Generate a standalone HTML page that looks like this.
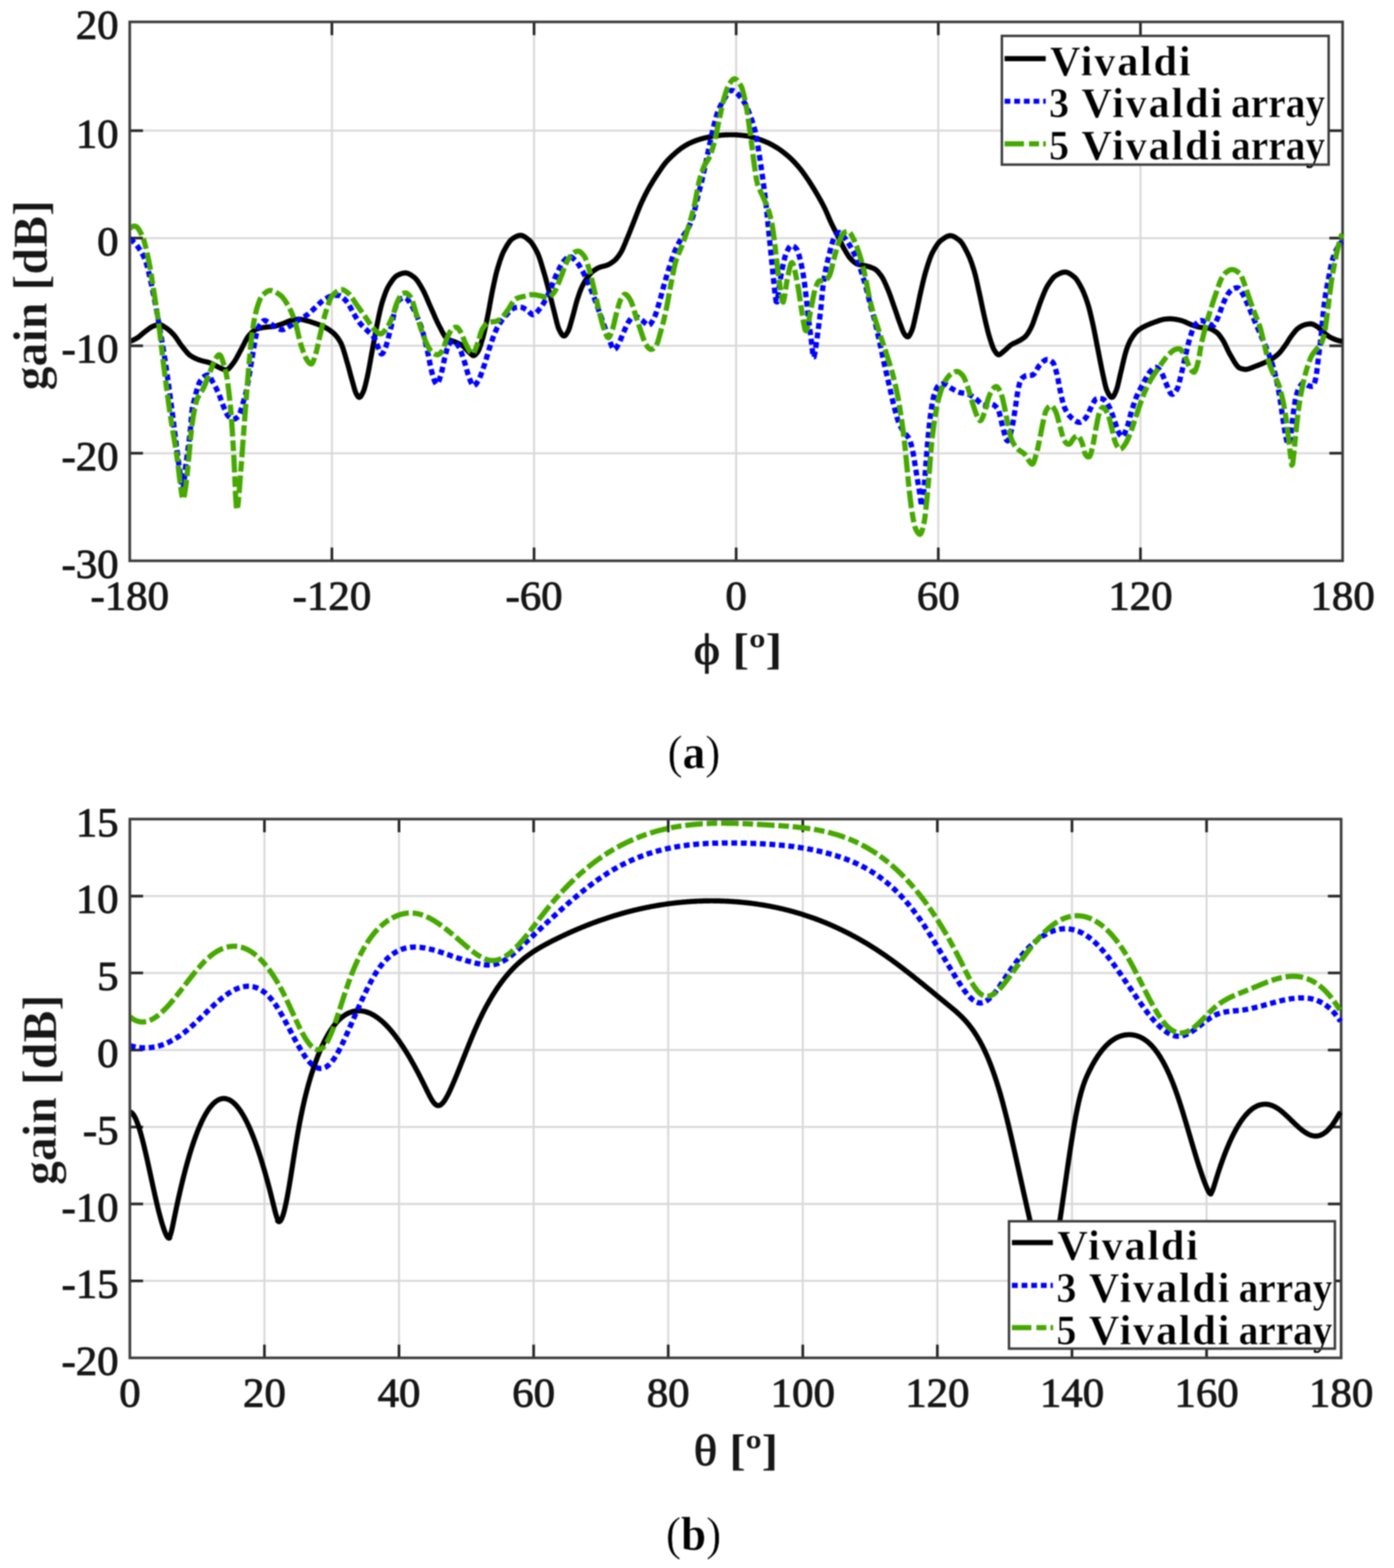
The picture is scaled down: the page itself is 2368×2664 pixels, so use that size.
<!DOCTYPE html>
<html lang="en"><head><meta charset="utf-8"><title>Gain patterns</title>
<style>html,body{margin:0;padding:0;background:#fff}body{width:2368px;height:2664px;overflow:hidden}svg{display:block;font-family:"Liberation Serif", "DejaVu Serif", serif}</style></head><body>
<svg width="2368" height="2664" viewBox="0 0 2368 2664">
<defs><filter id="soft" x="0" y="0" width="2368" height="2664" filterUnits="userSpaceOnUse" color-interpolation-filters="sRGB"><feGaussianBlur stdDeviation="1.00"/></filter></defs>
<rect width="2368" height="2664" fill="#fff"/>
<g filter="url(#soft)">
<rect width="2368" height="2664" fill="#fff"/>
<g id="plot-a">
<path d="M563.8 37.2V952.8M907.2 37.2V952.8M1250.5 37.2V952.8M1593.9 37.2V952.8M1937.3 37.2V952.8M220.4 770.1H2280.7M220.4 587.4H2280.7M220.4 404.6H2280.7M220.4 221.9H2280.7" stroke="#d8d8d8" stroke-width="3.3" fill="none"/>
<path d="M563.8 952.8v-22.5M563.8 37.2v22.5M907.2 952.8v-22.5M907.2 37.2v22.5M1250.5 952.8v-22.5M1250.5 37.2v22.5M1593.9 952.8v-22.5M1593.9 37.2v22.5M1937.3 952.8v-22.5M1937.3 37.2v22.5M220.4 770.1h22.5M2280.7 770.1h-22.5M220.4 587.4h22.5M2280.7 587.4h-22.5M220.4 404.6h22.5M2280.7 404.6h-22.5M220.4 221.9h22.5M2280.7 221.9h-22.5" stroke="#242424" stroke-width="4.5" fill="none"/>
<rect x="220.4" y="37.2" width="2060.3" height="915.6" fill="none" stroke="#3c3c3c" stroke-width="4.5"/>
<clipPath id="clip1"><rect x="222.8" y="37.2" width="2061.1" height="915.6"/></clipPath>
<g clip-path="url(#clip1)" fill="none" stroke-linejoin="round" stroke-width="8.7">
<path d="M220.4 579.9L221.9 579.5L223.4 579.0L224.9 578.4L226.4 577.7L227.9 577.0L229.4 576.2L230.9 575.4L232.4 574.5L233.9 573.6L235.4 572.6L236.9 571.4L238.4 570.1L239.9 568.9L241.4 567.5L242.9 566.2L244.4 565.0L245.9 563.8L247.4 562.6L248.9 561.5L250.4 560.4L251.9 559.3L253.4 558.2L254.9 557.1L256.4 556.2L257.9 555.3L259.4 554.6L260.9 554.0L262.4 553.4L263.9 552.9L265.4 552.4L266.9 552.0L268.4 551.8L269.9 551.7L271.4 551.7L272.9 552.0L274.4 552.5L275.9 553.2L277.4 554.1L278.9 555.1L280.4 556.1L281.9 557.0L283.4 558.0L284.9 559.1L286.4 560.3L287.9 561.5L289.4 562.9L290.9 564.3L292.4 565.8L293.9 567.4L295.4 569.0L296.9 570.8L298.4 572.8L299.9 574.9L301.4 577.1L302.9 579.4L304.4 581.7L305.9 583.9L307.4 586.0L308.9 588.0L310.4 589.9L311.9 591.8L313.4 593.7L314.9 595.5L316.4 597.3L317.9 599.1L319.4 600.6L320.9 602.1L322.4 603.4L323.9 604.4L325.4 605.4L326.9 606.3L328.4 607.1L329.9 607.9L331.4 608.7L332.9 609.3L334.4 610.0L335.9 610.6L337.4 611.1L338.9 611.7L340.4 612.1L341.9 612.6L343.4 613.0L344.9 613.4L346.4 613.7L347.9 614.1L349.4 614.5L350.9 614.8L352.4 615.2L353.9 615.7L355.4 616.2L356.9 616.7L358.4 617.3L359.9 617.9L361.4 618.6L362.9 619.4L364.4 620.2L365.9 621.0L367.4 621.8L368.9 622.6L370.4 623.4L371.9 624.2L373.4 624.9L374.9 625.6L376.4 626.3L377.9 626.9L379.4 627.6L380.9 628.1L382.4 628.4L383.9 628.6L385.4 628.3L386.9 627.5L388.4 626.4L389.9 624.9L391.4 623.2L392.9 621.3L394.4 619.3L395.9 617.3L397.4 615.3L398.9 613.2L400.4 610.8L401.9 608.2L403.4 605.4L404.9 602.6L406.4 599.7L407.9 596.9L409.4 594.2L410.9 591.4L412.4 588.4L413.9 585.4L415.4 582.4L416.9 579.5L418.4 576.7L419.9 574.2L421.4 571.9L422.9 570.0L424.4 568.3L425.9 566.7L427.4 565.2L428.9 563.8L430.4 562.5L431.9 561.3L433.4 560.4L434.9 559.6L436.4 558.9L437.9 558.5L439.4 558.1L440.9 557.8L442.4 557.4L443.9 557.1L445.4 556.8L446.9 556.6L448.4 556.3L449.9 556.1L451.4 555.9L452.9 555.7L454.4 555.6L455.9 555.5L457.4 555.3L458.9 555.2L460.4 555.1L461.9 555.0L463.4 554.8L464.9 554.6L466.4 554.3L467.9 554.0L469.4 553.6L470.9 553.2L472.4 552.7L473.9 552.2L475.4 551.7L476.9 551.2L478.4 550.6L479.9 550.1L481.4 549.6L482.9 548.9L484.4 548.3L485.9 547.6L487.4 546.9L488.9 546.3L490.4 545.7L491.9 545.1L493.4 544.7L494.9 544.3L496.4 543.9L497.9 543.5L499.4 543.2L500.9 542.9L502.4 542.7L503.9 542.5L505.4 542.3L506.9 542.3L508.4 542.3L509.9 542.4L511.4 542.6L512.9 542.9L514.4 543.2L515.9 543.5L517.4 543.9L518.9 544.3L520.4 544.7L521.9 545.1L523.4 545.5L524.9 545.9L526.4 546.3L527.9 546.8L529.4 547.3L530.9 547.8L532.4 548.3L533.9 548.8L535.4 549.4L536.9 549.9L538.4 550.4L539.9 551.0L541.4 551.5L542.9 552.1L544.4 552.7L545.9 553.3L547.4 554.0L548.9 554.6L550.4 555.3L551.9 556.0L553.4 556.8L554.9 557.7L556.4 558.6L557.9 559.5L559.4 560.5L560.9 561.6L562.4 562.7L563.9 563.8L565.4 565.0L566.9 566.3L568.4 567.8L569.9 569.4L571.4 571.1L572.9 573.0L574.4 575.1L575.9 577.4L577.4 579.8L578.9 582.4L580.4 585.7L581.9 589.7L583.4 594.2L584.9 599.0L586.4 604.1L587.9 609.3L589.4 614.4L590.9 619.6L592.4 625.0L593.9 630.7L595.4 636.4L596.9 642.0L598.4 647.3L599.9 652.7L601.4 658.1L602.9 663.2L604.4 667.4L605.9 670.4L607.4 672.8L608.9 674.5L610.4 675.1L611.9 674.4L613.4 672.6L614.9 670.1L616.4 667.1L617.9 663.7L619.4 658.9L620.9 653.3L622.4 647.0L623.9 640.5L625.4 633.4L626.9 625.6L628.4 617.3L629.9 608.8L631.4 600.4L632.9 592.3L634.4 584.2L635.9 575.9L637.4 567.7L638.9 559.8L640.4 552.2L641.9 544.9L643.4 537.7L644.9 530.8L646.4 524.2L647.9 518.2L649.4 513.1L650.9 508.4L652.4 504.0L653.9 499.8L655.4 495.8L656.9 492.3L658.4 489.0L659.9 486.2L661.4 483.8L662.9 481.5L664.4 479.2L665.9 477.1L667.4 475.0L668.9 473.1L670.4 471.5L671.9 470.0L673.4 468.8L674.9 467.9L676.4 467.2L677.9 466.5L679.4 465.8L680.9 465.2L682.4 464.7L683.9 464.3L685.4 464.0L686.9 463.8L688.4 463.7L689.9 463.8L691.4 464.1L692.9 464.5L694.4 465.2L695.9 465.9L697.4 466.8L698.9 467.7L700.4 468.8L701.9 469.8L703.4 470.9L704.9 472.2L706.4 473.8L707.9 475.6L709.4 477.6L710.9 479.8L712.4 482.2L713.9 484.6L715.4 487.2L716.9 489.8L718.4 492.5L719.9 495.4L721.4 498.5L722.9 501.8L724.4 505.2L725.9 508.7L727.4 512.2L728.9 515.8L730.4 519.2L731.9 522.5L733.4 525.9L734.9 529.3L736.4 532.8L737.9 536.2L739.4 539.7L740.9 543.0L742.4 546.3L743.9 549.4L745.4 552.4L746.9 555.2L748.4 558.1L749.9 561.1L751.4 564.0L752.9 566.7L754.4 569.2L755.9 571.5L757.4 573.5L758.9 575.0L760.4 576.0L761.9 576.9L763.4 577.6L764.9 578.2L766.4 578.7L767.9 579.2L769.4 579.7L770.9 580.2L772.4 580.7L773.9 581.3L775.4 582.0L776.9 582.7L778.4 583.3L779.9 584.0L781.4 584.8L782.9 585.6L784.4 586.4L785.9 587.4L787.4 588.6L788.9 590.0L790.4 591.6L791.9 593.3L793.4 594.9L794.9 596.6L796.4 598.1L797.9 599.5L799.4 600.9L800.9 602.3L802.4 603.5L803.9 604.1L805.4 604.1L806.9 603.2L808.4 601.7L809.9 599.9L811.4 598.0L812.9 595.4L814.4 591.8L815.9 587.6L817.4 582.9L818.9 578.0L820.4 572.9L821.9 567.1L823.4 560.8L824.9 554.0L826.4 546.9L827.9 539.7L829.4 532.2L830.9 524.1L832.4 515.8L833.9 507.4L835.4 499.4L836.9 492.0L838.4 484.8L839.9 477.8L841.4 471.0L842.9 464.7L844.4 459.0L845.9 453.9L847.4 449.0L848.9 444.3L850.4 439.9L851.9 435.7L853.4 431.9L854.9 428.4L856.4 425.5L857.9 422.8L859.4 420.1L860.9 417.6L862.4 415.1L863.9 412.8L865.4 410.8L866.9 408.9L868.4 407.3L869.9 406.0L871.4 405.0L872.9 404.1L874.4 403.2L875.9 402.4L877.4 401.6L878.9 401.0L880.4 400.5L881.9 400.1L883.4 399.9L884.9 399.9L886.4 400.1L887.9 400.6L889.4 401.2L890.9 402.1L892.4 403.1L893.9 404.2L895.4 405.4L896.9 406.6L898.4 407.9L899.9 409.2L901.4 410.7L902.9 412.5L904.4 414.5L905.9 416.7L907.4 419.2L908.9 421.8L910.4 424.5L911.9 427.4L913.4 430.5L914.9 434.1L916.4 438.2L917.9 442.7L919.4 447.5L920.9 452.5L922.4 457.5L923.9 462.6L925.4 467.6L926.9 473.0L928.4 478.5L929.9 484.1L931.4 489.8L932.9 495.6L934.4 501.5L935.9 507.5L937.4 513.7L938.9 519.7L940.4 525.7L941.9 531.6L943.4 537.8L944.9 544.0L946.4 549.9L947.9 555.1L949.4 559.1L950.9 562.2L952.4 565.1L953.9 567.6L955.4 569.4L956.9 570.6L958.4 570.8L959.9 570.1L961.4 568.6L962.9 566.4L964.4 563.8L965.9 560.9L967.4 556.8L968.9 551.8L970.4 546.4L971.9 541.0L973.4 535.7L974.9 530.1L976.4 524.3L977.9 518.5L979.4 513.1L980.9 508.1L982.4 503.6L983.9 499.2L985.4 495.0L986.9 491.1L988.4 487.7L989.9 484.6L991.4 481.7L992.9 479.1L994.4 476.6L995.9 474.3L997.4 472.1L998.9 470.1L1000.4 468.1L1001.9 466.2L1003.4 464.5L1004.9 462.9L1006.4 461.6L1007.9 460.4L1009.4 459.3L1010.9 458.3L1012.4 457.3L1013.9 456.4L1015.4 455.6L1016.9 454.9L1018.4 454.3L1019.9 453.7L1021.4 453.3L1022.9 452.9L1024.4 452.5L1025.9 452.1L1027.4 451.7L1028.9 451.3L1030.4 450.8L1031.9 450.3L1033.4 449.6L1034.9 448.8L1036.4 448.0L1037.9 447.1L1039.4 446.0L1040.9 445.0L1042.4 443.8L1043.9 442.6L1045.4 441.2L1046.9 439.7L1048.4 437.9L1049.9 436.0L1051.4 433.9L1052.9 431.6L1054.4 429.3L1055.9 426.7L1057.4 423.7L1058.9 420.4L1060.4 416.9L1061.9 413.3L1063.4 409.6L1064.9 405.9L1066.4 402.3L1067.9 398.7L1069.4 395.0L1070.9 391.2L1072.4 387.4L1073.9 383.6L1075.4 379.8L1076.9 376.0L1078.4 372.2L1079.9 368.4L1081.4 364.5L1082.9 360.6L1084.4 356.8L1085.9 353.1L1087.4 349.5L1088.9 346.1L1090.4 342.8L1091.9 339.6L1093.4 336.4L1094.9 333.3L1096.4 330.3L1097.9 327.4L1099.4 324.5L1100.9 321.8L1102.4 319.1L1103.9 316.4L1105.4 313.9L1106.9 311.4L1108.4 308.9L1109.9 306.5L1111.4 304.1L1112.9 301.8L1114.4 299.5L1115.9 297.3L1117.4 295.0L1118.9 292.8L1120.4 290.6L1121.9 288.3L1123.4 286.1L1124.9 284.0L1126.4 281.9L1127.9 279.9L1129.4 277.9L1130.9 276.1L1132.4 274.4L1133.9 272.7L1135.4 271.1L1136.9 269.6L1138.4 268.1L1139.9 266.6L1141.4 265.2L1142.9 263.8L1144.4 262.5L1145.9 261.1L1147.4 259.8L1148.9 258.5L1150.4 257.2L1151.9 256.0L1153.4 254.8L1154.9 253.6L1156.4 252.4L1157.9 251.4L1159.4 250.3L1160.9 249.4L1162.4 248.4L1163.9 247.5L1165.4 246.6L1166.9 245.8L1168.4 244.9L1169.9 244.1L1171.4 243.4L1172.9 242.7L1174.4 242.0L1175.9 241.4L1177.4 240.7L1178.9 240.1L1180.4 239.5L1181.9 239.0L1183.4 238.4L1184.9 237.9L1186.4 237.4L1187.9 236.9L1189.4 236.5L1190.9 236.0L1192.4 235.6L1193.9 235.2L1195.4 234.8L1196.9 234.4L1198.4 234.1L1199.9 233.7L1201.4 233.4L1202.9 233.1L1204.4 232.7L1205.9 232.4L1207.4 232.1L1208.9 231.9L1210.4 231.6L1211.9 231.3L1213.4 231.1L1214.9 230.9L1216.4 230.7L1217.9 230.5L1219.4 230.3L1220.9 230.1L1222.4 229.9L1223.9 229.8L1225.4 229.6L1226.9 229.5L1228.4 229.4L1229.9 229.3L1231.4 229.2L1232.9 229.2L1234.4 229.1L1235.9 229.1L1237.4 229.0L1238.9 229.0L1240.4 229.0L1241.9 229.0L1243.4 229.0L1244.9 229.0L1246.4 229.0L1247.9 229.0L1249.4 229.1L1250.9 229.2L1252.4 229.2L1253.9 229.4L1255.4 229.5L1256.9 229.6L1258.4 229.7L1259.9 229.9L1261.4 230.0L1262.9 230.2L1264.4 230.4L1265.9 230.6L1267.4 230.7L1268.9 230.9L1270.4 231.2L1271.9 231.5L1273.4 231.9L1274.9 232.2L1276.4 232.6L1277.9 233.1L1279.4 233.5L1280.9 234.0L1282.4 234.4L1283.9 234.9L1285.4 235.4L1286.9 235.8L1288.4 236.3L1289.9 236.8L1291.4 237.3L1292.9 237.8L1294.4 238.4L1295.9 239.0L1297.4 239.6L1298.9 240.2L1300.4 240.8L1301.9 241.5L1303.4 242.1L1304.9 242.8L1306.4 243.5L1307.9 244.3L1309.4 245.0L1310.9 245.8L1312.4 246.7L1313.9 247.5L1315.4 248.4L1316.9 249.3L1318.4 250.2L1319.9 251.1L1321.4 252.0L1322.9 253.0L1324.4 254.0L1325.9 255.1L1327.4 256.2L1328.9 257.3L1330.4 258.4L1331.9 259.6L1333.4 260.8L1334.9 262.0L1336.4 263.2L1337.9 264.5L1339.4 265.8L1340.9 267.1L1342.4 268.5L1343.9 269.9L1345.4 271.4L1346.9 272.9L1348.4 274.4L1349.9 276.0L1351.4 277.6L1352.9 279.3L1354.4 281.0L1355.9 282.7L1357.4 284.5L1358.9 286.3L1360.4 288.2L1361.9 290.2L1363.4 292.2L1364.9 294.2L1366.4 296.3L1367.9 298.4L1369.4 300.6L1370.9 302.7L1372.4 304.9L1373.9 307.2L1375.4 309.5L1376.9 311.8L1378.4 314.2L1379.9 316.6L1381.4 319.1L1382.9 321.6L1384.4 324.1L1385.9 326.6L1387.4 329.1L1388.9 331.7L1390.4 334.2L1391.9 336.9L1393.4 339.5L1394.9 342.2L1396.4 345.0L1397.9 347.8L1399.4 350.7L1400.9 353.7L1402.4 356.9L1403.9 360.3L1405.4 363.8L1406.9 367.3L1408.4 370.8L1409.9 374.2L1411.4 377.5L1412.9 380.7L1414.4 383.7L1415.9 386.7L1417.4 389.7L1418.9 392.6L1420.4 395.6L1421.9 398.5L1423.4 401.5L1424.9 404.6L1426.4 407.7L1427.9 410.9L1429.4 414.0L1430.9 417.0L1432.4 419.9L1433.9 422.6L1435.4 425.2L1436.9 427.8L1438.4 430.4L1439.9 432.8L1441.4 435.1L1442.9 437.2L1444.4 439.0L1445.9 440.6L1447.4 442.1L1448.9 443.5L1450.4 444.8L1451.9 446.0L1453.4 447.1L1454.9 448.0L1456.4 448.7L1457.9 449.1L1459.4 449.5L1460.9 449.8L1462.4 450.1L1463.9 450.3L1465.4 450.6L1466.9 450.8L1468.4 451.1L1469.9 451.4L1471.4 451.8L1472.9 452.2L1474.4 452.6L1475.9 453.0L1477.4 453.5L1478.9 454.0L1480.4 454.6L1481.9 455.2L1483.4 455.8L1484.9 456.5L1486.4 457.3L1487.9 458.4L1489.4 459.7L1490.9 461.2L1492.4 462.9L1493.9 464.7L1495.4 466.6L1496.9 468.5L1498.4 470.8L1499.9 473.4L1501.4 476.3L1502.9 479.5L1504.4 482.8L1505.9 486.2L1507.4 489.7L1508.9 493.3L1510.4 497.1L1511.9 501.1L1513.4 505.3L1514.9 509.6L1516.4 514.0L1517.9 518.3L1519.4 522.5L1520.9 526.8L1522.4 531.2L1523.9 535.6L1525.4 540.0L1526.9 544.2L1528.4 548.4L1529.9 552.4L1531.4 556.5L1532.9 560.4L1534.4 564.0L1535.9 566.8L1537.4 569.0L1538.9 570.7L1540.4 571.9L1541.9 572.4L1543.4 571.7L1544.9 569.9L1546.4 567.2L1547.9 564.0L1549.4 560.5L1550.9 555.7L1552.4 549.7L1553.9 543.0L1555.4 536.1L1556.9 529.5L1558.4 522.6L1559.9 515.4L1561.4 508.1L1562.9 501.0L1564.4 494.2L1565.9 487.8L1567.4 481.3L1568.9 475.1L1570.4 469.1L1571.9 463.5L1573.4 458.4L1574.9 453.6L1576.4 448.8L1577.9 444.3L1579.4 440.0L1580.9 436.0L1582.4 432.4L1583.9 429.2L1585.4 426.5L1586.9 423.8L1588.4 421.3L1589.9 418.8L1591.4 416.6L1592.9 414.4L1594.4 412.5L1595.9 410.8L1597.4 409.4L1598.9 408.2L1600.4 407.1L1601.9 406.0L1603.4 404.9L1604.9 403.9L1606.4 403.0L1607.9 402.2L1609.4 401.5L1610.9 401.0L1612.4 400.6L1613.9 400.4L1615.4 400.5L1616.9 400.7L1618.4 401.1L1619.9 401.8L1621.4 402.5L1622.9 403.4L1624.4 404.4L1625.9 405.4L1627.4 406.5L1628.9 407.7L1630.4 408.8L1631.9 410.3L1633.4 412.2L1634.9 414.3L1636.4 416.7L1637.9 419.3L1639.4 422.0L1640.9 424.9L1642.4 427.9L1643.9 430.8L1645.4 434.0L1646.9 437.4L1648.4 441.2L1649.9 445.2L1651.4 449.6L1652.9 454.2L1654.4 459.0L1655.9 464.1L1657.4 469.9L1658.9 476.3L1660.4 483.1L1661.9 490.1L1663.4 497.0L1664.9 503.8L1666.4 510.9L1667.9 518.1L1669.4 525.3L1670.9 532.2L1672.4 538.9L1673.9 545.4L1675.4 551.9L1676.9 558.1L1678.4 564.1L1679.9 569.6L1681.4 574.5L1682.9 579.3L1684.4 583.9L1685.9 588.2L1687.4 591.9L1688.9 594.8L1690.4 597.1L1691.9 599.3L1693.4 601.2L1694.9 602.4L1696.4 602.8L1697.9 602.3L1699.4 601.5L1700.9 600.4L1702.4 599.2L1703.9 597.8L1705.4 596.5L1706.9 595.3L1708.4 594.0L1709.9 592.6L1711.4 591.1L1712.9 589.7L1714.4 588.4L1715.9 587.1L1717.4 586.0L1718.9 585.0L1720.4 584.2L1721.9 583.5L1723.4 582.8L1724.9 582.1L1726.4 581.4L1727.9 580.7L1729.4 579.9L1730.9 579.1L1732.4 578.3L1733.9 577.4L1735.4 576.5L1736.9 575.6L1738.4 574.5L1739.9 573.4L1741.4 572.1L1742.9 570.5L1744.4 568.6L1745.9 566.5L1747.4 564.1L1748.9 561.5L1750.4 558.7L1751.9 555.8L1753.4 552.5L1754.9 548.7L1756.4 544.6L1757.9 540.2L1759.4 535.9L1760.9 531.7L1762.4 527.4L1763.9 523.0L1765.4 518.6L1766.9 514.4L1768.4 510.5L1769.9 506.6L1771.4 502.9L1772.9 499.1L1774.4 495.6L1775.9 492.2L1777.4 489.1L1778.9 486.3L1780.4 483.9L1781.9 481.6L1783.4 479.4L1784.9 477.3L1786.4 475.2L1787.9 473.4L1789.4 471.7L1790.9 470.2L1792.4 469.0L1793.9 468.0L1795.4 467.1L1796.9 466.3L1798.4 465.5L1799.9 464.7L1801.4 464.1L1802.9 463.5L1804.4 463.0L1805.9 462.6L1807.4 462.4L1808.9 462.3L1810.4 462.3L1811.9 462.6L1813.4 463.1L1814.9 463.7L1816.4 464.5L1817.9 465.4L1819.4 466.4L1820.9 467.5L1822.4 468.6L1823.9 469.8L1825.4 471.0L1826.9 472.5L1828.4 474.3L1829.9 476.5L1831.4 478.8L1832.9 481.4L1834.4 484.0L1835.9 486.8L1837.4 489.6L1838.9 492.7L1840.4 496.0L1841.9 499.6L1843.4 503.5L1844.9 507.6L1846.4 511.9L1847.9 516.4L1849.4 521.4L1850.9 527.0L1852.4 533.1L1853.9 539.5L1855.4 546.1L1856.9 552.8L1858.4 559.9L1859.9 567.4L1861.4 575.1L1862.9 582.9L1864.4 590.6L1865.9 598.1L1867.4 605.9L1868.9 613.6L1870.4 621.2L1871.9 628.6L1873.4 635.6L1874.9 642.5L1876.4 649.4L1877.9 655.7L1879.4 661.0L1880.9 664.7L1882.4 667.8L1883.9 670.6L1885.4 672.8L1886.9 674.3L1888.4 675.1L1889.9 674.8L1891.4 673.3L1892.9 670.8L1894.4 667.7L1895.9 664.1L1897.4 659.8L1898.9 654.3L1900.4 648.0L1901.9 641.2L1903.4 634.6L1904.9 628.4L1906.4 622.1L1907.9 615.6L1909.4 609.2L1910.9 603.2L1912.4 597.8L1913.9 593.2L1915.4 589.1L1916.9 585.2L1918.4 581.8L1919.9 578.7L1921.4 576.1L1922.9 573.8L1924.4 571.5L1925.9 569.4L1927.4 567.4L1928.9 565.6L1930.4 563.9L1931.9 562.5L1933.4 561.2L1934.9 560.1L1936.4 559.1L1937.9 558.1L1939.4 557.1L1940.9 556.3L1942.4 555.5L1943.9 554.7L1945.4 554.0L1946.9 553.3L1948.4 552.6L1949.9 551.9L1951.4 551.3L1952.9 550.6L1954.4 550.0L1955.9 549.4L1957.4 548.8L1958.9 548.3L1960.4 547.7L1961.9 547.2L1963.4 546.7L1964.9 546.1L1966.4 545.6L1967.9 545.0L1969.4 544.5L1970.9 544.0L1972.4 543.6L1973.9 543.2L1975.4 542.8L1976.9 542.5L1978.4 542.3L1979.9 542.1L1981.4 542.0L1982.9 541.9L1984.4 541.8L1985.9 541.7L1987.4 541.7L1988.9 541.7L1990.4 541.8L1991.9 541.8L1993.4 542.0L1994.9 542.2L1996.4 542.4L1997.9 542.6L1999.4 542.9L2000.9 543.2L2002.4 543.5L2003.9 543.9L2005.4 544.2L2006.9 544.6L2008.4 545.1L2009.9 545.6L2011.4 546.2L2012.9 546.8L2014.4 547.5L2015.9 548.2L2017.4 548.9L2018.9 549.7L2020.4 550.3L2021.9 551.0L2023.4 551.5L2024.9 552.1L2026.4 552.6L2027.9 553.1L2029.4 553.6L2030.9 554.1L2032.4 554.5L2033.9 555.0L2035.4 555.4L2036.9 555.7L2038.4 556.0L2039.9 556.2L2041.4 556.4L2042.9 556.5L2044.4 556.6L2045.9 556.7L2047.4 556.8L2048.9 556.9L2050.4 557.1L2051.9 557.3L2053.4 557.6L2054.9 558.1L2056.4 558.6L2057.9 559.3L2059.4 560.1L2060.9 560.9L2062.4 561.8L2063.9 562.8L2065.4 563.8L2066.9 564.9L2068.4 566.2L2069.9 567.8L2071.4 569.6L2072.9 571.5L2074.4 573.7L2075.9 575.9L2077.4 578.2L2078.9 580.7L2080.4 583.6L2081.9 586.7L2083.4 590.0L2084.9 593.2L2086.4 596.4L2087.9 599.4L2089.4 602.0L2090.9 604.6L2092.4 607.2L2093.9 609.8L2095.4 612.4L2096.9 614.9L2098.4 617.3L2099.9 619.5L2101.4 621.4L2102.9 623.1L2104.4 624.4L2105.9 625.3L2107.4 625.8L2108.9 626.3L2110.4 626.8L2111.9 627.1L2113.4 627.4L2114.9 627.6L2116.4 627.6L2117.9 627.4L2119.4 627.1L2120.9 626.7L2122.4 626.3L2123.9 625.7L2125.4 625.2L2126.9 624.6L2128.4 624.0L2129.9 623.4L2131.4 622.8L2132.9 622.2L2134.4 621.7L2135.9 621.1L2137.4 620.5L2138.9 619.9L2140.4 619.3L2141.9 618.7L2143.4 618.1L2144.9 617.4L2146.4 616.8L2147.9 616.1L2149.4 615.4L2150.9 614.7L2152.4 614.0L2153.9 613.3L2155.4 612.5L2156.9 611.7L2158.4 610.9L2159.9 610.0L2161.4 609.1L2162.9 608.2L2164.4 607.2L2165.9 606.1L2167.4 604.9L2168.9 603.7L2170.4 602.4L2171.9 601.0L2173.4 599.5L2174.9 597.8L2176.4 596.0L2177.9 594.0L2179.4 592.0L2180.9 589.9L2182.4 587.9L2183.9 585.8L2185.4 583.6L2186.9 581.2L2188.4 578.9L2189.9 576.5L2191.4 574.2L2192.9 572.0L2194.4 570.0L2195.9 568.0L2197.4 566.1L2198.9 564.2L2200.4 562.3L2201.9 560.7L2203.4 559.2L2204.9 557.9L2206.4 556.8L2207.9 555.9L2209.4 554.9L2210.9 554.1L2212.4 553.3L2213.9 552.7L2215.4 552.1L2216.9 551.7L2218.4 551.3L2219.9 551.0L2221.4 550.7L2222.9 550.5L2224.4 550.3L2225.9 550.2L2227.4 550.3L2228.9 550.6L2230.4 551.0L2231.9 551.7L2233.4 552.5L2234.9 553.3L2236.4 554.2L2237.9 555.2L2239.4 556.3L2240.9 557.6L2242.4 559.0L2243.9 560.5L2245.4 561.9L2246.9 563.3L2248.4 564.6L2249.9 565.8L2251.4 567.1L2252.9 568.3L2254.4 569.5L2255.9 570.6L2257.4 571.7L2258.9 572.6L2260.4 573.4L2261.9 574.1L2263.4 574.8L2264.9 575.5L2266.4 576.1L2267.9 576.7L2269.4 577.3L2270.9 577.8L2272.4 578.2L2273.9 578.7L2275.4 579.1L2276.9 579.4L2278.4 579.8L2279.9 580.0" stroke="#000"/>
<path d="M220.4 406.2L221.9 407.1L223.4 408.1L224.9 409.3L226.4 410.7L227.9 412.1L229.4 413.6L230.9 415.1L232.4 416.9L233.9 418.9L235.4 421.0L236.9 423.2L238.4 425.4L239.9 427.8L241.4 430.4L242.9 433.3L244.4 436.4L245.9 439.9L247.4 443.8L248.9 448.4L250.4 453.7L251.9 459.5L253.4 465.9L254.9 472.6L256.4 479.6L257.9 486.7L259.4 494.0L260.9 501.2L262.4 508.5L263.9 516.2L265.4 524.3L266.9 532.6L268.4 541.1L269.9 549.6L271.4 558.2L272.9 566.7L274.4 575.4L275.9 584.2L277.4 593.2L278.9 602.5L280.4 612.0L281.9 621.9L283.4 632.2L284.9 642.7L286.4 653.6L287.9 664.7L289.4 675.9L290.9 687.3L292.4 698.7L293.9 710.4L295.4 722.5L296.9 734.8L298.4 747.0L299.9 759.0L301.4 770.5L302.9 782.1L304.4 793.6L305.9 804.4L307.4 814.1L308.9 823.0L310.4 829.5L311.9 826.0L313.4 811.8L314.9 796.4L316.4 784.6L317.9 773.5L319.4 762.6L320.9 751.3L322.4 739.0L323.9 724.6L325.4 704.1L326.9 691.9L328.4 685.6L329.9 680.5L331.4 674.6L332.9 668.2L334.4 662.4L335.9 657.6L337.4 653.3L338.9 649.6L340.4 646.9L341.9 644.9L343.4 643.0L344.9 641.4L346.4 640.0L347.9 638.9L349.4 638.0L350.9 637.3L352.4 637.0L353.9 637.3L355.4 638.6L356.9 640.7L358.4 643.3L359.9 646.1L361.4 648.9L362.9 651.5L364.4 654.2L365.9 657.0L367.4 660.0L368.9 663.2L370.4 666.4L371.9 669.8L373.4 673.6L374.9 677.7L376.4 681.9L377.9 686.1L379.4 690.1L380.9 693.6L382.4 697.2L383.9 700.6L385.4 703.5L386.9 705.8L388.4 707.4L389.9 708.8L391.4 710.0L392.9 711.0L394.4 711.6L395.9 712.0L397.4 712.0L398.9 711.6L400.4 710.9L401.9 709.9L403.4 708.7L404.9 707.3L406.4 705.4L407.9 701.6L409.4 696.6L410.9 691.2L412.4 686.2L413.9 681.3L415.4 676.1L416.9 670.5L418.4 664.4L419.9 657.3L421.4 649.2L422.9 640.4L424.4 631.4L425.9 622.5L427.4 613.5L428.9 604.5L430.4 595.3L431.9 586.6L433.4 577.7L434.9 569.9L436.4 564.5L437.9 560.0L439.4 556.1L440.9 552.9L442.4 550.6L443.9 548.8L445.4 547.1L446.9 545.6L448.4 544.7L449.9 544.6L451.4 545.1L452.9 545.8L454.4 546.7L455.9 547.7L457.4 548.7L458.9 549.7L460.4 550.7L461.9 551.6L463.4 552.6L464.9 553.7L466.4 554.7L467.9 555.6L469.4 556.5L470.9 557.3L472.4 558.0L473.9 558.7L475.4 559.3L476.9 559.8L478.4 560.1L479.9 560.2L481.4 559.9L482.9 559.5L484.4 558.8L485.9 558.0L487.4 557.2L488.9 556.2L490.4 555.2L491.9 554.2L493.4 553.3L494.9 552.4L496.4 551.4L497.9 550.3L499.4 549.3L500.9 548.2L502.4 547.1L503.9 546.0L505.4 544.9L506.9 543.8L508.4 542.8L509.9 541.9L511.4 541.0L512.9 540.2L514.4 539.4L515.9 538.5L517.4 537.7L518.9 536.8L520.4 535.8L521.9 534.8L523.4 533.7L524.9 532.4L526.4 531.1L527.9 529.8L529.4 528.4L530.9 527.0L532.4 525.5L533.9 524.1L535.4 522.7L536.9 521.3L538.4 519.9L539.9 518.5L541.4 517.0L542.9 515.5L544.4 514.1L545.9 512.7L547.4 511.4L548.9 510.2L550.4 509.2L551.9 508.2L553.4 507.3L554.9 506.5L556.4 505.7L557.9 504.9L559.4 504.2L560.9 503.6L562.4 503.1L563.9 502.7L565.4 502.4L566.9 502.2L568.4 502.0L569.9 501.9L571.4 501.9L572.9 501.9L574.4 501.9L575.9 502.1L577.4 502.4L578.9 503.1L580.4 504.0L581.9 505.2L583.4 506.5L584.9 508.0L586.4 509.6L587.9 511.3L589.4 513.0L590.9 514.9L592.4 517.2L593.9 519.8L595.4 522.6L596.9 525.6L598.4 528.5L599.9 531.2L601.4 533.7L602.9 536.2L604.4 538.6L605.9 541.0L607.4 543.3L608.9 545.6L610.4 547.7L611.9 549.6L613.4 551.4L614.9 553.0L616.4 554.5L617.9 556.0L619.4 557.4L620.9 558.8L622.4 560.2L623.9 561.7L625.4 563.1L626.9 564.5L628.4 565.8L629.9 567.1L631.4 568.5L632.9 570.1L634.4 572.0L635.9 574.2L637.4 577.5L638.9 581.4L640.4 585.5L641.9 589.3L643.4 592.8L644.9 596.5L646.4 599.7L647.9 601.3L649.4 601.0L650.9 599.1L652.4 596.2L653.9 592.6L655.4 588.9L656.9 584.4L658.4 578.9L659.9 573.0L661.4 567.1L662.9 561.3L664.4 555.4L665.9 549.2L667.4 542.5L668.9 534.9L670.4 527.6L671.9 522.2L673.4 518.4L674.9 515.1L676.4 512.3L677.9 510.0L679.4 508.4L680.9 507.5L682.4 506.9L683.9 506.4L685.4 506.1L686.9 506.0L688.4 506.1L689.9 506.6L691.4 507.8L692.9 509.5L694.4 511.5L695.9 513.7L697.4 516.0L698.9 518.3L700.4 520.9L701.9 523.8L703.4 526.8L704.9 530.0L706.4 533.3L707.9 536.6L709.4 540.0L710.9 543.6L712.4 547.3L713.9 551.3L715.4 555.5L716.9 560.0L718.4 564.9L719.9 570.4L721.4 576.3L722.9 582.6L724.4 589.1L725.9 595.6L727.4 602.5L728.9 610.0L730.4 617.7L731.9 625.0L733.4 631.6L734.9 636.9L736.4 642.0L737.9 646.5L739.4 650.1L740.9 652.1L742.4 652.1L743.9 650.4L745.4 647.3L746.9 643.3L748.4 638.9L749.9 633.7L751.4 627.0L752.9 619.6L754.4 612.5L755.9 606.3L757.4 600.4L758.9 594.6L760.4 589.5L761.9 585.7L763.4 583.7L764.9 582.2L766.4 581.1L767.9 580.3L769.4 579.9L770.9 579.9L772.4 580.5L773.9 581.7L775.4 583.3L776.9 585.3L778.4 587.6L779.9 590.1L781.4 593.0L782.9 596.7L784.4 600.8L785.9 605.3L787.4 609.8L788.9 614.4L790.4 619.4L791.9 624.7L793.4 630.1L794.9 635.3L796.4 639.8L797.9 643.8L799.4 647.8L800.9 651.3L802.4 654.0L803.9 655.2L805.4 655.1L806.9 654.2L808.4 652.7L809.9 650.7L811.4 648.4L812.9 646.0L814.4 643.0L815.9 639.5L817.4 635.6L818.9 631.4L820.4 627.0L821.9 622.6L823.4 618.2L824.9 613.4L826.4 608.4L827.9 603.2L829.4 598.1L830.9 593.1L832.4 588.3L833.9 583.8L835.4 579.6L836.9 575.4L838.4 571.3L839.9 567.4L841.4 563.7L842.9 560.2L844.4 557.2L845.9 554.5L847.4 552.0L848.9 549.6L850.4 547.3L851.9 545.1L853.4 543.1L854.9 541.1L856.4 539.3L857.9 537.6L859.4 535.9L860.9 534.3L862.4 532.6L863.9 531.0L865.4 529.3L866.9 527.8L868.4 526.4L869.9 525.2L871.4 524.2L872.9 523.5L874.4 523.0L875.9 522.6L877.4 522.2L878.9 522.0L880.4 521.8L881.9 521.7L883.4 521.7L884.9 521.9L886.4 522.2L887.9 522.7L889.4 523.4L890.9 524.3L892.4 525.2L893.9 526.1L895.4 527.1L896.9 528.1L898.4 529.4L899.9 531.0L901.4 532.5L902.9 533.8L904.4 534.6L905.9 534.7L907.4 534.3L908.9 533.4L910.4 532.2L911.9 530.6L913.4 528.9L914.9 527.0L916.4 525.1L917.9 523.2L919.4 521.3L920.9 519.2L922.4 516.8L923.9 514.3L925.4 511.5L926.9 508.6L928.4 505.7L929.9 502.6L931.4 499.5L932.9 496.4L934.4 493.1L935.9 489.5L937.4 485.8L938.9 482.0L940.4 478.1L941.9 474.3L943.4 470.6L944.9 467.0L946.4 463.8L947.9 460.7L949.4 457.6L950.9 454.6L952.4 451.8L953.9 449.1L955.4 446.7L956.9 444.6L958.4 442.9L959.9 441.3L961.4 439.8L962.9 438.4L964.4 437.3L965.9 436.5L967.4 436.1L968.9 436.2L970.4 436.7L971.9 437.6L973.4 438.8L974.9 440.2L976.4 441.6L977.9 443.1L979.4 444.8L980.9 446.7L982.4 448.8L983.9 451.1L985.4 453.5L986.9 456.1L988.4 458.7L989.9 461.2L991.4 464.0L992.9 466.9L994.4 469.9L995.9 473.0L997.4 476.3L998.9 479.7L1000.4 483.2L1001.9 486.8L1003.4 490.6L1004.9 494.4L1006.4 498.3L1007.9 502.3L1009.4 506.2L1010.9 510.2L1012.4 514.3L1013.9 518.4L1015.4 522.6L1016.9 526.8L1018.4 531.0L1019.9 535.1L1021.4 539.3L1022.9 543.5L1024.4 547.7L1025.9 551.9L1027.4 556.1L1028.9 560.2L1030.4 564.2L1031.9 568.1L1033.4 572.1L1034.9 576.5L1036.4 580.8L1037.9 585.0L1039.4 588.6L1040.9 591.4L1042.4 593.2L1043.9 593.6L1045.4 592.8L1046.9 591.0L1048.4 588.6L1049.9 585.7L1051.4 582.8L1052.9 579.9L1054.4 576.5L1055.9 572.8L1057.4 569.1L1058.9 565.4L1060.4 562.0L1061.9 558.7L1063.4 555.4L1064.9 552.2L1066.4 549.2L1067.9 546.6L1069.4 544.4L1070.9 542.3L1072.4 540.3L1073.9 538.6L1075.4 537.4L1076.9 536.8L1078.4 537.0L1079.9 537.4L1081.4 538.0L1082.9 538.8L1084.4 539.8L1085.9 540.7L1087.4 541.7L1088.9 542.7L1090.4 543.8L1091.9 545.1L1093.4 546.5L1094.9 548.0L1096.4 549.4L1097.9 550.6L1099.4 551.6L1100.9 552.3L1102.4 552.4L1103.9 551.6L1105.4 550.0L1106.9 547.8L1108.4 545.2L1109.9 542.4L1111.4 539.5L1112.9 536.2L1114.4 532.1L1115.9 527.4L1117.4 522.4L1118.9 517.3L1120.4 512.2L1121.9 506.9L1123.4 501.3L1124.9 495.6L1126.4 490.0L1127.9 484.5L1129.4 479.2L1130.9 474.1L1132.4 469.0L1133.9 464.1L1135.4 459.2L1136.9 454.4L1138.4 449.6L1139.9 444.8L1141.4 440.1L1142.9 435.6L1144.4 431.4L1145.9 427.7L1147.4 424.3L1148.9 421.0L1150.4 418.0L1151.9 415.0L1153.4 412.2L1154.9 409.5L1156.4 406.9L1157.9 404.4L1159.4 402.1L1160.9 400.0L1162.4 397.9L1163.9 395.8L1165.4 393.6L1166.9 391.3L1168.4 388.7L1169.9 385.8L1171.4 382.7L1172.9 379.3L1174.4 375.5L1175.9 371.4L1177.4 366.8L1178.9 361.4L1180.4 355.3L1181.9 348.9L1183.4 342.4L1184.9 336.1L1186.4 330.2L1187.9 324.3L1189.4 318.5L1190.9 312.5L1192.4 306.4L1193.9 300.0L1195.4 293.3L1196.9 286.4L1198.4 279.3L1199.9 272.1L1201.4 265.0L1202.9 257.9L1204.4 250.7L1205.9 243.4L1207.4 236.3L1208.9 229.4L1210.4 222.8L1211.9 216.6L1213.4 210.4L1214.9 204.5L1216.4 199.0L1217.9 194.1L1219.4 190.0L1220.9 186.3L1222.4 182.9L1223.9 179.7L1225.4 176.7L1226.9 173.9L1228.4 171.3L1229.9 168.9L1231.4 166.5L1232.9 164.1L1234.4 161.7L1235.9 159.3L1237.4 157.3L1238.9 155.6L1240.4 154.3L1241.9 153.8L1243.4 153.7L1244.9 153.9L1246.4 154.4L1247.9 155.2L1249.4 156.2L1250.9 157.4L1252.4 158.8L1253.9 160.4L1255.4 162.1L1256.9 164.0L1258.4 165.9L1259.9 167.9L1261.4 170.0L1262.9 172.0L1264.4 174.1L1265.9 176.6L1267.4 179.5L1268.9 182.7L1270.4 186.3L1271.9 190.0L1273.4 193.9L1274.9 197.9L1276.4 201.9L1277.9 206.1L1279.4 210.7L1280.9 215.8L1282.4 221.3L1283.9 227.5L1285.4 235.0L1286.9 244.1L1288.4 253.9L1289.9 263.6L1291.4 273.4L1292.9 283.5L1294.4 293.9L1295.9 304.6L1297.4 315.8L1298.9 327.5L1300.4 339.8L1301.9 353.3L1303.4 368.3L1304.9 383.5L1306.4 398.5L1307.9 413.5L1309.4 428.5L1310.9 443.5L1312.4 458.5L1313.9 474.0L1315.4 489.0L1316.9 501.8L1318.4 512.3L1319.9 513.0L1321.4 505.2L1322.9 493.4L1324.4 481.5L1325.9 472.4L1327.4 464.1L1328.9 456.5L1330.4 449.5L1331.9 442.7L1333.4 436.7L1334.9 432.0L1336.4 428.5L1337.9 425.1L1339.4 422.2L1340.9 419.8L1342.4 418.2L1343.9 417.6L1345.4 417.5L1346.9 417.9L1348.4 418.6L1349.9 419.7L1351.4 421.0L1352.9 422.7L1354.4 425.0L1355.9 429.0L1357.4 434.1L1358.9 439.6L1360.4 445.6L1361.9 452.6L1363.4 460.4L1364.9 469.3L1366.4 479.5L1367.9 490.9L1369.4 504.3L1370.9 518.2L1372.4 531.9L1373.9 544.7L1375.4 556.6L1376.9 568.5L1378.4 580.5L1379.9 594.0L1381.4 606.6L1382.9 606.5L1384.4 598.8L1385.9 588.9L1387.4 578.9L1388.9 567.6L1390.4 556.0L1391.9 544.7L1393.4 532.9L1394.9 519.4L1396.4 501.9L1397.9 487.4L1399.4 476.8L1400.9 467.7L1402.4 459.3L1403.9 451.7L1405.4 445.0L1406.9 439.0L1408.4 433.3L1409.9 427.1L1411.4 420.7L1412.9 415.2L1414.4 410.5L1415.9 406.3L1417.4 402.8L1418.9 400.4L1420.4 398.5L1421.9 396.8L1423.4 395.5L1424.9 394.9L1426.4 395.2L1427.9 396.1L1429.4 397.5L1430.9 399.2L1432.4 401.1L1433.9 403.0L1435.4 404.8L1436.9 406.8L1438.4 409.0L1439.9 411.2L1441.4 413.5L1442.9 415.9L1444.4 418.4L1445.9 420.9L1447.4 423.6L1448.9 426.4L1450.4 429.4L1451.9 432.5L1453.4 435.8L1454.9 439.2L1456.4 442.9L1457.9 446.8L1459.4 450.8L1460.9 455.1L1462.4 459.4L1463.9 463.9L1465.4 468.7L1466.9 473.6L1468.4 478.7L1469.9 484.0L1471.4 489.4L1472.9 495.1L1474.4 501.2L1475.9 507.4L1477.4 513.6L1478.9 519.6L1480.4 525.2L1481.9 530.4L1483.4 535.5L1484.9 540.9L1486.4 546.8L1487.9 553.1L1489.4 559.6L1490.9 566.3L1492.4 573.1L1493.9 579.8L1495.4 586.7L1496.9 593.8L1498.4 600.9L1499.9 608.0L1501.4 615.0L1502.9 621.7L1504.4 628.3L1505.9 634.8L1507.4 641.2L1508.9 647.7L1510.4 654.1L1511.9 660.7L1513.4 667.4L1514.9 674.2L1516.4 680.8L1517.9 687.1L1519.4 693.0L1520.9 698.7L1522.4 704.3L1523.9 709.7L1525.4 714.5L1526.9 718.7L1528.4 722.0L1529.9 724.9L1531.4 727.4L1532.9 729.8L1534.4 732.0L1535.9 734.2L1537.4 736.4L1538.9 738.2L1540.4 739.9L1541.9 741.7L1543.4 743.8L1544.9 746.4L1546.4 750.2L1547.9 755.4L1549.4 761.5L1550.9 768.4L1552.4 776.7L1553.9 786.2L1555.4 795.9L1556.9 805.0L1558.4 814.0L1559.9 823.0L1561.4 832.0L1562.9 842.1L1564.4 853.0L1565.9 859.4L1567.4 854.2L1568.9 838.6L1570.4 820.9L1571.9 801.2L1573.4 780.4L1574.9 761.9L1576.4 744.5L1577.9 729.1L1579.4 714.9L1580.9 702.5L1582.4 692.8L1583.9 684.0L1585.4 676.3L1586.9 670.5L1588.4 666.3L1589.9 662.5L1591.4 659.1L1592.9 656.6L1594.4 655.2L1595.9 654.4L1597.4 653.7L1598.9 653.0L1600.4 652.5L1601.9 652.2L1603.4 652.2L1604.9 652.6L1606.4 653.2L1607.9 654.1L1609.4 655.1L1610.9 656.2L1612.4 657.3L1613.9 658.4L1615.4 659.3L1616.9 660.2L1618.4 661.0L1619.9 661.9L1621.4 662.7L1622.9 663.5L1624.4 664.3L1625.9 665.0L1627.4 665.7L1628.9 666.3L1630.4 666.8L1631.9 667.2L1633.4 667.5L1634.9 667.7L1636.4 667.9L1637.9 668.1L1639.4 668.3L1640.9 668.6L1642.4 668.9L1643.9 669.4L1645.4 669.9L1646.9 670.6L1648.4 671.4L1649.9 672.3L1651.4 673.2L1652.9 674.2L1654.4 675.2L1655.9 676.3L1657.4 677.4L1658.9 678.5L1660.4 679.8L1661.9 681.4L1663.4 683.0L1664.9 684.6L1666.4 686.0L1667.9 687.1L1669.4 687.8L1670.9 688.1L1672.4 688.2L1673.9 688.0L1675.4 687.8L1676.9 687.5L1678.4 687.1L1679.9 686.8L1681.4 686.6L1682.9 686.4L1684.4 686.5L1685.9 686.9L1687.4 687.5L1688.9 688.4L1690.4 689.6L1691.9 691.1L1693.4 692.8L1694.9 694.7L1696.4 697.6L1697.9 702.5L1699.4 708.6L1700.9 715.2L1702.4 721.6L1703.9 727.2L1705.4 733.0L1706.9 739.0L1708.4 744.2L1709.9 747.9L1711.4 749.1L1712.9 747.7L1714.4 744.3L1715.9 739.4L1717.4 733.6L1718.9 727.4L1720.4 720.5L1721.9 711.7L1723.4 701.8L1724.9 692.0L1726.4 681.6L1727.9 670.9L1729.4 662.5L1730.9 655.6L1732.4 649.6L1733.9 645.3L1735.4 643.3L1736.9 641.9L1738.4 640.7L1739.9 639.7L1741.4 638.9L1742.9 638.3L1744.4 638.0L1745.9 637.8L1747.4 637.8L1748.9 637.8L1750.4 637.7L1751.9 637.6L1753.4 637.3L1754.9 636.7L1756.4 635.4L1757.9 633.5L1759.4 631.1L1760.9 628.5L1762.4 625.8L1763.9 623.3L1765.4 621.3L1766.9 619.7L1768.4 618.0L1769.9 616.4L1771.4 614.9L1772.9 613.6L1774.4 612.5L1775.9 611.6L1777.4 611.1L1778.9 611.0L1780.4 611.1L1781.9 611.6L1783.4 612.2L1784.9 613.1L1786.4 614.1L1787.9 615.2L1789.4 617.0L1790.9 620.3L1792.4 624.8L1793.9 630.1L1795.4 635.6L1796.9 642.3L1798.4 650.3L1799.9 658.4L1801.4 665.5L1802.9 672.5L1804.4 679.3L1805.9 685.4L1807.4 690.4L1808.9 693.8L1810.4 696.8L1811.9 699.6L1813.4 702.0L1814.9 704.2L1816.4 706.1L1817.9 707.7L1819.4 709.1L1820.9 710.4L1822.4 711.6L1823.9 712.8L1825.4 714.0L1826.9 715.1L1828.4 716.0L1829.9 716.8L1831.4 717.3L1832.9 717.6L1834.4 717.6L1835.9 717.2L1837.4 716.5L1838.9 715.4L1840.4 714.1L1841.9 712.6L1843.4 711.0L1844.9 709.2L1846.4 707.1L1847.9 704.2L1849.4 700.9L1850.9 697.5L1852.4 694.3L1853.9 691.4L1855.4 688.4L1856.9 685.3L1858.4 682.4L1859.9 679.9L1861.4 678.3L1862.9 677.6L1864.4 677.1L1865.9 676.9L1867.4 676.8L1868.9 676.9L1870.4 677.1L1871.9 677.5L1873.4 677.9L1874.9 678.7L1876.4 679.9L1877.9 681.5L1879.4 683.5L1880.9 685.7L1882.4 688.1L1883.9 690.7L1885.4 693.4L1886.9 696.9L1888.4 700.8L1889.9 705.2L1891.4 709.6L1892.9 713.9L1894.4 718.2L1895.9 722.8L1897.4 727.3L1898.9 731.5L1900.4 734.8L1901.9 737.6L1903.4 740.0L1904.9 741.5L1906.4 741.7L1907.9 740.5L1909.4 738.3L1910.9 735.2L1912.4 731.6L1913.9 727.7L1915.4 723.6L1916.9 718.4L1918.4 712.6L1919.9 706.7L1921.4 701.3L1922.9 696.4L1924.4 691.5L1925.9 686.8L1927.4 682.3L1928.9 678.1L1930.4 674.4L1931.9 671.0L1933.4 667.8L1934.9 664.7L1936.4 661.8L1937.9 659.0L1939.4 656.2L1940.9 653.4L1942.4 650.6L1943.9 647.7L1945.4 644.8L1946.9 642.0L1948.4 639.2L1949.9 636.7L1951.4 634.4L1952.9 632.4L1954.4 630.6L1955.9 628.8L1957.4 627.2L1958.9 625.9L1960.4 624.8L1961.9 624.2L1963.4 624.0L1964.9 624.4L1966.4 625.3L1967.9 626.6L1969.4 628.3L1970.9 630.1L1972.4 632.2L1973.9 634.6L1975.4 637.8L1976.9 641.6L1978.4 645.5L1979.9 649.4L1981.4 652.9L1982.9 656.4L1984.4 660.1L1985.9 663.6L1987.4 666.6L1988.9 668.7L1990.4 669.8L1991.9 669.9L1993.4 669.2L1994.9 667.9L1996.4 666.1L1997.9 663.8L1999.4 661.3L2000.9 658.0L2002.4 653.1L2003.9 647.1L2005.4 640.8L2006.9 634.6L2008.4 628.3L2009.9 621.6L2011.4 614.8L2012.9 608.1L2014.4 601.7L2015.9 595.3L2017.4 589.0L2018.9 582.9L2020.4 577.5L2021.9 572.5L2023.4 567.6L2024.9 563.0L2026.4 558.9L2027.9 555.5L2029.4 553.1L2030.9 551.3L2032.4 549.6L2033.9 548.1L2035.4 546.7L2036.9 545.6L2038.4 544.9L2039.9 544.5L2041.4 544.7L2042.9 545.0L2044.4 545.5L2045.9 546.1L2047.4 546.7L2048.9 547.4L2050.4 548.1L2051.9 548.7L2053.4 549.5L2054.9 550.4L2056.4 551.3L2057.9 552.2L2059.4 552.8L2060.9 553.1L2062.4 552.2L2063.9 550.2L2065.4 547.3L2066.9 543.9L2068.4 540.5L2069.9 537.2L2071.4 533.4L2072.9 529.2L2074.4 524.8L2075.9 520.6L2077.4 516.8L2078.9 513.3L2080.4 509.9L2081.9 506.7L2083.4 503.7L2084.9 501.0L2086.4 498.9L2087.9 496.9L2089.4 495.1L2090.9 493.5L2092.4 492.1L2093.9 491.0L2095.4 490.4L2096.9 489.8L2098.4 489.4L2099.9 489.1L2101.4 489.0L2102.9 489.1L2104.4 489.7L2105.9 491.2L2107.4 493.5L2108.9 495.9L2110.4 498.4L2111.9 501.1L2113.4 504.1L2114.9 507.3L2116.4 510.6L2117.9 513.8L2119.4 517.2L2120.9 520.6L2122.4 524.2L2123.9 527.8L2125.4 531.4L2126.9 534.9L2128.4 538.4L2129.9 541.9L2131.4 545.4L2132.9 548.9L2134.4 552.4L2135.9 555.9L2137.4 559.4L2138.9 562.9L2140.4 566.4L2141.9 569.9L2143.4 573.4L2144.9 576.8L2146.4 580.3L2147.9 583.7L2149.4 587.2L2150.9 590.8L2152.4 594.5L2153.9 598.2L2155.4 602.0L2156.9 606.0L2158.4 610.1L2159.9 614.5L2161.4 619.1L2162.9 624.1L2164.4 629.5L2165.9 635.2L2167.4 641.3L2168.9 647.9L2170.4 655.2L2171.9 663.1L2173.4 671.7L2174.9 681.5L2176.4 691.9L2177.9 702.0L2179.4 712.4L2180.9 722.3L2182.4 731.5L2183.9 740.3L2185.4 747.5L2186.9 752.2L2188.4 754.5L2189.9 752.3L2191.4 745.8L2192.9 737.4L2194.4 725.6L2195.9 711.1L2197.4 698.7L2198.9 688.5L2200.4 679.6L2201.9 673.1L2203.4 667.5L2204.9 662.8L2206.4 659.2L2207.9 656.8L2209.4 654.7L2210.9 652.8L2212.4 651.4L2213.9 650.9L2215.4 651.3L2216.9 652.0L2218.4 652.9L2219.9 653.8L2221.4 654.7L2222.9 655.3L2224.4 655.8L2225.9 656.2L2227.4 656.5L2228.9 656.6L2230.4 656.4L2231.9 653.9L2233.4 649.3L2234.9 643.4L2236.4 635.4L2237.9 622.9L2239.4 609.4L2240.9 597.6L2242.4 586.1L2243.9 573.4L2245.4 557.1L2246.9 540.6L2248.4 526.3L2249.9 513.3L2251.4 502.5L2252.9 493.6L2254.4 485.5L2255.9 477.8L2257.4 470.0L2258.9 461.8L2260.4 454.0L2261.9 447.1L2263.4 441.7L2264.9 436.9L2266.4 432.6L2267.9 428.8L2269.4 425.6L2270.9 422.8L2272.4 420.2L2273.9 417.9L2275.4 415.7L2276.9 413.6L2278.4 411.6L2279.9 409.9" stroke="#0000ff" stroke-dasharray="10 6.2" stroke-width="9"/>
<path d="M220.4 388.3L221.9 386.8L223.4 385.7L224.9 384.9L226.4 384.4L227.9 384.2L229.4 384.2L230.9 384.6L232.4 385.6L233.9 387.2L235.4 389.3L236.9 391.7L238.4 394.4L239.9 397.3L241.4 400.2L242.9 403.8L244.4 408.3L245.9 413.5L247.4 419.4L248.9 425.7L250.4 432.4L251.9 439.3L253.4 446.5L254.9 454.7L256.4 463.6L257.9 473.1L259.4 482.8L260.9 492.4L262.4 501.9L263.9 511.4L265.4 521.2L266.9 531.2L268.4 541.6L269.9 552.6L271.4 564.5L272.9 577.1L274.4 590.0L275.9 603.0L277.4 615.6L278.9 627.5L280.4 639.3L281.9 650.9L283.4 662.4L284.9 673.7L286.4 684.7L287.9 695.5L289.4 706.0L290.9 715.9L292.4 725.3L293.9 734.3L295.4 743.1L296.9 752.0L298.4 761.3L299.9 771.0L301.4 781.7L302.9 793.8L304.4 806.7L305.9 819.4L307.4 830.7L308.9 840.7L310.4 847.8L311.9 846.7L313.4 840.3L314.9 830.7L316.4 819.8L317.9 806.6L319.4 790.6L320.9 774.8L322.4 758.7L323.9 742.4L325.4 727.8L326.9 716.6L328.4 706.9L329.9 698.2L331.4 690.5L332.9 684.1L334.4 679.1L335.9 675.5L337.4 672.5L338.9 670.0L340.4 667.8L341.9 665.6L343.4 663.3L344.9 660.7L346.4 657.6L347.9 654.2L349.4 650.5L350.9 646.7L352.4 642.8L353.9 638.9L355.4 635.0L356.9 631.3L358.4 627.6L359.9 623.8L361.4 620.0L362.9 616.4L364.4 613.0L365.9 610.1L367.4 607.6L368.9 605.4L370.4 603.8L371.9 602.8L373.4 603.0L374.9 604.7L376.4 607.7L377.9 611.8L379.4 616.6L380.9 621.8L382.4 627.2L383.9 633.0L385.4 640.9L386.9 651.0L388.4 662.8L389.9 676.0L391.4 690.2L392.9 707.2L394.4 729.0L395.9 753.7L397.4 779.5L398.9 811.9L400.4 845.4L401.9 865.7L403.4 864.6L404.9 851.9L406.4 834.1L407.9 814.6L409.4 795.9L410.9 775.9L412.4 755.3L413.9 735.1L415.4 715.0L416.9 695.1L418.4 675.6L419.9 656.3L421.4 637.6L422.9 620.1L424.4 603.2L425.9 587.0L427.4 572.7L428.9 561.7L430.4 552.2L431.9 543.6L433.4 536.0L434.9 529.3L436.4 523.7L437.9 519.2L439.4 514.7L440.9 510.6L442.4 507.0L443.9 504.1L445.4 502.1L446.9 500.7L448.4 499.4L449.9 498.1L451.4 496.9L452.9 495.8L454.4 494.9L455.9 494.2L457.4 493.7L458.9 493.5L460.4 493.6L461.9 493.8L463.4 494.2L464.9 494.7L466.4 495.4L467.9 496.1L469.4 497.0L470.9 497.9L472.4 498.9L473.9 499.9L475.4 501.0L476.9 502.1L478.4 503.4L479.9 505.0L481.4 506.8L482.9 508.8L484.4 511.0L485.9 513.4L487.4 515.8L488.9 518.4L490.4 521.0L491.9 523.7L493.4 526.7L494.9 530.1L496.4 533.7L497.9 537.6L499.4 541.8L500.9 546.1L502.4 550.7L503.9 556.1L505.4 562.3L506.9 569.0L508.4 575.5L509.9 581.4L511.4 586.3L512.9 590.8L514.4 595.3L515.9 599.5L517.4 603.3L518.9 606.8L520.4 609.9L521.9 612.4L523.4 614.4L524.9 616.2L526.4 617.6L527.9 618.3L529.4 618.3L530.9 616.6L532.4 613.4L533.9 609.1L535.4 604.3L536.9 599.3L538.4 593.5L539.9 586.9L541.4 579.9L542.9 572.9L544.4 566.2L545.9 559.9L547.4 553.4L548.9 547.0L550.4 540.9L551.9 535.2L553.4 530.2L554.9 525.4L556.4 520.8L557.9 516.3L559.4 512.1L560.9 508.4L562.4 505.3L563.9 502.9L565.4 501.3L566.9 499.8L568.4 498.4L569.9 497.1L571.4 495.9L572.9 494.8L574.4 493.8L575.9 493.0L577.4 492.5L578.9 492.1L580.4 492.0L581.9 492.2L583.4 492.6L584.9 493.3L586.4 494.2L587.9 495.2L589.4 496.4L590.9 497.7L592.4 499.0L593.9 500.5L595.4 502.3L596.9 504.3L598.4 506.4L599.9 508.6L601.4 511.0L602.9 513.3L604.4 515.6L605.9 517.8L607.4 519.9L608.9 522.0L610.4 524.1L611.9 526.2L613.4 528.3L614.9 530.4L616.4 532.5L617.9 534.6L619.4 536.7L620.9 538.8L622.4 541.0L623.9 543.2L625.4 545.5L626.9 547.7L628.4 550.0L629.9 552.2L631.4 554.2L632.9 556.2L634.4 558.0L635.9 559.6L637.4 561.2L638.9 562.7L640.4 564.1L641.9 565.4L643.4 566.3L644.9 567.0L646.4 567.3L647.9 567.0L649.4 566.2L650.9 564.9L652.4 563.2L653.9 561.3L655.4 559.3L656.9 557.2L658.4 555.1L659.9 552.7L661.4 549.9L662.9 546.8L664.4 543.5L665.9 539.9L667.4 536.1L668.9 531.5L670.4 526.5L671.9 521.6L673.4 517.0L674.9 513.2L676.4 510.0L677.9 506.8L679.4 504.0L680.9 501.6L682.4 499.9L683.9 498.9L685.4 498.3L686.9 497.9L688.4 497.7L689.9 497.9L691.4 498.5L692.9 499.6L694.4 501.0L695.9 502.7L697.4 504.6L698.9 507.2L700.4 510.9L701.9 515.3L703.4 520.2L704.9 525.5L706.4 530.7L707.9 535.8L709.4 540.4L710.9 545.1L712.4 549.8L713.9 554.6L715.4 559.3L716.9 563.8L718.4 568.1L719.9 572.1L721.4 575.8L722.9 579.4L724.4 582.9L725.9 586.3L727.4 589.3L728.9 592.0L730.4 594.3L731.9 596.0L733.4 597.4L734.9 598.8L736.4 600.0L737.9 601.0L739.4 601.9L740.9 602.4L742.4 602.7L743.9 602.6L745.4 602.0L746.9 600.9L748.4 599.5L749.9 597.7L751.4 595.7L752.9 593.0L754.4 589.0L755.9 584.4L757.4 579.7L758.9 575.4L760.4 572.1L761.9 569.0L763.4 566.0L764.9 563.3L766.4 561.0L767.9 559.3L769.4 558.1L770.9 557.1L772.4 556.3L773.9 555.9L775.4 555.9L776.9 556.5L778.4 558.0L779.9 560.0L781.4 562.3L782.9 564.8L784.4 567.8L785.9 571.4L787.4 575.3L788.9 579.1L790.4 582.7L791.9 585.7L793.4 588.7L794.9 591.6L796.4 594.2L797.9 596.5L799.4 598.2L800.9 599.4L802.4 600.0L803.9 599.9L805.4 598.4L806.9 595.5L808.4 591.6L809.9 587.4L811.4 583.3L812.9 578.8L814.4 573.6L815.9 568.4L817.4 563.7L818.9 559.9L820.4 557.5L821.9 555.3L823.4 553.3L824.9 551.5L826.4 550.1L827.9 548.8L829.4 548.0L830.9 547.4L832.4 547.1L833.9 546.9L835.4 546.8L836.9 546.7L838.4 546.6L839.9 546.4L841.4 546.2L842.9 545.8L844.4 545.3L845.9 544.6L847.4 543.9L848.9 543.0L850.4 542.0L851.9 540.8L853.4 539.3L854.9 537.5L856.4 535.5L857.9 533.4L859.4 531.3L860.9 529.2L862.4 527.2L863.9 525.0L865.4 522.6L866.9 520.1L868.4 517.5L869.9 515.1L871.4 512.8L872.9 510.7L874.4 509.1L875.9 507.9L877.4 507.2L878.9 506.5L880.4 506.0L881.9 505.5L883.4 505.1L884.9 504.7L886.4 504.3L887.9 504.0L889.4 503.7L890.9 503.3L892.4 503.0L893.9 502.6L895.4 502.2L896.9 501.8L898.4 501.4L899.9 501.1L901.4 500.8L902.9 500.7L904.4 500.6L905.9 500.6L907.4 500.7L908.9 500.9L910.4 501.2L911.9 501.4L913.4 501.7L914.9 502.1L916.4 502.4L917.9 502.7L919.4 503.0L920.9 503.4L922.4 503.8L923.9 504.3L925.4 504.7L926.9 505.1L928.4 505.4L929.9 505.6L931.4 505.5L932.9 504.9L934.4 504.0L935.9 502.7L937.4 501.3L938.9 499.6L940.4 497.9L941.9 496.0L943.4 493.5L944.9 490.4L946.4 486.9L947.9 483.1L949.4 479.2L950.9 475.3L952.4 471.6L953.9 467.9L955.4 463.9L956.9 459.7L958.4 455.6L959.9 451.7L961.4 448.0L962.9 444.8L964.4 442.1L965.9 439.7L967.4 437.3L968.9 435.2L970.4 433.3L971.9 431.6L973.4 430.2L974.9 429.1L976.4 428.3L977.9 427.6L979.4 427.1L980.9 426.8L982.4 426.7L983.9 427.1L985.4 427.8L986.9 429.0L988.4 430.4L989.9 432.0L991.4 433.8L992.9 435.8L994.4 438.7L995.9 442.5L997.4 446.9L998.9 451.6L1000.4 456.5L1001.9 461.6L1003.4 467.3L1004.9 473.3L1006.4 479.7L1007.9 486.1L1009.4 492.4L1010.9 498.8L1012.4 505.5L1013.9 512.2L1015.4 518.8L1016.9 525.1L1018.4 531.2L1019.9 537.2L1021.4 543.2L1022.9 548.9L1024.4 554.1L1025.9 558.7L1027.4 562.8L1028.9 566.9L1030.4 570.4L1031.9 572.8L1033.4 573.7L1034.9 572.7L1036.4 570.2L1037.9 566.5L1039.4 562.3L1040.9 558.0L1042.4 552.5L1043.9 546.1L1045.4 539.5L1046.9 533.3L1048.4 527.8L1049.9 522.3L1051.4 517.0L1052.9 512.4L1054.4 508.8L1055.9 506.1L1057.4 503.6L1058.9 501.6L1060.4 500.3L1061.9 499.9L1063.4 500.4L1064.9 501.5L1066.4 503.0L1067.9 505.1L1069.4 507.4L1070.9 510.0L1072.4 512.9L1073.9 516.8L1075.4 521.4L1076.9 526.3L1078.4 531.4L1079.9 536.2L1081.4 540.7L1082.9 545.3L1084.4 549.9L1085.9 554.4L1087.4 558.8L1088.9 563.2L1090.4 567.6L1091.9 572.2L1093.4 576.6L1094.9 580.5L1096.4 583.8L1097.9 586.2L1099.4 588.4L1100.9 590.3L1102.4 591.8L1103.9 592.9L1105.4 593.5L1106.9 593.6L1108.4 593.1L1109.9 592.2L1111.4 590.9L1112.9 589.4L1114.4 587.6L1115.9 584.7L1117.4 580.7L1118.9 575.8L1120.4 570.5L1121.9 565.0L1123.4 559.8L1124.9 554.4L1126.4 548.7L1127.9 542.6L1129.4 536.3L1130.9 529.6L1132.4 522.4L1133.9 514.6L1135.4 506.3L1136.9 497.8L1138.4 489.6L1139.9 481.9L1141.4 474.2L1142.9 466.5L1144.4 459.1L1145.9 452.1L1147.4 446.0L1148.9 441.0L1150.4 436.7L1151.9 432.8L1153.4 429.3L1154.9 426.0L1156.4 422.6L1157.9 419.1L1159.4 415.2L1160.9 411.1L1162.4 406.8L1163.9 402.4L1165.4 398.0L1166.9 393.5L1168.4 388.8L1169.9 384.0L1171.4 379.1L1172.9 374.1L1174.4 368.9L1175.9 363.4L1177.4 357.7L1178.9 351.7L1180.4 345.1L1181.9 337.5L1183.4 329.3L1184.9 321.1L1186.4 313.6L1187.9 307.1L1189.4 301.6L1190.9 296.5L1192.4 291.9L1193.9 287.6L1195.4 283.8L1196.9 280.5L1198.4 277.8L1199.9 275.5L1201.4 273.4L1202.9 271.1L1204.4 268.4L1205.9 265.1L1207.4 261.3L1208.9 257.0L1210.4 252.4L1211.9 247.3L1213.4 242.0L1214.9 236.0L1216.4 229.2L1217.9 221.8L1219.4 214.4L1220.9 207.0L1222.4 200.1L1223.9 193.2L1225.4 186.2L1226.9 179.4L1228.4 172.9L1229.9 167.2L1231.4 162.1L1232.9 157.3L1234.4 152.8L1235.9 148.7L1237.4 145.3L1238.9 142.6L1240.4 140.4L1241.9 138.3L1243.4 136.6L1244.9 135.1L1246.4 134.2L1247.9 133.9L1249.4 134.3L1250.9 135.2L1252.4 136.6L1253.9 138.5L1255.4 140.6L1256.9 142.9L1258.4 145.3L1259.9 148.5L1261.4 153.0L1262.9 158.6L1264.4 164.9L1265.9 171.8L1267.4 179.1L1268.9 187.9L1270.4 198.1L1271.9 208.7L1273.4 219.2L1274.9 230.1L1276.4 241.4L1277.9 253.2L1279.4 265.7L1280.9 277.4L1282.4 288.0L1283.9 298.2L1285.4 307.0L1286.9 313.2L1288.4 317.5L1289.9 321.2L1291.4 324.4L1292.9 327.5L1294.4 330.6L1295.9 334.0L1297.4 337.4L1298.9 340.7L1300.4 344.1L1301.9 347.6L1303.4 351.4L1304.9 355.6L1306.4 360.3L1307.9 365.6L1309.4 371.5L1310.9 378.1L1312.4 386.6L1313.9 397.1L1315.4 408.5L1316.9 421.2L1318.4 434.7L1319.9 447.5L1321.4 459.9L1322.9 471.8L1324.4 482.8L1325.9 493.4L1327.4 502.9L1328.9 511.4L1330.4 513.4L1331.9 508.2L1333.4 499.5L1334.9 489.2L1336.4 479.2L1337.9 471.2L1339.4 464.3L1340.9 457.2L1342.4 451.1L1343.9 447.1L1345.4 446.1L1346.9 448.0L1348.4 452.2L1349.9 458.2L1351.4 465.2L1352.9 472.9L1354.4 480.7L1355.9 488.7L1357.4 498.2L1358.9 508.6L1360.4 518.8L1361.9 528.1L1363.4 537.3L1364.9 547.0L1366.4 555.6L1367.9 561.2L1369.4 562.1L1370.9 558.9L1372.4 552.9L1373.9 545.1L1375.4 536.7L1376.9 528.6L1378.4 521.3L1379.9 513.4L1381.4 505.4L1382.9 498.0L1384.4 492.2L1385.9 487.8L1387.4 483.8L1388.9 480.5L1390.4 478.2L1391.9 477.2L1393.4 477.0L1394.9 477.1L1396.4 477.3L1397.9 477.4L1399.4 477.4L1400.9 477.0L1402.4 476.3L1403.9 475.1L1405.4 473.5L1406.9 471.6L1408.4 469.3L1409.9 466.2L1411.4 461.4L1412.9 455.5L1414.4 449.1L1415.9 442.7L1417.4 437.1L1418.9 431.6L1420.4 426.1L1421.9 420.7L1423.4 415.7L1424.9 411.3L1426.4 407.7L1427.9 404.5L1429.4 401.4L1430.9 398.8L1432.4 396.7L1433.9 395.2L1435.4 394.4L1436.9 393.7L1438.4 393.3L1439.9 393.2L1441.4 393.5L1442.9 394.5L1444.4 396.2L1445.9 398.5L1447.4 401.2L1448.9 404.2L1450.4 407.3L1451.9 410.3L1453.4 413.7L1454.9 417.5L1456.4 421.7L1457.9 426.0L1459.4 430.5L1460.9 435.2L1462.4 440.2L1463.9 445.5L1465.4 451.1L1466.9 457.1L1468.4 463.3L1469.9 470.2L1471.4 477.8L1472.9 485.7L1474.4 493.6L1475.9 501.2L1477.4 508.0L1478.9 514.4L1480.4 520.5L1481.9 526.1L1483.4 531.5L1484.9 536.6L1486.4 541.6L1487.9 546.5L1489.4 551.2L1490.9 555.9L1492.4 560.6L1493.9 565.3L1495.4 569.8L1496.9 574.3L1498.4 578.8L1499.9 583.2L1501.4 587.6L1502.9 592.1L1504.4 596.7L1505.9 601.3L1507.4 606.0L1508.9 610.6L1510.4 615.3L1511.9 620.1L1513.4 625.1L1514.9 630.2L1516.4 635.6L1517.9 641.3L1519.4 647.3L1520.9 653.7L1522.4 660.5L1523.9 667.6L1525.4 675.1L1526.9 683.5L1528.4 692.6L1529.9 702.2L1531.4 712.2L1532.9 722.8L1534.4 734.1L1535.9 746.3L1537.4 760.1L1538.9 775.4L1540.4 790.9L1541.9 806.2L1543.4 821.6L1544.9 835.7L1546.4 848.8L1547.9 860.8L1549.4 870.7L1550.9 879.8L1552.4 887.9L1553.9 894.2L1555.4 898.2L1556.9 901.5L1558.4 904.2L1559.9 906.2L1561.4 907.5L1562.9 907.8L1564.4 906.6L1565.9 903.1L1567.4 897.9L1568.9 891.4L1570.4 884.3L1571.9 873.6L1573.4 859.3L1574.9 844.1L1576.4 827.6L1577.9 810.0L1579.4 792.2L1580.9 773.0L1582.4 755.1L1583.9 740.8L1585.4 728.4L1586.9 717.5L1588.4 708.0L1589.9 699.5L1591.4 691.4L1592.9 684.0L1594.4 677.4L1595.9 671.9L1597.4 667.0L1598.9 662.4L1600.4 658.1L1601.9 654.3L1603.4 651.1L1604.9 648.6L1606.4 646.2L1607.9 643.9L1609.4 641.8L1610.9 639.9L1612.4 638.2L1613.9 636.7L1615.4 635.5L1616.9 634.6L1618.4 633.6L1619.9 632.8L1621.4 632.1L1622.9 631.6L1624.4 631.2L1625.9 631.1L1627.4 631.4L1628.9 632.1L1630.4 633.1L1631.9 634.4L1633.4 635.9L1634.9 637.5L1636.4 639.4L1637.9 642.1L1639.4 645.5L1640.9 649.4L1642.4 653.5L1643.9 657.7L1645.4 662.2L1646.9 667.2L1648.4 672.4L1649.9 677.7L1651.4 682.8L1652.9 687.6L1654.4 692.2L1655.9 696.7L1657.4 701.0L1658.9 704.7L1660.4 707.9L1661.9 711.0L1663.4 713.5L1664.9 714.8L1666.4 714.3L1667.9 712.1L1669.4 708.7L1670.9 704.7L1672.4 700.6L1673.9 695.8L1675.4 690.0L1676.9 683.9L1678.4 678.3L1679.9 674.0L1681.4 670.3L1682.9 667.0L1684.4 664.1L1685.9 661.8L1687.4 660.0L1688.9 658.4L1690.4 657.2L1691.9 656.7L1693.4 657.0L1694.9 658.3L1696.4 660.4L1697.9 663.2L1699.4 666.3L1700.9 669.7L1702.4 674.4L1703.9 680.5L1705.4 687.4L1706.9 694.2L1708.4 701.7L1709.9 709.6L1711.4 717.2L1712.9 724.1L1714.4 731.1L1715.9 737.8L1717.4 743.7L1718.9 748.2L1720.4 751.2L1721.9 753.9L1723.4 756.3L1724.9 758.4L1726.4 760.2L1727.9 761.8L1729.4 763.3L1730.9 764.6L1732.4 765.7L1733.9 766.7L1735.4 767.7L1736.9 768.7L1738.4 769.8L1739.9 771.0L1741.4 772.5L1742.9 774.5L1744.4 776.9L1745.9 779.5L1747.4 782.0L1748.9 784.4L1750.4 786.4L1751.9 787.9L1753.4 788.6L1754.9 787.5L1756.4 784.3L1757.9 779.8L1759.4 774.7L1760.9 769.7L1762.4 763.6L1763.9 756.7L1765.4 749.5L1766.9 742.2L1768.4 734.4L1769.9 726.7L1771.4 719.6L1772.9 712.6L1774.4 705.7L1775.9 700.2L1777.4 696.9L1778.9 694.4L1780.4 692.3L1781.9 690.7L1783.4 689.6L1784.9 689.2L1786.4 689.6L1787.9 690.7L1789.4 692.5L1790.9 694.8L1792.4 697.5L1793.9 700.6L1795.4 704.7L1796.9 710.1L1798.4 716.1L1799.9 722.1L1801.4 727.5L1802.9 733.1L1804.4 738.7L1805.9 743.8L1807.4 747.6L1808.9 750.0L1810.4 751.8L1811.9 753.3L1813.4 754.4L1814.9 754.8L1816.4 754.6L1817.9 753.5L1819.4 751.6L1820.9 749.2L1822.4 746.7L1823.9 744.5L1825.4 743.0L1826.9 741.8L1828.4 740.9L1829.9 740.4L1831.4 740.5L1832.9 741.8L1834.4 744.2L1835.9 747.2L1837.4 750.6L1838.9 754.6L1840.4 760.6L1841.9 766.8L1843.4 771.3L1844.9 773.6L1846.4 775.2L1847.9 776.2L1849.4 776.3L1850.9 775.6L1852.4 772.7L1853.9 767.6L1855.4 761.4L1856.9 754.8L1858.4 746.8L1859.9 738.0L1861.4 729.3L1862.9 721.6L1864.4 713.8L1865.9 706.7L1867.4 701.4L1868.9 697.8L1870.4 694.8L1871.9 692.8L1873.4 692.1L1874.9 692.7L1876.4 694.0L1877.9 696.0L1879.4 698.5L1880.9 701.4L1882.4 704.7L1883.9 709.2L1885.4 714.7L1886.9 720.8L1888.4 726.8L1889.9 732.8L1891.4 739.6L1892.9 746.1L1894.4 751.1L1895.9 754.4L1897.4 757.4L1898.9 759.9L1900.4 761.8L1901.9 762.9L1903.4 763.0L1904.9 762.3L1906.4 761.1L1907.9 759.5L1909.4 757.4L1910.9 755.2L1912.4 752.8L1913.9 750.3L1915.4 747.3L1916.9 743.9L1918.4 740.2L1919.9 736.3L1921.4 732.4L1922.9 728.3L1924.4 723.9L1925.9 719.4L1927.4 714.7L1928.9 710.0L1930.4 705.4L1931.9 700.8L1933.4 696.5L1934.9 692.1L1936.4 687.8L1937.9 683.4L1939.4 679.2L1940.9 675.1L1942.4 671.2L1943.9 667.5L1945.4 664.1L1946.9 660.7L1948.4 657.5L1949.9 654.5L1951.4 651.5L1952.9 648.7L1954.4 646.0L1955.9 643.5L1957.4 641.0L1958.9 638.7L1960.4 636.4L1961.9 634.2L1963.4 632.0L1964.9 629.9L1966.4 627.7L1967.9 625.5L1969.4 623.3L1970.9 621.1L1972.4 618.8L1973.9 616.6L1975.4 614.4L1976.9 612.3L1978.4 610.4L1979.9 608.5L1981.4 606.7L1982.9 605.1L1984.4 603.4L1985.9 601.8L1987.4 600.3L1988.9 598.8L1990.4 597.5L1991.9 596.3L1993.4 595.3L1994.9 594.4L1996.4 593.8L1997.9 593.3L1999.4 592.9L2000.9 592.7L2002.4 592.6L2003.9 592.8L2005.4 593.6L2006.9 595.1L2008.4 597.2L2009.9 599.7L2011.4 602.4L2012.9 605.1L2014.4 608.3L2015.9 612.1L2017.4 616.0L2018.9 619.8L2020.4 623.1L2021.9 625.8L2023.4 628.2L2024.9 630.3L2026.4 631.8L2027.9 632.5L2029.4 631.7L2030.9 628.9L2032.4 624.7L2033.9 619.7L2035.4 614.3L2036.9 606.9L2038.4 597.7L2039.9 588.7L2041.4 581.4L2042.9 574.9L2044.4 568.7L2045.9 562.8L2047.4 557.1L2048.9 551.6L2050.4 546.3L2051.9 541.1L2053.4 536.0L2054.9 531.1L2056.4 526.3L2057.9 521.5L2059.4 516.8L2060.9 512.2L2062.4 507.7L2063.9 503.3L2065.4 498.9L2066.9 494.6L2068.4 490.2L2069.9 485.8L2071.4 481.5L2072.9 477.7L2074.4 474.4L2075.9 471.7L2077.4 469.3L2078.9 467.0L2080.4 465.1L2081.9 463.5L2083.4 462.2L2084.9 461.2L2086.4 460.2L2087.9 459.3L2089.4 458.6L2090.9 458.2L2092.4 458.0L2093.9 458.1L2095.4 458.3L2096.9 458.8L2098.4 459.4L2099.9 460.3L2101.4 461.2L2102.9 462.3L2104.4 463.5L2105.9 464.7L2107.4 466.4L2108.9 469.1L2110.4 472.7L2111.9 476.7L2113.4 481.0L2114.9 485.1L2116.4 489.3L2117.9 493.8L2119.4 498.5L2120.9 503.2L2122.4 507.7L2123.9 512.0L2125.4 516.1L2126.9 520.1L2128.4 524.1L2129.9 528.0L2131.4 532.0L2132.9 535.9L2134.4 539.7L2135.9 543.4L2137.4 547.3L2138.9 551.4L2140.4 556.0L2141.9 561.2L2143.4 567.2L2144.9 573.5L2146.4 579.9L2147.9 586.0L2149.4 592.3L2150.9 598.6L2152.4 604.8L2153.9 610.4L2155.4 615.3L2156.9 619.7L2158.4 623.9L2159.9 627.7L2161.4 631.4L2162.9 634.9L2164.4 638.2L2165.9 641.1L2167.4 643.7L2168.9 646.5L2170.4 649.6L2171.9 653.2L2173.4 657.6L2174.9 662.7L2176.4 668.4L2177.9 674.6L2179.4 681.1L2180.9 688.5L2182.4 696.9L2183.9 706.1L2185.4 716.6L2186.9 728.7L2188.4 741.4L2189.9 754.0L2191.4 766.6L2192.9 779.3L2194.4 790.4L2195.9 788.0L2197.4 774.5L2198.9 759.9L2200.4 744.7L2201.9 729.1L2203.4 715.2L2204.9 702.5L2206.4 690.9L2207.9 681.1L2209.4 672.3L2210.9 664.2L2212.4 656.8L2213.9 650.0L2215.4 643.5L2216.9 637.3L2218.4 631.7L2219.9 626.6L2221.4 621.9L2222.9 617.4L2224.4 613.1L2225.9 609.2L2227.4 605.9L2228.9 603.2L2230.4 601.0L2231.9 598.9L2233.4 597.0L2234.9 595.2L2236.4 593.4L2237.9 591.6L2239.4 589.9L2240.9 588.3L2242.4 586.5L2243.9 584.4L2245.4 581.4L2246.9 577.3L2248.4 572.1L2249.9 566.0L2251.4 557.2L2252.9 546.2L2254.4 535.0L2255.9 522.9L2257.4 510.6L2258.9 499.0L2260.4 487.5L2261.9 476.8L2263.4 467.5L2264.9 458.9L2266.4 450.8L2267.9 443.2L2269.4 435.9L2270.9 428.8L2272.4 422.2L2273.9 416.3L2275.4 410.9L2276.9 405.8L2278.4 401.2L2279.9 397.2" stroke="#46a800" stroke-dasharray="30 6.5 18 6.5" stroke-width="8.9"/>
</g>
<rect x="1701.9" y="61.0" width="555.1" height="218.7" fill="#fff"/>
<path d="M1706.5 99.6H1776.4" stroke="#000" stroke-width="8.7"/>
<path d="M1706.5 172.0H1776.4" stroke="#0000ff" stroke-width="8.7" stroke-dasharray="9.8 6.6"/>
<path d="M1706.5 244.3h33m8.5 0h17m7 0h4.5" stroke="#46a800" stroke-width="8.7"/>
<text x="1783.5" y="127.8" font-size="72" font-weight="bold" fill="#000" stroke="#fff" stroke-width="0.7" stroke-linejoin="round"><tspan textLength="239.0" lengthAdjust="spacing">Vivaldi</tspan></text>
<text x="1782.0" y="199.0" font-size="72" font-weight="bold" fill="#000" stroke="#fff" stroke-width="0.7" stroke-linejoin="round"><tspan textLength="34.0" lengthAdjust="spacingAndGlyphs">3</tspan> <tspan x="1836.9" textLength="239.0" lengthAdjust="spacing">Vivaldi</tspan> <tspan x="2091.3" textLength="159.5" lengthAdjust="spacingAndGlyphs">array</tspan></text>
<text x="1782.0" y="271.4" font-size="72" font-weight="bold" fill="#000" stroke="#fff" stroke-width="0.7" stroke-linejoin="round"><tspan textLength="34.0" lengthAdjust="spacingAndGlyphs">5</tspan> <tspan x="1836.9" textLength="239.0" lengthAdjust="spacing">Vivaldi</tspan> <tspan x="2091.3" textLength="159.5" lengthAdjust="spacingAndGlyphs">array</tspan></text>
<rect x="1701.9" y="61.0" width="555.1" height="218.7" fill="none" stroke="#3c3c3c" stroke-width="4.2"/>
<text transform="translate(220.4 1035.8) scale(1.0400 1.0000)" font-size="70.0" font-weight="normal" text-anchor="middle" fill="#161616" stroke="#161616" stroke-width="1.50" stroke-linejoin="round">-180</text>
<text transform="translate(563.8 1035.8) scale(1.0400 1.0000)" font-size="70.0" font-weight="normal" text-anchor="middle" fill="#161616" stroke="#161616" stroke-width="1.50" stroke-linejoin="round">-120</text>
<text transform="translate(907.2 1035.8) scale(1.0400 1.0000)" font-size="70.0" font-weight="normal" text-anchor="middle" fill="#161616" stroke="#161616" stroke-width="1.50" stroke-linejoin="round">-60</text>
<text transform="translate(1250.5 1035.8) scale(1.0400 1.0000)" font-size="70.0" font-weight="normal" text-anchor="middle" fill="#161616" stroke="#161616" stroke-width="1.50" stroke-linejoin="round">0</text>
<text transform="translate(1593.9 1035.8) scale(1.0400 1.0000)" font-size="70.0" font-weight="normal" text-anchor="middle" fill="#161616" stroke="#161616" stroke-width="1.50" stroke-linejoin="round">60</text>
<text transform="translate(1937.3 1035.8) scale(1.0400 1.0000)" font-size="70.0" font-weight="normal" text-anchor="middle" fill="#161616" stroke="#161616" stroke-width="1.50" stroke-linejoin="round">120</text>
<text transform="translate(2280.7 1035.8) scale(1.0400 1.0000)" font-size="70.0" font-weight="normal" text-anchor="middle" fill="#161616" stroke="#161616" stroke-width="1.50" stroke-linejoin="round">180</text>
<text transform="translate(201.5 981.8) scale(1.0400 1.0000)" font-size="70.0" font-weight="normal" text-anchor="end" fill="#161616" stroke="#161616" stroke-width="1.50" stroke-linejoin="round">-30</text>
<text transform="translate(201.5 799.1) scale(1.0400 1.0000)" font-size="70.0" font-weight="normal" text-anchor="end" fill="#161616" stroke="#161616" stroke-width="1.50" stroke-linejoin="round">-20</text>
<text transform="translate(201.5 616.4) scale(1.0400 1.0000)" font-size="70.0" font-weight="normal" text-anchor="end" fill="#161616" stroke="#161616" stroke-width="1.50" stroke-linejoin="round">-10</text>
<text transform="translate(201.5 433.6) scale(1.0400 1.0000)" font-size="70.0" font-weight="normal" text-anchor="end" fill="#161616" stroke="#161616" stroke-width="1.50" stroke-linejoin="round">0</text>
<text transform="translate(201.5 250.9) scale(1.0400 1.0000)" font-size="70.0" font-weight="normal" text-anchor="end" fill="#161616" stroke="#161616" stroke-width="1.50" stroke-linejoin="round">10</text>
<text transform="translate(201.5 66.2) scale(1.0400 1.0000)" font-size="70.0" font-weight="normal" text-anchor="end" fill="#161616" stroke="#161616" stroke-width="1.50" stroke-linejoin="round">20</text>
<text transform="translate(78.6 501.6) rotate(-90) scale(0.9930 1.0000)" font-size="82.0" font-weight="bold" text-anchor="middle" fill="#161616" stroke="#fff" stroke-width="0.7" stroke-linejoin="round">gain [dB]</text>
<text transform="translate(1253.5 1127.5) scale(1.13 1)" font-size="75" text-anchor="middle" fill="#161616" font-weight="bold"><tspan font-weight="normal" stroke="#161616" stroke-width="1.6">ϕ</tspan> [º]</text>
<text transform="translate(1178.8 1304.5) scale(0.96 1)" font-size="80" text-anchor="middle" fill="#000" font-weight="normal" stroke="#fff" stroke-width="0.6">(<tspan font-weight="bold">a</tspan>)</text>
</g>
<g id="plot-b">
<path d="M449.2 1391.6V2307.0M677.8 1391.6V2307.0M906.5 1391.6V2307.0M1135.1 1391.6V2307.0M1363.7 1391.6V2307.0M1592.3 1391.6V2307.0M1821.0 1391.6V2307.0M2049.6 1391.6V2307.0M220.6 2176.2H2278.2M220.6 2045.5H2278.2M220.6 1914.7H2278.2M220.6 1783.9H2278.2M220.6 1653.1H2278.2M220.6 1522.4H2278.2" stroke="#d8d8d8" stroke-width="3.3" fill="none"/>
<path d="M449.2 2307.0v-22.5M449.2 1391.6v22.5M677.8 2307.0v-22.5M677.8 1391.6v22.5M906.5 2307.0v-22.5M906.5 1391.6v22.5M1135.1 2307.0v-22.5M1135.1 1391.6v22.5M1363.7 2307.0v-22.5M1363.7 1391.6v22.5M1592.3 2307.0v-22.5M1592.3 1391.6v22.5M1821.0 2307.0v-22.5M1821.0 1391.6v22.5M2049.6 2307.0v-22.5M2049.6 1391.6v22.5M220.6 2176.2h22.5M2278.2 2176.2h-22.5M220.6 2045.5h22.5M2278.2 2045.5h-22.5M220.6 1914.7h22.5M2278.2 1914.7h-22.5M220.6 1783.9h22.5M2278.2 1783.9h-22.5M220.6 1653.1h22.5M2278.2 1653.1h-22.5M220.6 1522.4h22.5M2278.2 1522.4h-22.5" stroke="#242424" stroke-width="4.5" fill="none"/>
<rect x="220.6" y="1391.6" width="2057.6" height="915.4" fill="none" stroke="#3c3c3c" stroke-width="4.5"/>
<clipPath id="clip2"><rect x="223.0" y="1391.6" width="2058.4" height="915.4"/></clipPath>
<g clip-path="url(#clip2)" fill="none" stroke-linejoin="round" stroke-width="8.7">
<path d="M220.7 1888.9L222.2 1889.5L223.7 1890.6L225.2 1892.0L226.7 1893.9L228.2 1896.3L229.7 1899.1L231.2 1902.4L232.7 1906.1L234.2 1910.1L235.7 1914.5L237.2 1919.3L238.7 1924.4L240.2 1929.8L241.7 1935.4L243.2 1941.3L244.7 1947.4L246.2 1953.7L247.7 1960.1L249.2 1966.7L250.7 1973.4L252.2 1980.2L253.7 1987.1L255.2 1994.0L256.7 2000.9L258.2 2007.9L259.7 2014.8L261.2 2021.6L262.7 2028.4L264.2 2035.0L265.7 2041.6L267.2 2048.0L268.7 2054.2L270.2 2060.2L271.7 2065.9L273.2 2071.4L274.7 2076.7L276.2 2081.6L277.7 2086.2L279.2 2090.5L280.7 2094.4L282.2 2097.8L283.7 2100.7L285.2 2102.7L286.7 2103.7L288.2 2103.1L288.5 2100.7L290.0 2096.6L291.5 2090.9L293.0 2084.2L294.5 2077.1L296.0 2069.7L297.5 2062.4L299.0 2055.2L300.5 2048.1L302.0 2041.1L303.5 2034.3L305.0 2027.7L306.5 2021.1L308.0 2014.8L309.5 2008.5L311.0 2002.4L312.5 1996.5L314.0 1990.6L315.5 1984.9L317.0 1979.4L318.5 1974.0L320.0 1968.7L321.5 1963.6L323.0 1958.6L324.5 1953.7L326.0 1949.0L327.5 1944.4L329.0 1940.0L330.5 1935.7L332.0 1931.5L333.5 1927.4L335.0 1923.5L336.5 1919.7L338.0 1916.1L339.5 1912.6L341.0 1909.2L342.5 1905.9L344.0 1902.8L345.5 1899.8L347.0 1897.0L348.5 1894.2L350.0 1891.6L351.5 1889.2L353.0 1886.8L354.5 1884.6L356.0 1882.5L357.5 1880.6L359.0 1878.8L360.5 1877.1L362.0 1875.5L363.5 1874.0L365.0 1872.7L366.5 1871.5L368.0 1870.5L369.5 1869.5L371.0 1868.7L372.5 1868.0L374.0 1867.4L375.5 1867.0L377.0 1866.6L378.5 1866.4L380.0 1866.4L381.5 1866.4L383.0 1866.6L384.5 1866.8L386.0 1867.3L387.5 1867.8L389.0 1868.4L390.5 1869.2L392.0 1870.1L393.5 1871.1L395.0 1872.2L396.5 1873.4L398.0 1874.8L399.5 1876.2L401.0 1877.8L402.5 1879.5L404.0 1881.4L405.5 1883.3L407.0 1885.4L408.5 1887.5L410.0 1889.8L411.5 1892.2L413.0 1894.7L414.5 1897.3L416.0 1900.1L417.5 1902.9L419.0 1905.9L420.5 1908.9L422.0 1912.1L423.5 1915.4L425.0 1918.8L426.5 1922.3L428.0 1926.0L429.5 1929.7L431.0 1933.5L432.5 1937.5L434.0 1941.5L435.5 1945.7L437.0 1950.0L438.5 1954.4L440.0 1958.9L441.5 1963.5L443.0 1968.2L444.5 1973.0L446.0 1977.9L447.5 1982.9L449.0 1988.0L450.5 1993.2L452.0 1998.6L453.5 2004.0L455.0 2009.5L456.5 2015.2L458.0 2020.9L459.5 2026.7L461.0 2032.7L462.5 2038.7L464.0 2044.8L465.5 2050.9L467.0 2056.9L468.5 2062.5L470.0 2067.5L471.5 2071.4L471.5 2074.0L473.0 2075.4L474.5 2075.6L476.0 2074.5L477.5 2072.4L479.0 2069.3L480.5 2065.3L482.0 2060.4L483.5 2054.6L485.0 2048.1L486.5 2041.0L488.0 2033.3L489.5 2025.0L491.0 2016.4L492.5 2007.5L494.0 1998.2L495.5 1988.8L497.0 1979.3L498.5 1969.8L500.0 1960.3L501.5 1950.9L503.0 1941.8L504.5 1932.9L506.0 1924.2L507.5 1915.9L509.0 1907.8L510.5 1900.1L512.0 1892.6L513.5 1885.5L515.0 1878.6L516.5 1872.0L518.0 1865.6L519.5 1859.5L521.0 1853.6L522.5 1847.9L524.0 1842.4L525.5 1837.1L527.0 1832.1L528.5 1827.1L530.0 1822.4L531.5 1817.8L533.0 1813.3L534.5 1809.0L536.0 1804.8L537.5 1800.7L539.0 1796.8L540.5 1792.9L542.0 1789.2L543.5 1785.6L545.0 1782.1L546.5 1778.7L548.0 1775.4L549.5 1772.3L551.0 1769.2L552.5 1766.2L554.0 1763.4L555.5 1760.6L557.0 1758.0L558.5 1755.4L560.0 1753.0L561.5 1750.6L563.0 1748.4L564.5 1746.2L566.0 1744.1L567.5 1742.2L569.0 1740.3L570.5 1738.5L572.0 1736.7L573.5 1735.1L575.0 1733.5L576.5 1732.1L578.0 1730.7L579.5 1729.4L581.0 1728.1L582.5 1727.0L584.0 1725.9L585.5 1724.9L587.0 1723.9L588.5 1723.0L590.0 1722.2L591.5 1721.5L593.0 1720.8L594.5 1720.2L596.0 1719.6L597.5 1719.2L599.0 1718.7L600.5 1718.3L602.0 1718.0L603.5 1717.8L605.0 1717.6L606.5 1717.4L608.0 1717.3L609.5 1717.3L611.0 1717.3L612.5 1717.4L614.0 1717.5L615.5 1717.7L617.0 1718.0L618.5 1718.3L620.0 1718.6L621.5 1719.0L623.0 1719.5L624.5 1720.0L626.0 1720.5L627.5 1721.1L629.0 1721.8L630.5 1722.5L632.0 1723.3L633.5 1724.1L635.0 1724.9L636.5 1725.8L638.0 1726.8L639.5 1727.8L641.0 1728.8L642.5 1729.9L644.0 1731.1L645.5 1732.3L647.0 1733.5L648.5 1734.8L650.0 1736.1L651.5 1737.5L653.0 1738.9L654.5 1740.4L656.0 1741.9L657.5 1743.4L659.0 1745.0L660.5 1746.7L662.0 1748.4L663.5 1750.1L665.0 1751.8L666.5 1753.7L668.0 1755.5L669.5 1757.4L671.0 1759.3L672.5 1761.3L674.0 1763.3L675.5 1765.3L677.0 1767.4L678.5 1769.5L680.0 1771.7L681.5 1773.9L683.0 1776.1L684.5 1778.4L686.0 1780.7L687.5 1783.1L689.0 1785.5L690.5 1787.9L692.0 1790.3L693.5 1792.8L695.0 1795.3L696.5 1797.9L698.0 1800.5L699.5 1803.1L701.0 1805.8L702.5 1808.4L704.0 1811.2L705.5 1813.9L707.0 1816.7L708.5 1819.5L710.0 1822.3L711.5 1825.2L713.0 1828.1L714.5 1831.1L716.0 1834.0L717.5 1837.0L719.0 1840.0L720.5 1843.1L722.0 1846.1L723.5 1849.2L725.0 1852.3L726.5 1855.4L728.0 1858.4L729.5 1861.3L731.0 1864.2L732.5 1866.8L734.0 1869.3L735.5 1871.6L737.0 1873.6L738.5 1875.3L740.0 1876.6L741.5 1877.6L743.0 1878.2L744.5 1878.4L746.0 1878.2L747.5 1877.7L749.0 1876.8L750.5 1875.5L752.0 1874.0L753.5 1872.1L755.0 1870.1L756.5 1867.7L758.0 1865.2L759.5 1862.5L761.0 1859.7L762.5 1856.7L764.0 1853.6L765.5 1850.3L767.0 1847.0L768.5 1843.6L770.0 1840.1L771.5 1836.6L773.0 1833.0L774.5 1829.4L776.0 1825.8L777.5 1822.1L779.0 1818.4L780.5 1814.6L782.0 1810.9L783.5 1807.2L785.0 1803.4L786.5 1799.6L788.0 1795.8L789.5 1792.1L791.0 1788.3L792.5 1784.5L794.0 1780.8L795.5 1777.1L797.0 1773.4L798.5 1769.7L800.0 1766.0L801.5 1762.4L803.0 1758.8L804.5 1755.2L806.0 1751.7L807.5 1748.3L809.0 1744.9L810.5 1741.5L812.0 1738.2L813.5 1734.9L815.0 1731.7L816.5 1728.6L818.0 1725.5L819.5 1722.4L821.0 1719.4L822.5 1716.5L824.0 1713.6L825.5 1710.8L827.0 1708.0L828.5 1705.3L830.0 1702.6L831.5 1699.9L833.0 1697.4L834.5 1694.8L836.0 1692.3L837.5 1689.9L839.0 1687.5L840.5 1685.1L842.0 1682.8L843.5 1680.5L845.0 1678.3L846.5 1676.1L848.0 1674.0L849.5 1671.9L851.0 1669.8L852.5 1667.8L854.0 1665.8L855.5 1663.9L857.0 1662.0L858.5 1660.1L860.0 1658.3L861.5 1656.5L863.0 1654.8L864.5 1653.0L866.0 1651.3L867.5 1649.7L869.0 1648.1L870.5 1646.5L872.0 1644.9L873.5 1643.4L875.0 1641.9L876.5 1640.5L878.0 1639.0L879.5 1637.6L881.0 1636.2L882.5 1634.9L884.0 1633.6L885.5 1632.3L887.0 1631.0L888.5 1629.8L890.0 1628.5L891.5 1627.3L893.0 1626.2L894.5 1625.0L896.0 1623.9L897.5 1622.8L899.0 1621.7L900.5 1620.6L902.0 1619.6L903.5 1618.6L905.0 1617.5L906.5 1616.6L908.0 1615.6L909.5 1614.6L911.0 1613.7L912.5 1612.8L914.0 1611.8L915.5 1610.9L917.0 1610.1L918.5 1609.2L920.0 1608.3L921.5 1607.5L923.0 1606.6L924.5 1605.8L926.0 1605.0L927.5 1604.2L929.0 1603.4L930.5 1602.6L932.0 1601.8L933.5 1601.0L935.0 1600.2L936.5 1599.5L938.0 1598.7L939.5 1597.9L941.0 1597.2L942.5 1596.4L944.0 1595.7L945.5 1595.0L947.0 1594.2L948.5 1593.5L950.0 1592.8L951.5 1592.0L953.0 1591.3L954.5 1590.6L956.0 1589.9L957.5 1589.2L959.0 1588.5L960.5 1587.8L962.0 1587.1L963.5 1586.4L965.0 1585.7L966.5 1585.0L968.0 1584.3L969.5 1583.7L971.0 1583.0L972.5 1582.3L974.0 1581.7L975.5 1581.0L977.0 1580.4L978.5 1579.7L980.0 1579.1L981.5 1578.4L983.0 1577.8L984.5 1577.2L986.0 1576.6L987.5 1575.9L989.0 1575.3L990.5 1574.7L992.0 1574.1L993.5 1573.5L995.0 1572.9L996.5 1572.3L998.0 1571.7L999.5 1571.1L1001.0 1570.5L1002.5 1570.0L1004.0 1569.4L1005.5 1568.8L1007.0 1568.2L1008.5 1567.7L1010.0 1567.1L1011.5 1566.6L1013.0 1566.0L1014.5 1565.5L1016.0 1564.9L1017.5 1564.4L1019.0 1563.9L1020.5 1563.3L1022.0 1562.8L1023.5 1562.3L1025.0 1561.8L1026.5 1561.3L1028.0 1560.8L1029.5 1560.3L1031.0 1559.8L1032.5 1559.3L1034.0 1558.8L1035.5 1558.3L1037.0 1557.8L1038.5 1557.4L1040.0 1556.9L1041.5 1556.4L1043.0 1555.9L1044.5 1555.5L1046.0 1555.0L1047.5 1554.6L1049.0 1554.1L1050.5 1553.7L1052.0 1553.3L1053.5 1552.8L1055.0 1552.4L1056.5 1552.0L1058.0 1551.5L1059.5 1551.1L1061.0 1550.7L1062.5 1550.3L1064.0 1549.9L1065.5 1549.5L1067.0 1549.1L1068.5 1548.7L1070.0 1548.3L1071.5 1547.9L1073.0 1547.6L1074.5 1547.2L1076.0 1546.8L1077.5 1546.4L1079.0 1546.1L1080.5 1545.7L1082.0 1545.4L1083.5 1545.0L1085.0 1544.7L1086.5 1544.3L1088.0 1544.0L1089.5 1543.7L1091.0 1543.3L1092.5 1543.0L1094.0 1542.7L1095.5 1542.4L1097.0 1542.1L1098.5 1541.8L1100.0 1541.5L1101.5 1541.2L1103.0 1540.9L1104.5 1540.6L1106.0 1540.3L1107.5 1540.0L1109.0 1539.7L1110.5 1539.4L1112.0 1539.2L1113.5 1538.9L1115.0 1538.6L1116.5 1538.4L1118.0 1538.1L1119.5 1537.9L1121.0 1537.6L1122.5 1537.4L1124.0 1537.2L1125.5 1536.9L1127.0 1536.7L1128.5 1536.5L1130.0 1536.3L1131.5 1536.0L1133.0 1535.8L1134.5 1535.6L1136.0 1535.4L1137.5 1535.2L1139.0 1535.0L1140.5 1534.8L1142.0 1534.7L1143.5 1534.5L1145.0 1534.3L1146.5 1534.1L1148.0 1533.9L1149.5 1533.8L1151.0 1533.6L1152.5 1533.5L1154.0 1533.3L1155.5 1533.2L1157.0 1533.0L1158.5 1532.9L1160.0 1532.7L1161.5 1532.6L1163.0 1532.5L1164.5 1532.4L1166.0 1532.2L1167.5 1532.1L1169.0 1532.0L1170.5 1531.9L1172.0 1531.8L1173.5 1531.7L1175.0 1531.6L1176.5 1531.5L1178.0 1531.4L1179.5 1531.3L1181.0 1531.3L1182.5 1531.2L1184.0 1531.1L1185.5 1531.0L1187.0 1531.0L1188.5 1530.9L1190.0 1530.9L1191.5 1530.8L1193.0 1530.8L1194.5 1530.7L1196.0 1530.7L1197.5 1530.7L1199.0 1530.6L1200.5 1530.6L1202.0 1530.6L1203.5 1530.6L1205.0 1530.6L1206.5 1530.5L1208.0 1530.5L1209.5 1530.5L1211.0 1530.5L1212.5 1530.6L1214.0 1530.6L1215.5 1530.6L1217.0 1530.6L1218.5 1530.6L1220.0 1530.7L1221.5 1530.7L1223.0 1530.7L1224.5 1530.8L1226.0 1530.8L1227.5 1530.9L1229.0 1530.9L1230.5 1531.0L1232.0 1531.0L1233.5 1531.1L1235.0 1531.2L1236.5 1531.2L1238.0 1531.3L1239.5 1531.4L1241.0 1531.5L1242.5 1531.6L1244.0 1531.7L1245.5 1531.8L1247.0 1531.9L1248.5 1532.0L1250.0 1532.1L1251.5 1532.2L1253.0 1532.3L1254.5 1532.4L1256.0 1532.6L1257.5 1532.7L1259.0 1532.8L1260.5 1533.0L1262.0 1533.1L1263.5 1533.3L1265.0 1533.4L1266.5 1533.6L1268.0 1533.7L1269.5 1533.9L1271.0 1534.1L1272.5 1534.2L1274.0 1534.4L1275.5 1534.6L1277.0 1534.8L1278.5 1535.0L1280.0 1535.2L1281.5 1535.4L1283.0 1535.6L1284.5 1535.8L1286.0 1536.0L1287.5 1536.2L1289.0 1536.5L1290.5 1536.7L1292.0 1536.9L1293.5 1537.2L1295.0 1537.4L1296.5 1537.6L1298.0 1537.9L1299.5 1538.1L1301.0 1538.4L1302.5 1538.7L1304.0 1538.9L1305.5 1539.2L1307.0 1539.5L1308.5 1539.8L1310.0 1540.1L1311.5 1540.4L1313.0 1540.7L1314.5 1541.0L1316.0 1541.3L1317.5 1541.6L1319.0 1541.9L1320.5 1542.2L1322.0 1542.6L1323.5 1542.9L1325.0 1543.2L1326.5 1543.6L1328.0 1543.9L1329.5 1544.3L1331.0 1544.6L1332.5 1545.0L1334.0 1545.4L1335.5 1545.7L1337.0 1546.1L1338.5 1546.5L1340.0 1546.9L1341.5 1547.3L1343.0 1547.7L1344.5 1548.1L1346.0 1548.5L1347.5 1548.9L1349.0 1549.3L1350.5 1549.8L1352.0 1550.2L1353.5 1550.6L1355.0 1551.1L1356.5 1551.5L1358.0 1552.0L1359.5 1552.4L1361.0 1552.9L1362.5 1553.3L1364.0 1553.8L1365.5 1554.3L1367.0 1554.8L1368.5 1555.3L1370.0 1555.8L1371.5 1556.3L1373.0 1556.8L1374.5 1557.3L1376.0 1557.8L1377.5 1558.3L1379.0 1558.8L1380.5 1559.4L1382.0 1559.9L1383.5 1560.4L1385.0 1561.0L1386.5 1561.5L1388.0 1562.1L1389.5 1562.7L1391.0 1563.2L1392.5 1563.8L1394.0 1564.4L1395.5 1565.0L1397.0 1565.6L1398.5 1566.2L1400.0 1566.8L1401.5 1567.4L1403.0 1568.0L1404.5 1568.6L1406.0 1569.3L1407.5 1569.9L1409.0 1570.5L1410.5 1571.2L1412.0 1571.8L1413.5 1572.5L1415.0 1573.2L1416.5 1573.8L1418.0 1574.5L1419.5 1575.2L1421.0 1575.9L1422.5 1576.6L1424.0 1577.3L1425.5 1578.0L1427.0 1578.7L1428.5 1579.4L1430.0 1580.1L1431.5 1580.8L1433.0 1581.6L1434.5 1582.3L1436.0 1583.1L1437.5 1583.8L1439.0 1584.6L1440.5 1585.3L1442.0 1586.1L1443.5 1586.9L1445.0 1587.7L1446.5 1588.5L1448.0 1589.3L1449.5 1590.1L1451.0 1590.9L1452.5 1591.7L1454.0 1592.5L1455.5 1593.3L1457.0 1594.2L1458.5 1595.0L1460.0 1595.8L1461.5 1596.7L1463.0 1597.6L1464.5 1598.4L1466.0 1599.3L1467.5 1600.2L1469.0 1601.1L1470.5 1601.9L1472.0 1602.8L1473.5 1603.7L1475.0 1604.7L1476.5 1605.6L1478.0 1606.5L1479.5 1607.4L1481.0 1608.4L1482.5 1609.3L1484.0 1610.3L1485.5 1611.2L1487.0 1612.2L1488.5 1613.1L1490.0 1614.1L1491.5 1615.1L1493.0 1616.1L1494.5 1617.1L1496.0 1618.1L1497.5 1619.1L1499.0 1620.1L1500.5 1621.1L1502.0 1622.2L1503.5 1623.2L1505.0 1624.2L1506.5 1625.3L1508.0 1626.3L1509.5 1627.4L1511.0 1628.5L1512.5 1629.5L1514.0 1630.6L1515.5 1631.7L1517.0 1632.8L1518.5 1633.9L1520.0 1635.0L1521.5 1636.1L1523.0 1637.2L1524.5 1638.3L1526.0 1639.5L1527.5 1640.6L1529.0 1641.7L1530.5 1642.8L1532.0 1644.0L1533.5 1645.1L1535.0 1646.3L1536.5 1647.4L1538.0 1648.6L1539.5 1649.8L1541.0 1650.9L1542.5 1652.1L1544.0 1653.3L1545.5 1654.4L1547.0 1655.6L1548.5 1656.8L1550.0 1658.0L1551.5 1659.2L1553.0 1660.4L1554.5 1661.6L1556.0 1662.8L1557.5 1664.0L1559.0 1665.2L1560.5 1666.4L1562.0 1667.6L1563.5 1668.8L1565.0 1670.0L1566.5 1671.2L1568.0 1672.4L1569.5 1673.7L1571.0 1674.9L1572.5 1676.1L1574.0 1677.3L1575.5 1678.5L1577.0 1679.8L1578.5 1681.0L1580.0 1682.2L1581.5 1683.4L1583.0 1684.7L1584.5 1685.9L1586.0 1687.1L1587.5 1688.4L1589.0 1689.6L1590.5 1690.8L1592.0 1692.1L1593.5 1693.3L1595.0 1694.5L1596.5 1695.8L1598.0 1697.0L1599.5 1698.2L1601.0 1699.5L1602.5 1700.7L1604.0 1701.9L1605.5 1703.1L1607.0 1704.4L1608.5 1705.6L1610.0 1706.8L1611.5 1708.1L1613.0 1709.3L1614.5 1710.5L1616.0 1711.8L1617.5 1713.0L1619.0 1714.3L1620.5 1715.5L1622.0 1716.8L1623.5 1718.1L1625.0 1719.4L1626.5 1720.8L1628.0 1722.2L1629.5 1723.5L1631.0 1725.0L1632.5 1726.4L1634.0 1727.9L1635.5 1729.4L1637.0 1731.0L1638.5 1732.6L1640.0 1734.2L1641.5 1735.9L1643.0 1737.7L1644.5 1739.4L1646.0 1741.3L1647.5 1743.2L1649.0 1745.1L1650.5 1747.1L1652.0 1749.2L1653.5 1751.3L1655.0 1753.5L1656.5 1755.8L1658.0 1758.1L1659.5 1760.5L1661.0 1763.0L1662.5 1765.6L1664.0 1768.2L1665.5 1770.9L1667.0 1773.7L1668.5 1776.6L1670.0 1779.6L1671.5 1782.6L1673.0 1785.8L1674.5 1789.1L1676.0 1792.4L1677.5 1795.9L1679.0 1799.4L1680.5 1803.1L1682.0 1806.9L1683.5 1810.8L1685.0 1814.7L1686.5 1818.9L1688.0 1823.1L1689.5 1827.4L1691.0 1831.9L1692.5 1836.5L1694.0 1841.2L1695.5 1846.0L1697.0 1851.0L1698.5 1856.1L1700.0 1861.3L1701.5 1866.7L1703.0 1872.2L1704.5 1877.8L1706.0 1883.5L1707.5 1889.3L1709.0 1895.2L1710.5 1901.3L1712.0 1907.4L1713.5 1913.6L1715.0 1919.9L1716.5 1926.3L1718.0 1932.7L1719.5 1939.2L1721.0 1945.8L1722.5 1952.4L1724.0 1959.0L1725.5 1965.7L1727.0 1972.4L1728.5 1979.2L1730.0 1985.9L1731.5 1992.7L1733.0 1999.5L1734.5 2006.2L1736.0 2013.0L1737.5 2019.8L1739.0 2026.5L1740.5 2033.3L1742.0 2039.9L1743.5 2046.6L1745.0 2053.2L1746.5 2059.8L1748.0 2066.3L1749.5 2072.8L1751.0 2079.1L1752.5 2085.5L1754.0 2091.7L1755.5 2097.8L1757.0 2103.9L1758.5 2109.9L1760.0 2115.7L1761.5 2121.4L1763.0 2126.9L1764.5 2132.2L1766.0 2137.2L1767.5 2141.9L1769.0 2146.1L1770.5 2150.0L1772.0 2153.3L1773.5 2156.1L1775.0 2158.2L1776.5 2159.6L1778.0 2160.3L1779.5 2160.2L1781.0 2159.2L1782.5 2157.3L1784.0 2154.4L1785.5 2150.6L1787.0 2145.9L1788.5 2140.4L1790.0 2134.0L1791.5 2126.9L1793.0 2119.2L1794.5 2110.8L1796.0 2102.0L1797.5 2092.7L1799.0 2083.1L1800.5 2073.2L1802.0 2063.2L1803.5 2052.9L1805.0 2042.6L1806.5 2032.2L1808.0 2021.8L1809.5 2011.3L1811.0 2000.9L1812.5 1990.5L1814.0 1980.2L1815.5 1970.0L1817.0 1960.0L1818.5 1950.2L1820.0 1940.5L1821.5 1931.1L1823.0 1921.9L1824.5 1913.1L1826.0 1904.5L1827.5 1896.3L1829.0 1888.5L1830.5 1881.1L1832.0 1874.2L1833.5 1867.7L1835.0 1861.6L1836.5 1856.0L1838.0 1850.9L1839.5 1846.1L1841.0 1841.7L1842.5 1837.6L1844.0 1833.7L1845.5 1830.1L1847.0 1826.7L1848.5 1823.5L1850.0 1820.3L1851.5 1817.3L1853.0 1814.4L1854.5 1811.5L1856.0 1808.7L1857.5 1806.1L1859.0 1803.5L1860.5 1801.0L1862.0 1798.6L1863.5 1796.2L1865.0 1793.9L1866.5 1791.8L1868.0 1789.7L1869.5 1787.6L1871.0 1785.7L1872.5 1783.8L1874.0 1782.0L1875.5 1780.3L1877.0 1778.6L1878.5 1777.0L1880.0 1775.5L1881.5 1774.1L1883.0 1772.7L1884.5 1771.4L1886.0 1770.1L1887.5 1769.0L1889.0 1767.8L1890.5 1766.8L1892.0 1765.8L1893.5 1764.9L1895.0 1764.0L1896.5 1763.2L1898.0 1762.5L1899.5 1761.8L1901.0 1761.2L1902.5 1760.6L1904.0 1760.1L1905.5 1759.7L1907.0 1759.3L1908.5 1758.9L1910.0 1758.6L1911.5 1758.4L1913.0 1758.2L1914.5 1758.1L1916.0 1758.0L1917.5 1757.9L1919.0 1757.9L1920.5 1758.0L1922.0 1758.1L1923.5 1758.2L1925.0 1758.4L1926.5 1758.7L1928.0 1759.0L1929.5 1759.4L1931.0 1759.8L1932.5 1760.3L1934.0 1760.8L1935.5 1761.4L1937.0 1762.1L1938.5 1762.8L1940.0 1763.6L1941.5 1764.4L1943.0 1765.3L1944.5 1766.3L1946.0 1767.4L1947.5 1768.5L1949.0 1769.7L1950.5 1770.9L1952.0 1772.3L1953.5 1773.7L1955.0 1775.2L1956.5 1776.7L1958.0 1778.4L1959.5 1780.1L1961.0 1781.9L1962.5 1783.8L1964.0 1785.8L1965.5 1787.8L1967.0 1789.9L1968.5 1792.2L1970.0 1794.5L1971.5 1796.9L1973.0 1799.4L1974.5 1801.9L1976.0 1804.6L1977.5 1807.4L1979.0 1810.3L1980.5 1813.2L1982.0 1816.3L1983.5 1819.4L1985.0 1822.7L1986.5 1826.0L1988.0 1829.5L1989.5 1833.1L1991.0 1836.7L1992.5 1840.5L1994.0 1844.4L1995.5 1848.4L1997.0 1852.5L1998.5 1856.7L2000.0 1861.0L2001.5 1865.4L2003.0 1869.9L2004.5 1874.5L2006.0 1879.2L2007.5 1884.0L2009.0 1888.8L2010.5 1893.8L2012.0 1898.7L2013.5 1903.7L2015.0 1908.8L2016.5 1913.8L2018.0 1918.9L2019.5 1924.1L2021.0 1929.2L2022.5 1934.3L2024.0 1939.4L2025.5 1944.5L2027.0 1949.6L2028.5 1954.6L2030.0 1959.6L2031.5 1964.5L2033.0 1969.4L2034.5 1974.2L2036.0 1979.0L2037.5 1983.6L2039.0 1988.2L2040.5 1992.7L2042.0 1997.0L2043.5 2001.3L2045.0 2005.4L2046.5 2009.4L2048.0 2013.2L2049.5 2016.9L2051.0 2020.4L2052.5 2023.6L2054.0 2026.2L2055.5 2028.0L2057.0 2028.6L2057.0 2027.7L2058.5 2025.4L2060.0 2021.9L2061.5 2017.5L2063.0 2012.8L2064.5 2007.9L2066.0 2003.0L2067.5 1998.2L2069.0 1993.5L2070.5 1988.9L2072.0 1984.4L2073.5 1980.0L2075.0 1975.7L2076.5 1971.5L2078.0 1967.4L2079.5 1963.4L2081.0 1959.4L2082.5 1955.6L2084.0 1951.9L2085.5 1948.3L2087.0 1944.8L2088.5 1941.3L2090.0 1938.0L2091.5 1934.7L2093.0 1931.6L2094.5 1928.5L2096.0 1925.6L2097.5 1922.7L2099.0 1919.9L2100.5 1917.2L2102.0 1914.6L2103.5 1912.1L2105.0 1909.7L2106.5 1907.3L2108.0 1905.1L2109.5 1902.9L2111.0 1900.9L2112.5 1898.9L2114.0 1897.0L2115.5 1895.2L2117.0 1893.5L2118.5 1891.8L2120.0 1890.3L2121.5 1888.8L2123.0 1887.4L2124.5 1886.1L2126.0 1884.9L2127.5 1883.7L2129.0 1882.7L2130.5 1881.7L2132.0 1880.8L2133.5 1880.0L2135.0 1879.2L2136.5 1878.5L2138.0 1878.0L2139.5 1877.4L2141.0 1877.0L2142.5 1876.7L2144.0 1876.4L2145.5 1876.2L2147.0 1876.0L2148.5 1876.0L2150.0 1876.0L2151.5 1876.1L2153.0 1876.2L2154.5 1876.5L2156.0 1876.8L2157.5 1877.2L2159.0 1877.6L2160.5 1878.1L2162.0 1878.7L2163.5 1879.4L2165.0 1880.1L2166.5 1880.9L2168.0 1881.8L2169.5 1882.7L2171.0 1883.7L2172.5 1884.7L2174.0 1885.8L2175.5 1886.9L2177.0 1888.1L2178.5 1889.4L2180.0 1890.7L2181.5 1892.0L2183.0 1893.3L2184.5 1894.7L2186.0 1896.1L2187.5 1897.5L2189.0 1898.9L2190.5 1900.4L2192.0 1901.8L2193.5 1903.3L2195.0 1904.8L2196.5 1906.2L2198.0 1907.7L2199.5 1909.1L2201.0 1910.5L2202.5 1911.9L2204.0 1913.3L2205.5 1914.7L2207.0 1916.0L2208.5 1917.3L2210.0 1918.5L2211.5 1919.8L2213.0 1920.9L2214.5 1922.0L2216.0 1923.1L2217.5 1924.1L2219.0 1925.0L2220.5 1925.9L2222.0 1926.7L2223.5 1927.4L2225.0 1928.1L2226.5 1928.7L2228.0 1929.1L2229.5 1929.5L2231.0 1929.8L2232.5 1930.1L2234.0 1930.2L2235.5 1930.2L2237.0 1930.1L2238.5 1929.9L2240.0 1929.6L2241.5 1929.2L2243.0 1928.7L2244.5 1928.0L2246.0 1927.3L2247.5 1926.5L2249.0 1925.5L2250.5 1924.5L2252.0 1923.3L2253.5 1922.1L2255.0 1920.7L2256.5 1919.2L2258.0 1917.6L2259.5 1915.9L2261.0 1914.1L2262.5 1912.2L2264.0 1910.2L2265.5 1908.0L2267.0 1905.8L2268.5 1903.4L2270.0 1900.9L2271.5 1898.4L2273.0 1895.9L2274.5 1893.5L2276.0 1891.3L2277.5 1889.6" stroke="#000"/>
<path d="M220.7 1776.4L222.2 1776.9L223.7 1777.3L225.2 1777.7L226.7 1778.0L228.2 1778.4L229.7 1778.7L231.2 1779.0L232.7 1779.2L234.2 1779.4L235.7 1779.6L237.2 1779.8L238.7 1780.0L240.2 1780.1L241.7 1780.2L243.2 1780.2L244.7 1780.3L246.2 1780.3L247.7 1780.3L249.2 1780.2L250.7 1780.2L252.2 1780.1L253.7 1779.9L255.2 1779.8L256.7 1779.6L258.2 1779.4L259.7 1779.2L261.2 1778.9L262.7 1778.7L264.2 1778.4L265.7 1778.0L267.2 1777.7L268.7 1777.3L270.2 1776.9L271.7 1776.4L273.2 1776.0L274.7 1775.5L276.2 1774.9L277.7 1774.4L279.2 1773.8L280.7 1773.2L282.2 1772.6L283.7 1772.0L285.2 1771.3L286.7 1770.6L288.2 1769.9L289.7 1769.1L291.2 1768.3L292.7 1767.5L294.2 1766.7L295.7 1765.8L297.2 1765.0L298.7 1764.1L300.2 1763.1L301.7 1762.2L303.2 1761.2L304.7 1760.2L306.2 1759.2L307.7 1758.1L309.2 1757.0L310.7 1755.9L312.2 1754.8L313.7 1753.6L315.2 1752.4L316.7 1751.2L318.2 1750.0L319.7 1748.7L321.2 1747.4L322.7 1746.1L324.2 1744.8L325.7 1743.5L327.2 1742.1L328.7 1740.8L330.2 1739.4L331.7 1738.0L333.2 1736.6L334.7 1735.2L336.2 1733.8L337.7 1732.3L339.2 1730.9L340.7 1729.4L342.2 1728.0L343.7 1726.5L345.2 1725.1L346.7 1723.6L348.2 1722.2L349.7 1720.7L351.2 1719.3L352.7 1717.8L354.2 1716.4L355.7 1714.9L357.2 1713.5L358.7 1712.1L360.2 1710.7L361.7 1709.3L363.2 1707.9L364.7 1706.5L366.2 1705.1L367.7 1703.8L369.2 1702.5L370.7 1701.2L372.2 1699.9L373.7 1698.6L375.2 1697.4L376.7 1696.1L378.2 1694.9L379.7 1693.8L381.2 1692.6L382.7 1691.5L384.2 1690.4L385.7 1689.4L387.2 1688.3L388.7 1687.3L390.2 1686.4L391.7 1685.4L393.2 1684.5L394.7 1683.7L396.2 1682.9L397.7 1682.1L399.2 1681.3L400.7 1680.6L402.2 1680.0L403.7 1679.4L405.2 1678.8L406.7 1678.3L408.2 1677.8L409.7 1677.3L411.2 1676.9L412.7 1676.6L414.2 1676.3L415.7 1676.1L417.2 1675.9L418.7 1675.7L420.2 1675.7L421.7 1675.6L423.2 1675.6L424.7 1675.7L426.2 1675.9L427.7 1676.1L429.2 1676.3L430.7 1676.6L432.2 1677.0L433.7 1677.5L435.2 1678.0L436.7 1678.5L438.2 1679.2L439.7 1679.9L441.2 1680.6L442.7 1681.5L444.2 1682.4L445.7 1683.4L447.2 1684.4L448.7 1685.5L450.2 1686.7L451.7 1688.0L453.2 1689.4L454.7 1690.8L456.2 1692.3L457.7 1693.9L459.2 1695.5L460.7 1697.3L462.2 1699.1L463.7 1701.0L465.2 1703.0L466.7 1705.1L468.2 1707.2L469.7 1709.5L471.2 1711.8L472.7 1714.2L474.2 1716.6L475.7 1719.1L477.2 1721.7L478.7 1724.3L480.2 1727.0L481.7 1729.7L483.2 1732.4L484.7 1735.2L486.2 1738.0L487.7 1740.8L489.2 1743.7L490.7 1746.5L492.2 1749.4L493.7 1752.3L495.2 1755.1L496.7 1758.0L498.2 1760.8L499.7 1763.6L501.2 1766.4L502.7 1769.2L504.2 1771.9L505.7 1774.6L507.2 1777.2L508.7 1779.8L510.2 1782.4L511.7 1784.9L513.2 1787.3L514.7 1789.7L516.2 1791.9L517.7 1794.1L519.2 1796.3L520.7 1798.3L522.2 1800.2L523.7 1802.1L525.2 1803.8L526.7 1805.5L528.2 1807.0L529.7 1808.4L531.2 1809.7L532.7 1810.8L534.2 1811.8L535.7 1812.7L537.2 1813.5L538.7 1814.1L540.2 1814.6L541.7 1815.0L543.2 1815.2L544.7 1815.3L546.2 1815.2L547.7 1815.0L549.2 1814.7L550.7 1814.2L552.2 1813.6L553.7 1812.8L555.2 1811.9L556.7 1810.8L558.2 1809.6L559.7 1808.3L561.2 1806.8L562.7 1805.1L564.2 1803.3L565.7 1801.3L567.2 1799.2L568.7 1797.0L570.2 1794.6L571.7 1792.1L573.2 1789.5L574.7 1786.8L576.2 1784.0L577.7 1781.1L579.2 1778.1L580.7 1775.1L582.2 1772.0L583.7 1768.8L585.2 1765.5L586.7 1762.3L588.2 1758.9L589.7 1755.6L591.2 1752.2L592.7 1748.8L594.2 1745.4L595.7 1742.0L597.2 1738.6L598.7 1735.1L600.2 1731.7L601.7 1728.3L603.2 1724.8L604.7 1721.4L606.2 1718.0L607.7 1714.6L609.2 1711.2L610.7 1707.9L612.2 1704.6L613.7 1701.2L615.2 1698.0L616.7 1694.7L618.2 1691.5L619.7 1688.3L621.2 1685.2L622.7 1682.1L624.2 1679.1L625.7 1676.1L627.2 1673.1L628.7 1670.3L630.2 1667.4L631.7 1664.7L633.2 1662.0L634.7 1659.4L636.2 1656.8L637.7 1654.4L639.2 1652.0L640.7 1649.7L642.2 1647.4L643.7 1645.3L645.2 1643.2L646.7 1641.2L648.2 1639.3L649.7 1637.5L651.2 1635.7L652.7 1634.0L654.2 1632.3L655.7 1630.8L657.2 1629.3L658.7 1627.9L660.2 1626.5L661.7 1625.2L663.2 1623.9L664.7 1622.7L666.2 1621.6L667.7 1620.5L669.2 1619.5L670.7 1618.6L672.2 1617.7L673.7 1616.8L675.2 1616.0L676.7 1615.3L678.2 1614.6L679.7 1613.9L681.2 1613.3L682.7 1612.7L684.2 1612.2L685.7 1611.8L687.2 1611.3L688.7 1610.9L690.2 1610.6L691.7 1610.3L693.2 1610.0L694.7 1609.8L696.2 1609.6L697.7 1609.4L699.2 1609.3L700.7 1609.2L702.2 1609.2L703.7 1609.1L705.2 1609.1L706.7 1609.1L708.2 1609.2L709.7 1609.3L711.2 1609.4L712.7 1609.5L714.2 1609.6L715.7 1609.8L717.2 1610.0L718.7 1610.2L720.2 1610.4L721.7 1610.7L723.2 1611.0L724.7 1611.3L726.2 1611.6L727.7 1611.9L729.2 1612.2L730.7 1612.6L732.2 1612.9L733.7 1613.3L735.2 1613.7L736.7 1614.1L738.2 1614.6L739.7 1615.0L741.2 1615.4L742.7 1615.9L744.2 1616.3L745.7 1616.8L747.2 1617.3L748.7 1617.8L750.2 1618.3L751.7 1618.8L753.2 1619.3L754.7 1619.8L756.2 1620.3L757.7 1620.8L759.2 1621.3L760.7 1621.8L762.2 1622.3L763.7 1622.8L765.2 1623.4L766.7 1623.9L768.2 1624.4L769.7 1624.9L771.2 1625.4L772.7 1625.9L774.2 1626.4L775.7 1626.9L777.2 1627.4L778.7 1627.9L780.2 1628.4L781.7 1628.8L783.2 1629.3L784.7 1629.8L786.2 1630.2L787.7 1630.7L789.2 1631.1L790.7 1631.6L792.2 1632.0L793.7 1632.5L795.2 1632.9L796.7 1633.3L798.2 1633.7L799.7 1634.1L801.2 1634.5L802.7 1634.9L804.2 1635.3L805.7 1635.7L807.2 1636.1L808.7 1636.4L810.2 1636.8L811.7 1637.1L813.2 1637.4L814.7 1637.7L816.2 1638.0L817.7 1638.3L819.2 1638.6L820.7 1638.8L822.2 1639.0L823.7 1639.2L825.2 1639.3L826.7 1639.4L828.2 1639.5L829.7 1639.5L831.2 1639.5L832.7 1639.5L834.2 1639.4L835.7 1639.3L837.2 1639.1L838.7 1638.8L840.2 1638.5L841.7 1638.2L843.2 1637.8L844.7 1637.3L846.2 1636.8L847.7 1636.2L849.2 1635.6L850.7 1634.9L852.2 1634.2L853.7 1633.4L855.2 1632.6L856.7 1631.7L858.2 1630.8L859.7 1629.8L861.2 1628.8L862.7 1627.7L864.2 1626.6L865.7 1625.5L867.2 1624.4L868.7 1623.2L870.2 1622.0L871.7 1620.7L873.2 1619.5L874.7 1618.2L876.2 1616.9L877.7 1615.6L879.2 1614.2L880.7 1612.9L882.2 1611.5L883.7 1610.1L885.2 1608.7L886.7 1607.3L888.2 1605.9L889.7 1604.5L891.2 1603.1L892.7 1601.7L894.2 1600.3L895.7 1598.9L897.2 1597.5L898.7 1596.1L900.2 1594.7L901.7 1593.2L903.2 1591.8L904.7 1590.4L906.2 1589.0L907.7 1587.6L909.2 1586.2L910.7 1584.8L912.2 1583.4L913.7 1582.0L915.2 1580.6L916.7 1579.1L918.2 1577.7L919.7 1576.3L921.2 1574.9L922.7 1573.5L924.2 1572.1L925.7 1570.7L927.2 1569.3L928.7 1567.9L930.2 1566.5L931.7 1565.1L933.2 1563.8L934.7 1562.4L936.2 1561.0L937.7 1559.6L939.2 1558.2L940.7 1556.8L942.2 1555.5L943.7 1554.1L945.2 1552.7L946.7 1551.4L948.2 1550.0L949.7 1548.7L951.2 1547.3L952.7 1546.0L954.2 1544.6L955.7 1543.3L957.2 1541.9L958.7 1540.6L960.2 1539.3L961.7 1538.0L963.2 1536.6L964.7 1535.3L966.2 1534.0L967.7 1532.7L969.2 1531.4L970.7 1530.1L972.2 1528.8L973.7 1527.6L975.2 1526.3L976.7 1525.0L978.2 1523.8L979.7 1522.5L981.2 1521.3L982.7 1520.0L984.2 1518.8L985.7 1517.5L987.2 1516.3L988.7 1515.1L990.2 1513.9L991.7 1512.7L993.2 1511.5L994.7 1510.3L996.2 1509.1L997.7 1508.0L999.2 1506.8L1000.7 1505.6L1002.2 1504.5L1003.7 1503.4L1005.2 1502.2L1006.7 1501.1L1008.2 1500.0L1009.7 1498.9L1011.2 1497.8L1012.7 1496.7L1014.2 1495.6L1015.7 1494.6L1017.2 1493.5L1018.7 1492.4L1020.2 1491.4L1021.7 1490.4L1023.2 1489.4L1024.7 1488.3L1026.2 1487.3L1027.7 1486.4L1029.2 1485.4L1030.7 1484.4L1032.2 1483.4L1033.7 1482.5L1035.2 1481.6L1036.7 1480.6L1038.2 1479.7L1039.7 1478.8L1041.2 1477.9L1042.7 1477.0L1044.2 1476.2L1045.7 1475.3L1047.2 1474.5L1048.7 1473.6L1050.2 1472.8L1051.7 1472.0L1053.2 1471.2L1054.7 1470.4L1056.2 1469.6L1057.7 1468.8L1059.2 1468.1L1060.7 1467.3L1062.2 1466.6L1063.7 1465.8L1065.2 1465.1L1066.7 1464.4L1068.2 1463.7L1069.7 1463.0L1071.2 1462.3L1072.7 1461.6L1074.2 1461.0L1075.7 1460.3L1077.2 1459.7L1078.7 1459.0L1080.2 1458.4L1081.7 1457.8L1083.2 1457.2L1084.7 1456.6L1086.2 1456.0L1087.7 1455.4L1089.2 1454.9L1090.7 1454.3L1092.2 1453.7L1093.7 1453.2L1095.2 1452.7L1096.7 1452.1L1098.2 1451.6L1099.7 1451.1L1101.2 1450.6L1102.7 1450.1L1104.2 1449.6L1105.7 1449.2L1107.2 1448.7L1108.7 1448.2L1110.2 1447.8L1111.7 1447.3L1113.2 1446.9L1114.7 1446.5L1116.2 1446.1L1117.7 1445.6L1119.2 1445.2L1120.7 1444.8L1122.2 1444.5L1123.7 1444.1L1125.2 1443.7L1126.7 1443.3L1128.2 1443.0L1129.7 1442.6L1131.2 1442.3L1132.7 1441.9L1134.2 1441.6L1135.7 1441.3L1137.2 1441.0L1138.7 1440.7L1140.2 1440.4L1141.7 1440.1L1143.2 1439.8L1144.7 1439.5L1146.2 1439.2L1147.7 1438.9L1149.2 1438.7L1150.7 1438.4L1152.2 1438.2L1153.7 1437.9L1155.2 1437.7L1156.7 1437.5L1158.2 1437.2L1159.7 1437.0L1161.2 1436.8L1162.7 1436.6L1164.2 1436.4L1165.7 1436.2L1167.2 1436.0L1168.7 1435.8L1170.2 1435.6L1171.7 1435.5L1173.2 1435.3L1174.7 1435.1L1176.2 1435.0L1177.7 1434.8L1179.2 1434.7L1180.7 1434.5L1182.2 1434.4L1183.7 1434.3L1185.2 1434.1L1186.7 1434.0L1188.2 1433.9L1189.7 1433.8L1191.2 1433.7L1192.7 1433.6L1194.2 1433.5L1195.7 1433.4L1197.2 1433.3L1198.7 1433.2L1200.2 1433.1L1201.7 1433.0L1203.2 1432.9L1204.7 1432.9L1206.2 1432.8L1207.7 1432.7L1209.2 1432.7L1210.7 1432.6L1212.2 1432.6L1213.7 1432.5L1215.2 1432.5L1216.7 1432.4L1218.2 1432.4L1219.7 1432.4L1221.2 1432.3L1222.7 1432.3L1224.2 1432.3L1225.7 1432.3L1227.2 1432.2L1228.7 1432.2L1230.2 1432.2L1231.7 1432.2L1233.2 1432.2L1234.7 1432.2L1236.2 1432.2L1237.7 1432.2L1239.2 1432.2L1240.7 1432.2L1242.2 1432.2L1243.7 1432.2L1245.2 1432.2L1246.7 1432.2L1248.2 1432.2L1249.7 1432.3L1251.2 1432.3L1252.7 1432.3L1254.2 1432.3L1255.7 1432.4L1257.2 1432.4L1258.7 1432.4L1260.2 1432.4L1261.7 1432.5L1263.2 1432.5L1264.7 1432.5L1266.2 1432.6L1267.7 1432.6L1269.2 1432.7L1270.7 1432.7L1272.2 1432.7L1273.7 1432.8L1275.2 1432.8L1276.7 1432.9L1278.2 1432.9L1279.7 1433.0L1281.2 1433.0L1282.7 1433.1L1284.2 1433.2L1285.7 1433.2L1287.2 1433.3L1288.7 1433.3L1290.2 1433.4L1291.7 1433.5L1293.2 1433.6L1294.7 1433.6L1296.2 1433.7L1297.7 1433.8L1299.2 1433.9L1300.7 1434.0L1302.2 1434.1L1303.7 1434.1L1305.2 1434.2L1306.7 1434.3L1308.2 1434.4L1309.7 1434.5L1311.2 1434.6L1312.7 1434.8L1314.2 1434.9L1315.7 1435.0L1317.2 1435.1L1318.7 1435.2L1320.2 1435.4L1321.7 1435.5L1323.2 1435.6L1324.7 1435.8L1326.2 1435.9L1327.7 1436.0L1329.2 1436.2L1330.7 1436.3L1332.2 1436.5L1333.7 1436.6L1335.2 1436.8L1336.7 1437.0L1338.2 1437.1L1339.7 1437.3L1341.2 1437.5L1342.7 1437.7L1344.2 1437.9L1345.7 1438.1L1347.2 1438.2L1348.7 1438.4L1350.2 1438.7L1351.7 1438.9L1353.2 1439.1L1354.7 1439.3L1356.2 1439.5L1357.7 1439.7L1359.2 1440.0L1360.7 1440.2L1362.2 1440.4L1363.7 1440.7L1365.2 1440.9L1366.7 1441.2L1368.2 1441.4L1369.7 1441.7L1371.2 1442.0L1372.7 1442.3L1374.2 1442.5L1375.7 1442.8L1377.2 1443.1L1378.7 1443.4L1380.2 1443.7L1381.7 1444.0L1383.2 1444.3L1384.7 1444.6L1386.2 1445.0L1387.7 1445.3L1389.2 1445.6L1390.7 1446.0L1392.2 1446.3L1393.7 1446.6L1395.2 1447.0L1396.7 1447.4L1398.2 1447.7L1399.7 1448.1L1401.2 1448.5L1402.7 1448.9L1404.2 1449.3L1405.7 1449.7L1407.2 1450.1L1408.7 1450.5L1410.2 1450.9L1411.7 1451.3L1413.2 1451.7L1414.7 1452.2L1416.2 1452.6L1417.7 1453.1L1419.2 1453.5L1420.7 1454.0L1422.2 1454.5L1423.7 1454.9L1425.2 1455.4L1426.7 1455.9L1428.2 1456.4L1429.7 1456.9L1431.2 1457.5L1432.7 1458.0L1434.2 1458.5L1435.7 1459.1L1437.2 1459.6L1438.7 1460.2L1440.2 1460.8L1441.7 1461.4L1443.2 1462.0L1444.7 1462.6L1446.2 1463.2L1447.7 1463.8L1449.2 1464.5L1450.7 1465.1L1452.2 1465.8L1453.7 1466.5L1455.2 1467.1L1456.7 1467.9L1458.2 1468.6L1459.7 1469.3L1461.2 1470.0L1462.7 1470.8L1464.2 1471.6L1465.7 1472.3L1467.2 1473.1L1468.7 1473.9L1470.2 1474.8L1471.7 1475.6L1473.2 1476.5L1474.7 1477.3L1476.2 1478.2L1477.7 1479.1L1479.2 1480.0L1480.7 1480.9L1482.2 1481.9L1483.7 1482.8L1485.2 1483.8L1486.7 1484.8L1488.2 1485.8L1489.7 1486.9L1491.2 1487.9L1492.7 1489.0L1494.2 1490.0L1495.7 1491.1L1497.2 1492.3L1498.7 1493.4L1500.2 1494.6L1501.7 1495.7L1503.2 1496.9L1504.7 1498.1L1506.2 1499.4L1507.7 1500.6L1509.2 1501.9L1510.7 1503.2L1512.2 1504.5L1513.7 1505.8L1515.2 1507.2L1516.7 1508.5L1518.2 1509.9L1519.7 1511.3L1521.2 1512.8L1522.7 1514.2L1524.2 1515.7L1525.7 1517.2L1527.2 1518.7L1528.7 1520.3L1530.2 1521.8L1531.7 1523.4L1533.2 1525.1L1534.7 1526.7L1536.2 1528.4L1537.7 1530.0L1539.2 1531.8L1540.7 1533.5L1542.2 1535.3L1543.7 1537.0L1545.2 1538.8L1546.7 1540.7L1548.2 1542.5L1549.7 1544.4L1551.2 1546.3L1552.7 1548.3L1554.2 1550.2L1555.7 1552.2L1557.2 1554.2L1558.7 1556.3L1560.2 1558.4L1561.7 1560.4L1563.2 1562.6L1564.7 1564.7L1566.2 1566.9L1567.7 1569.1L1569.2 1571.4L1570.7 1573.6L1572.2 1575.9L1573.7 1578.2L1575.2 1580.5L1576.7 1582.9L1578.2 1585.3L1579.7 1587.7L1581.2 1590.1L1582.7 1592.5L1584.2 1594.9L1585.7 1597.4L1587.2 1599.9L1588.7 1602.4L1590.2 1604.9L1591.7 1607.4L1593.2 1609.9L1594.7 1612.4L1596.2 1614.9L1597.7 1617.4L1599.2 1620.0L1600.7 1622.5L1602.2 1625.0L1603.7 1627.6L1605.2 1630.1L1606.7 1632.6L1608.2 1635.2L1609.7 1637.7L1611.2 1640.2L1612.7 1642.7L1614.2 1645.2L1615.7 1647.7L1617.2 1650.2L1618.7 1652.7L1620.2 1655.1L1621.7 1657.6L1623.2 1660.0L1624.7 1662.4L1626.2 1664.8L1627.7 1667.2L1629.2 1669.5L1630.7 1671.8L1632.2 1674.1L1633.7 1676.3L1635.2 1678.5L1636.7 1680.7L1638.2 1682.8L1639.7 1684.8L1641.2 1686.7L1642.7 1688.6L1644.2 1690.4L1645.7 1692.1L1647.2 1693.7L1648.7 1695.2L1650.2 1696.7L1651.7 1698.0L1653.2 1699.2L1654.7 1700.2L1656.2 1701.2L1657.7 1702.0L1659.2 1702.7L1660.7 1703.3L1662.2 1703.7L1663.7 1703.9L1665.2 1704.0L1666.7 1703.9L1668.2 1703.7L1669.7 1703.3L1671.2 1702.8L1672.7 1702.2L1674.2 1701.4L1675.7 1700.5L1677.2 1699.4L1678.7 1698.3L1680.2 1697.0L1681.7 1695.6L1683.2 1694.2L1684.7 1692.6L1686.2 1691.0L1687.7 1689.2L1689.2 1687.4L1690.7 1685.5L1692.2 1683.6L1693.7 1681.6L1695.2 1679.5L1696.7 1677.4L1698.2 1675.3L1699.7 1673.1L1701.2 1670.9L1702.7 1668.7L1704.2 1666.4L1705.7 1664.2L1707.2 1661.9L1708.7 1659.6L1710.2 1657.4L1711.7 1655.1L1713.2 1652.9L1714.7 1650.7L1716.2 1648.5L1717.7 1646.3L1719.2 1644.2L1720.7 1642.1L1722.2 1640.0L1723.7 1638.0L1725.2 1636.0L1726.7 1634.0L1728.2 1632.1L1729.7 1630.2L1731.2 1628.3L1732.7 1626.5L1734.2 1624.7L1735.7 1622.9L1737.2 1621.1L1738.7 1619.4L1740.2 1617.7L1741.7 1616.1L1743.2 1614.5L1744.7 1612.9L1746.2 1611.3L1747.7 1609.8L1749.2 1608.3L1750.7 1606.9L1752.2 1605.5L1753.7 1604.1L1755.2 1602.7L1756.7 1601.4L1758.2 1600.1L1759.7 1598.9L1761.2 1597.7L1762.7 1596.5L1764.2 1595.3L1765.7 1594.2L1767.2 1593.2L1768.7 1592.1L1770.2 1591.1L1771.7 1590.1L1773.2 1589.2L1774.7 1588.3L1776.2 1587.5L1777.7 1586.6L1779.2 1585.9L1780.7 1585.1L1782.2 1584.4L1783.7 1583.7L1785.2 1583.1L1786.7 1582.5L1788.2 1581.9L1789.7 1581.4L1791.2 1580.9L1792.7 1580.4L1794.2 1580.0L1795.7 1579.6L1797.2 1579.3L1798.7 1579.0L1800.2 1578.7L1801.7 1578.5L1803.2 1578.3L1804.7 1578.1L1806.2 1578.0L1807.7 1578.0L1809.2 1577.9L1810.7 1577.9L1812.2 1578.0L1813.7 1578.1L1815.2 1578.2L1816.7 1578.4L1818.2 1578.6L1819.7 1578.8L1821.2 1579.1L1822.7 1579.4L1824.2 1579.8L1825.7 1580.2L1827.2 1580.7L1828.7 1581.1L1830.2 1581.7L1831.7 1582.2L1833.2 1582.9L1834.7 1583.5L1836.2 1584.2L1837.7 1585.0L1839.2 1585.7L1840.7 1586.6L1842.2 1587.4L1843.7 1588.3L1845.2 1589.3L1846.7 1590.3L1848.2 1591.3L1849.7 1592.4L1851.2 1593.5L1852.7 1594.7L1854.2 1595.9L1855.7 1597.1L1857.2 1598.4L1858.7 1599.8L1860.2 1601.2L1861.7 1602.6L1863.2 1604.1L1864.7 1605.6L1866.2 1607.1L1867.7 1608.7L1869.2 1610.3L1870.7 1612.0L1872.2 1613.7L1873.7 1615.4L1875.2 1617.1L1876.7 1618.9L1878.2 1620.8L1879.7 1622.6L1881.2 1624.5L1882.7 1626.4L1884.2 1628.3L1885.7 1630.3L1887.2 1632.2L1888.7 1634.2L1890.2 1636.3L1891.7 1638.3L1893.2 1640.4L1894.7 1642.4L1896.2 1644.5L1897.7 1646.6L1899.2 1648.8L1900.7 1650.9L1902.2 1653.1L1903.7 1655.2L1905.2 1657.4L1906.7 1659.6L1908.2 1661.8L1909.7 1664.0L1911.2 1666.2L1912.7 1668.4L1914.2 1670.6L1915.7 1672.8L1917.2 1675.0L1918.7 1677.2L1920.2 1679.4L1921.7 1681.6L1923.2 1683.8L1924.7 1686.0L1926.2 1688.2L1927.7 1690.4L1929.2 1692.6L1930.7 1694.8L1932.2 1696.9L1933.7 1699.1L1935.2 1701.2L1936.7 1703.3L1938.2 1705.4L1939.7 1707.5L1941.2 1709.6L1942.7 1711.7L1944.2 1713.7L1945.7 1715.7L1947.2 1717.7L1948.7 1719.7L1950.2 1721.6L1951.7 1723.5L1953.2 1725.4L1954.7 1727.3L1956.2 1729.1L1957.7 1730.9L1959.2 1732.6L1960.7 1734.3L1962.2 1736.0L1963.7 1737.6L1965.2 1739.2L1966.7 1740.7L1968.2 1742.2L1969.7 1743.7L1971.2 1745.1L1972.7 1746.4L1974.2 1747.7L1975.7 1749.0L1977.2 1750.2L1978.7 1751.3L1980.2 1752.4L1981.7 1753.4L1983.2 1754.4L1984.7 1755.3L1986.2 1756.1L1987.7 1756.9L1989.2 1757.6L1990.7 1758.2L1992.2 1758.8L1993.7 1759.3L1995.2 1759.7L1996.7 1760.0L1998.2 1760.3L1999.7 1760.5L2001.2 1760.6L2002.7 1760.6L2004.2 1760.5L2005.7 1760.4L2007.2 1760.2L2008.7 1759.9L2010.2 1759.5L2011.7 1759.0L2013.2 1758.5L2014.7 1757.9L2016.2 1757.2L2017.7 1756.5L2019.2 1755.7L2020.7 1754.9L2022.2 1754.0L2023.7 1753.1L2025.2 1752.2L2026.7 1751.2L2028.2 1750.1L2029.7 1749.1L2031.2 1748.0L2032.7 1746.9L2034.2 1745.7L2035.7 1744.6L2037.2 1743.4L2038.7 1742.3L2040.2 1741.1L2041.7 1739.9L2043.2 1738.7L2044.7 1737.6L2046.2 1736.4L2047.7 1735.3L2049.2 1734.1L2050.7 1733.0L2052.2 1732.0L2053.7 1730.9L2055.2 1729.9L2056.7 1728.9L2058.2 1728.0L2059.7 1727.1L2061.2 1726.2L2062.7 1725.4L2064.2 1724.7L2065.7 1724.0L2067.2 1723.3L2068.7 1722.7L2070.2 1722.2L2071.7 1721.7L2073.2 1721.2L2074.7 1720.8L2076.2 1720.4L2077.7 1720.0L2079.2 1719.7L2080.7 1719.4L2082.2 1719.1L2083.7 1718.9L2085.2 1718.7L2086.7 1718.5L2088.2 1718.3L2089.7 1718.1L2091.2 1717.9L2092.7 1717.8L2094.2 1717.7L2095.7 1717.5L2097.2 1717.4L2098.7 1717.3L2100.2 1717.2L2101.7 1717.0L2103.2 1716.9L2104.7 1716.8L2106.2 1716.6L2107.7 1716.4L2109.2 1716.3L2110.7 1716.1L2112.2 1715.9L2113.7 1715.6L2115.2 1715.4L2116.7 1715.1L2118.2 1714.9L2119.7 1714.6L2121.2 1714.3L2122.7 1714.0L2124.2 1713.7L2125.7 1713.4L2127.2 1713.0L2128.7 1712.7L2130.2 1712.3L2131.7 1712.0L2133.2 1711.6L2134.7 1711.2L2136.2 1710.9L2137.7 1710.5L2139.2 1710.1L2140.7 1709.7L2142.2 1709.3L2143.7 1708.9L2145.2 1708.5L2146.7 1708.0L2148.2 1707.6L2149.7 1707.2L2151.2 1706.8L2152.7 1706.4L2154.2 1705.9L2155.7 1705.5L2157.2 1705.1L2158.7 1704.7L2160.2 1704.3L2161.7 1703.9L2163.2 1703.5L2164.7 1703.1L2166.2 1702.7L2167.7 1702.3L2169.2 1701.9L2170.7 1701.5L2172.2 1701.1L2173.7 1700.7L2175.2 1700.4L2176.7 1700.0L2178.2 1699.7L2179.7 1699.4L2181.2 1699.0L2182.7 1698.7L2184.2 1698.4L2185.7 1698.1L2187.2 1697.8L2188.7 1697.6L2190.2 1697.3L2191.7 1697.1L2193.2 1696.8L2194.7 1696.6L2196.2 1696.4L2197.7 1696.3L2199.2 1696.1L2200.7 1695.9L2202.2 1695.8L2203.7 1695.7L2205.2 1695.6L2206.7 1695.5L2208.2 1695.5L2209.7 1695.5L2211.2 1695.4L2212.7 1695.5L2214.2 1695.5L2215.7 1695.5L2217.2 1695.6L2218.7 1695.7L2220.2 1695.9L2221.7 1696.0L2223.2 1696.2L2224.7 1696.4L2226.2 1696.7L2227.7 1697.0L2229.2 1697.3L2230.7 1697.7L2232.2 1698.1L2233.7 1698.5L2235.2 1699.0L2236.7 1699.5L2238.2 1700.1L2239.7 1700.7L2241.2 1701.4L2242.7 1702.1L2244.2 1702.8L2245.7 1703.7L2247.2 1704.5L2248.7 1705.4L2250.2 1706.4L2251.7 1707.5L2253.2 1708.5L2254.7 1709.7L2256.2 1710.9L2257.7 1712.2L2259.2 1713.5L2260.7 1714.9L2262.2 1716.4L2263.7 1718.0L2265.2 1719.6L2266.7 1721.3L2268.2 1723.0L2269.7 1724.9L2271.2 1726.8L2272.7 1728.7L2274.2 1730.8L2275.7 1733.0L2277.2 1735.2" stroke="#0000ff" stroke-dasharray="10 6.2" stroke-width="9"/>
<path d="M220.7 1727.2L222.2 1728.5L223.7 1729.7L225.2 1730.8L226.7 1731.7L228.2 1732.6L229.7 1733.4L231.2 1734.1L232.7 1734.6L234.2 1735.1L235.7 1735.5L237.2 1735.9L238.7 1736.1L240.2 1736.2L241.7 1736.3L243.2 1736.3L244.7 1736.2L246.2 1736.0L247.7 1735.7L249.2 1735.4L250.7 1735.0L252.2 1734.5L253.7 1733.9L255.2 1733.3L256.7 1732.6L258.2 1731.9L259.7 1731.1L261.2 1730.2L262.7 1729.3L264.2 1728.3L265.7 1727.2L267.2 1726.1L268.7 1725.0L270.2 1723.7L271.7 1722.5L273.2 1721.2L274.7 1719.8L276.2 1718.4L277.7 1717.0L279.2 1715.5L280.7 1714.0L282.2 1712.4L283.7 1710.9L285.2 1709.2L286.7 1707.6L288.2 1705.9L289.7 1704.2L291.2 1702.4L292.7 1700.6L294.2 1698.8L295.7 1697.0L297.2 1695.2L298.7 1693.3L300.2 1691.5L301.7 1689.6L303.2 1687.7L304.7 1685.7L306.2 1683.8L307.7 1681.9L309.2 1679.9L310.7 1678.0L312.2 1676.1L313.7 1674.1L315.2 1672.2L316.7 1670.2L318.2 1668.3L319.7 1666.3L321.2 1664.4L322.7 1662.5L324.2 1660.6L325.7 1658.6L327.2 1656.8L328.7 1654.9L330.2 1653.0L331.7 1651.2L333.2 1649.4L334.7 1647.6L336.2 1645.8L337.7 1644.1L339.2 1642.4L340.7 1640.7L342.2 1639.0L343.7 1637.4L345.2 1635.8L346.7 1634.2L348.2 1632.7L349.7 1631.3L351.2 1629.8L352.7 1628.4L354.2 1627.1L355.7 1625.8L357.2 1624.5L358.7 1623.3L360.2 1622.1L361.7 1621.0L363.2 1619.9L364.7 1618.9L366.2 1617.9L367.7 1616.9L369.2 1616.0L370.7 1615.2L372.2 1614.4L373.7 1613.6L375.2 1612.9L376.7 1612.2L378.2 1611.6L379.7 1611.0L381.2 1610.4L382.7 1609.9L384.2 1609.5L385.7 1609.1L387.2 1608.8L388.7 1608.5L390.2 1608.2L391.7 1608.0L393.2 1607.8L394.7 1607.7L396.2 1607.6L397.7 1607.6L399.2 1607.7L400.7 1607.7L402.2 1607.9L403.7 1608.0L405.2 1608.3L406.7 1608.5L408.2 1608.9L409.7 1609.2L411.2 1609.7L412.7 1610.1L414.2 1610.7L415.7 1611.2L417.2 1611.9L418.7 1612.5L420.2 1613.2L421.7 1614.0L423.2 1614.8L424.7 1615.7L426.2 1616.6L427.7 1617.6L429.2 1618.6L430.7 1619.7L432.2 1620.9L433.7 1622.0L435.2 1623.3L436.7 1624.6L438.2 1625.9L439.7 1627.3L441.2 1628.7L442.7 1630.2L444.2 1631.8L445.7 1633.4L447.2 1635.0L448.7 1636.7L450.2 1638.5L451.7 1640.3L453.2 1642.2L454.7 1644.1L456.2 1646.1L457.7 1648.1L459.2 1650.2L460.7 1652.4L462.2 1654.5L463.7 1656.8L465.2 1659.1L466.7 1661.5L468.2 1663.9L469.7 1666.3L471.2 1668.9L472.7 1671.5L474.2 1674.1L475.7 1676.8L477.2 1679.5L478.7 1682.3L480.2 1685.2L481.7 1688.1L483.2 1691.1L484.7 1694.1L486.2 1697.2L487.7 1700.4L489.2 1703.6L490.7 1706.8L492.2 1710.0L493.7 1713.3L495.2 1716.6L496.7 1719.9L498.2 1723.2L499.7 1726.5L501.2 1729.7L502.7 1733.0L504.2 1736.2L505.7 1739.3L507.2 1742.4L508.7 1745.5L510.2 1748.5L511.7 1751.4L513.2 1754.3L514.7 1757.0L516.2 1759.7L517.7 1762.3L519.2 1764.7L520.7 1767.1L522.2 1769.3L523.7 1771.4L525.2 1773.3L526.7 1775.1L528.2 1776.7L529.7 1778.2L531.2 1779.5L532.7 1780.7L534.2 1781.6L535.7 1782.3L537.2 1782.9L538.7 1783.2L540.2 1783.4L541.7 1783.2L543.2 1782.9L544.7 1782.3L546.2 1781.5L547.7 1780.4L549.2 1779.1L550.7 1777.5L552.2 1775.6L553.7 1773.4L555.2 1771.0L556.7 1768.3L558.2 1765.4L559.7 1762.2L561.2 1758.9L562.7 1755.4L564.2 1751.7L565.7 1747.8L567.2 1743.8L568.7 1739.6L570.2 1735.4L571.7 1731.0L573.2 1726.5L574.7 1722.0L576.2 1717.4L577.7 1712.8L579.2 1708.2L580.7 1703.5L582.2 1698.9L583.7 1694.2L585.2 1689.6L586.7 1685.1L588.2 1680.6L589.7 1676.2L591.2 1671.9L592.7 1667.7L594.2 1663.6L595.7 1659.6L597.2 1655.7L598.7 1651.8L600.2 1648.1L601.7 1644.5L603.2 1641.0L604.7 1637.6L606.2 1634.3L607.7 1631.0L609.2 1627.9L610.7 1624.8L612.2 1621.8L613.7 1618.9L615.2 1616.1L616.7 1613.4L618.2 1610.8L619.7 1608.2L621.2 1605.7L622.7 1603.3L624.2 1600.9L625.7 1598.7L627.2 1596.5L628.7 1594.3L630.2 1592.3L631.7 1590.3L633.2 1588.4L634.7 1586.5L636.2 1584.7L637.7 1583.0L639.2 1581.3L640.7 1579.7L642.2 1578.1L643.7 1576.6L645.2 1575.2L646.7 1573.8L648.2 1572.4L649.7 1571.1L651.2 1569.9L652.7 1568.7L654.2 1567.5L655.7 1566.4L657.2 1565.3L658.7 1564.3L660.2 1563.3L661.7 1562.4L663.2 1561.5L664.7 1560.6L666.2 1559.7L667.7 1558.9L669.2 1558.2L670.7 1557.5L672.2 1556.8L673.7 1556.1L675.2 1555.5L676.7 1555.0L678.2 1554.4L679.7 1553.9L681.2 1553.5L682.7 1553.1L684.2 1552.7L685.7 1552.4L687.2 1552.1L688.7 1551.8L690.2 1551.6L691.7 1551.4L693.2 1551.3L694.7 1551.2L696.2 1551.2L697.7 1551.1L699.2 1551.2L700.7 1551.2L702.2 1551.3L703.7 1551.5L705.2 1551.6L706.7 1551.9L708.2 1552.1L709.7 1552.4L711.2 1552.8L712.7 1553.1L714.2 1553.6L715.7 1554.0L717.2 1554.5L718.7 1555.0L720.2 1555.6L721.7 1556.2L723.2 1556.8L724.7 1557.5L726.2 1558.2L727.7 1558.9L729.2 1559.6L730.7 1560.4L732.2 1561.2L733.7 1562.1L735.2 1562.9L736.7 1563.8L738.2 1564.8L739.7 1565.7L741.2 1566.7L742.7 1567.6L744.2 1568.7L745.7 1569.7L747.2 1570.7L748.7 1571.8L750.2 1572.9L751.7 1574.0L753.2 1575.1L754.7 1576.3L756.2 1577.4L757.7 1578.6L759.2 1579.8L760.7 1581.0L762.2 1582.2L763.7 1583.4L765.2 1584.6L766.7 1585.9L768.2 1587.1L769.7 1588.4L771.2 1589.6L772.7 1590.9L774.2 1592.2L775.7 1593.4L777.2 1594.7L778.7 1596.0L780.2 1597.3L781.7 1598.6L783.2 1599.9L784.7 1601.2L786.2 1602.5L787.7 1603.8L789.2 1605.1L790.7 1606.3L792.2 1607.6L793.7 1608.9L795.2 1610.2L796.7 1611.4L798.2 1612.6L799.7 1613.8L801.2 1615.0L802.7 1616.2L804.2 1617.4L805.7 1618.5L807.2 1619.6L808.7 1620.6L810.2 1621.7L811.7 1622.7L813.2 1623.6L814.7 1624.5L816.2 1625.4L817.7 1626.2L819.2 1627.0L820.7 1627.7L822.2 1628.4L823.7 1629.1L825.2 1629.6L826.7 1630.1L828.2 1630.6L829.7 1631.0L831.2 1631.3L832.7 1631.6L834.2 1631.8L835.7 1631.9L837.2 1631.9L838.7 1631.9L840.2 1631.8L841.7 1631.6L843.2 1631.3L844.7 1631.0L846.2 1630.6L847.7 1630.1L849.2 1629.6L850.7 1629.0L852.2 1628.3L853.7 1627.6L855.2 1626.8L856.7 1625.9L858.2 1625.0L859.7 1624.0L861.2 1623.0L862.7 1621.9L864.2 1620.8L865.7 1619.6L867.2 1618.4L868.7 1617.1L870.2 1615.8L871.7 1614.4L873.2 1613.0L874.7 1611.5L876.2 1610.0L877.7 1608.5L879.2 1606.9L880.7 1605.3L882.2 1603.7L883.7 1602.0L885.2 1600.3L886.7 1598.6L888.2 1596.9L889.7 1595.1L891.2 1593.3L892.7 1591.5L894.2 1589.6L895.7 1587.8L897.2 1585.9L898.7 1584.0L900.2 1582.1L901.7 1580.2L903.2 1578.2L904.7 1576.3L906.2 1574.3L907.7 1572.4L909.2 1570.4L910.7 1568.4L912.2 1566.5L913.7 1564.5L915.2 1562.5L916.7 1560.6L918.2 1558.6L919.7 1556.7L921.2 1554.7L922.7 1552.8L924.2 1550.9L925.7 1548.9L927.2 1547.0L928.7 1545.2L930.2 1543.3L931.7 1541.4L933.2 1539.6L934.7 1537.8L936.2 1536.0L937.7 1534.2L939.2 1532.4L940.7 1530.6L942.2 1528.9L943.7 1527.2L945.2 1525.4L946.7 1523.7L948.2 1522.1L949.7 1520.4L951.2 1518.7L952.7 1517.1L954.2 1515.5L955.7 1513.8L957.2 1512.2L958.7 1510.7L960.2 1509.1L961.7 1507.5L963.2 1506.0L964.7 1504.5L966.2 1502.9L967.7 1501.4L969.2 1500.0L970.7 1498.5L972.2 1497.0L973.7 1495.6L975.2 1494.1L976.7 1492.7L978.2 1491.3L979.7 1489.9L981.2 1488.6L982.7 1487.2L984.2 1485.8L985.7 1484.5L987.2 1483.2L988.7 1481.9L990.2 1480.6L991.7 1479.3L993.2 1478.0L994.7 1476.8L996.2 1475.5L997.7 1474.3L999.2 1473.1L1000.7 1471.8L1002.2 1470.7L1003.7 1469.5L1005.2 1468.3L1006.7 1467.1L1008.2 1466.0L1009.7 1464.9L1011.2 1463.7L1012.7 1462.6L1014.2 1461.5L1015.7 1460.4L1017.2 1459.4L1018.7 1458.3L1020.2 1457.3L1021.7 1456.2L1023.2 1455.2L1024.7 1454.2L1026.2 1453.2L1027.7 1452.2L1029.2 1451.2L1030.7 1450.2L1032.2 1449.3L1033.7 1448.3L1035.2 1447.4L1036.7 1446.5L1038.2 1445.6L1039.7 1444.7L1041.2 1443.8L1042.7 1442.9L1044.2 1442.0L1045.7 1441.2L1047.2 1440.3L1048.7 1439.5L1050.2 1438.7L1051.7 1437.9L1053.2 1437.0L1054.7 1436.3L1056.2 1435.5L1057.7 1434.7L1059.2 1433.9L1060.7 1433.2L1062.2 1432.4L1063.7 1431.7L1065.2 1431.0L1066.7 1430.3L1068.2 1429.6L1069.7 1428.9L1071.2 1428.2L1072.7 1427.5L1074.2 1426.9L1075.7 1426.2L1077.2 1425.6L1078.7 1424.9L1080.2 1424.3L1081.7 1423.7L1083.2 1423.1L1084.7 1422.5L1086.2 1421.9L1087.7 1421.3L1089.2 1420.7L1090.7 1420.2L1092.2 1419.6L1093.7 1419.1L1095.2 1418.5L1096.7 1418.0L1098.2 1417.5L1099.7 1417.0L1101.2 1416.5L1102.7 1416.0L1104.2 1415.5L1105.7 1415.0L1107.2 1414.6L1108.7 1414.1L1110.2 1413.7L1111.7 1413.2L1113.2 1412.8L1114.7 1412.4L1116.2 1411.9L1117.7 1411.5L1119.2 1411.1L1120.7 1410.7L1122.2 1410.3L1123.7 1410.0L1125.2 1409.6L1126.7 1409.2L1128.2 1408.9L1129.7 1408.5L1131.2 1408.2L1132.7 1407.8L1134.2 1407.5L1135.7 1407.2L1137.2 1406.9L1138.7 1406.6L1140.2 1406.3L1141.7 1406.0L1143.2 1405.7L1144.7 1405.4L1146.2 1405.1L1147.7 1404.9L1149.2 1404.6L1150.7 1404.4L1152.2 1404.1L1153.7 1403.9L1155.2 1403.6L1156.7 1403.4L1158.2 1403.2L1159.7 1403.0L1161.2 1402.8L1162.7 1402.6L1164.2 1402.4L1165.7 1402.2L1167.2 1402.0L1168.7 1401.8L1170.2 1401.6L1171.7 1401.5L1173.2 1401.3L1174.7 1401.1L1176.2 1401.0L1177.7 1400.8L1179.2 1400.7L1180.7 1400.6L1182.2 1400.4L1183.7 1400.3L1185.2 1400.2L1186.7 1400.1L1188.2 1400.0L1189.7 1399.8L1191.2 1399.7L1192.7 1399.6L1194.2 1399.6L1195.7 1399.5L1197.2 1399.4L1198.7 1399.3L1200.2 1399.2L1201.7 1399.2L1203.2 1399.1L1204.7 1399.0L1206.2 1399.0L1207.7 1398.9L1209.2 1398.9L1210.7 1398.8L1212.2 1398.8L1213.7 1398.8L1215.2 1398.7L1216.7 1398.7L1218.2 1398.7L1219.7 1398.7L1221.2 1398.7L1222.7 1398.6L1224.2 1398.6L1225.7 1398.6L1227.2 1398.6L1228.7 1398.6L1230.2 1398.6L1231.7 1398.6L1233.2 1398.6L1234.7 1398.7L1236.2 1398.7L1237.7 1398.7L1239.2 1398.7L1240.7 1398.7L1242.2 1398.8L1243.7 1398.8L1245.2 1398.8L1246.7 1398.9L1248.2 1398.9L1249.7 1398.9L1251.2 1399.0L1252.7 1399.0L1254.2 1399.1L1255.7 1399.1L1257.2 1399.2L1258.7 1399.2L1260.2 1399.3L1261.7 1399.4L1263.2 1399.4L1264.7 1399.5L1266.2 1399.5L1267.7 1399.6L1269.2 1399.7L1270.7 1399.7L1272.2 1399.8L1273.7 1399.9L1275.2 1400.0L1276.7 1400.0L1278.2 1400.1L1279.7 1400.2L1281.2 1400.3L1282.7 1400.3L1284.2 1400.4L1285.7 1400.5L1287.2 1400.6L1288.7 1400.7L1290.2 1400.8L1291.7 1400.8L1293.2 1400.9L1294.7 1401.0L1296.2 1401.1L1297.7 1401.2L1299.2 1401.3L1300.7 1401.4L1302.2 1401.4L1303.7 1401.5L1305.2 1401.6L1306.7 1401.7L1308.2 1401.8L1309.7 1401.9L1311.2 1402.0L1312.7 1402.1L1314.2 1402.2L1315.7 1402.3L1317.2 1402.3L1318.7 1402.4L1320.2 1402.5L1321.7 1402.6L1323.2 1402.7L1324.7 1402.8L1326.2 1402.9L1327.7 1403.0L1329.2 1403.1L1330.7 1403.2L1332.2 1403.4L1333.7 1403.5L1335.2 1403.6L1336.7 1403.7L1338.2 1403.8L1339.7 1403.9L1341.2 1404.1L1342.7 1404.2L1344.2 1404.3L1345.7 1404.4L1347.2 1404.6L1348.7 1404.7L1350.2 1404.9L1351.7 1405.0L1353.2 1405.2L1354.7 1405.3L1356.2 1405.5L1357.7 1405.6L1359.2 1405.8L1360.7 1406.0L1362.2 1406.1L1363.7 1406.3L1365.2 1406.5L1366.7 1406.7L1368.2 1406.9L1369.7 1407.1L1371.2 1407.3L1372.7 1407.5L1374.2 1407.7L1375.7 1408.0L1377.2 1408.2L1378.7 1408.4L1380.2 1408.7L1381.7 1408.9L1383.2 1409.2L1384.7 1409.4L1386.2 1409.7L1387.7 1410.0L1389.2 1410.2L1390.7 1410.5L1392.2 1410.8L1393.7 1411.1L1395.2 1411.4L1396.7 1411.7L1398.2 1412.1L1399.7 1412.4L1401.2 1412.7L1402.7 1413.1L1404.2 1413.4L1405.7 1413.8L1407.2 1414.2L1408.7 1414.6L1410.2 1414.9L1411.7 1415.3L1413.2 1415.7L1414.7 1416.2L1416.2 1416.6L1417.7 1417.0L1419.2 1417.4L1420.7 1417.9L1422.2 1418.4L1423.7 1418.8L1425.2 1419.3L1426.7 1419.8L1428.2 1420.3L1429.7 1420.8L1431.2 1421.3L1432.7 1421.9L1434.2 1422.4L1435.7 1422.9L1437.2 1423.5L1438.7 1424.1L1440.2 1424.7L1441.7 1425.3L1443.2 1425.9L1444.7 1426.5L1446.2 1427.1L1447.7 1427.7L1449.2 1428.4L1450.7 1429.1L1452.2 1429.7L1453.7 1430.4L1455.2 1431.1L1456.7 1431.8L1458.2 1432.6L1459.7 1433.3L1461.2 1434.0L1462.7 1434.8L1464.2 1435.6L1465.7 1436.4L1467.2 1437.2L1468.7 1438.0L1470.2 1438.8L1471.7 1439.7L1473.2 1440.5L1474.7 1441.4L1476.2 1442.3L1477.7 1443.2L1479.2 1444.1L1480.7 1445.0L1482.2 1445.9L1483.7 1446.9L1485.2 1447.9L1486.7 1448.8L1488.2 1449.8L1489.7 1450.8L1491.2 1451.9L1492.7 1452.9L1494.2 1454.0L1495.7 1455.1L1497.2 1456.1L1498.7 1457.2L1500.2 1458.4L1501.7 1459.5L1503.2 1460.7L1504.7 1461.8L1506.2 1463.0L1507.7 1464.2L1509.2 1465.4L1510.7 1466.7L1512.2 1467.9L1513.7 1469.2L1515.2 1470.5L1516.7 1471.8L1518.2 1473.1L1519.7 1474.5L1521.2 1475.8L1522.7 1477.2L1524.2 1478.6L1525.7 1480.0L1527.2 1481.4L1528.7 1482.9L1530.2 1484.3L1531.7 1485.8L1533.2 1487.3L1534.7 1488.8L1536.2 1490.4L1537.7 1491.9L1539.2 1493.5L1540.7 1495.1L1542.2 1496.7L1543.7 1498.4L1545.2 1500.0L1546.7 1501.7L1548.2 1503.4L1549.7 1505.1L1551.2 1506.8L1552.7 1508.6L1554.2 1510.4L1555.7 1512.1L1557.2 1514.0L1558.7 1515.8L1560.2 1517.7L1561.7 1519.5L1563.2 1521.4L1564.7 1523.3L1566.2 1525.3L1567.7 1527.3L1569.2 1529.2L1570.7 1531.2L1572.2 1533.3L1573.7 1535.3L1575.2 1537.4L1576.7 1539.5L1578.2 1541.6L1579.7 1543.7L1581.2 1545.9L1582.7 1548.1L1584.2 1550.3L1585.7 1552.5L1587.2 1554.8L1588.7 1557.0L1590.2 1559.3L1591.7 1561.7L1593.2 1564.0L1594.7 1566.4L1596.2 1568.8L1597.7 1571.2L1599.2 1573.6L1600.7 1576.1L1602.2 1578.6L1603.7 1581.1L1605.2 1583.6L1606.7 1586.2L1608.2 1588.8L1609.7 1591.4L1611.2 1594.0L1612.7 1596.7L1614.2 1599.4L1615.7 1602.1L1617.2 1604.8L1618.7 1607.6L1620.2 1610.4L1621.7 1613.2L1623.2 1616.0L1624.7 1618.9L1626.2 1621.8L1627.7 1624.7L1629.2 1627.6L1630.7 1630.6L1632.2 1633.6L1633.7 1636.6L1635.2 1639.6L1636.7 1642.7L1638.2 1645.7L1639.7 1648.7L1641.2 1651.7L1642.7 1654.6L1644.2 1657.5L1645.7 1660.3L1647.2 1663.1L1648.7 1665.8L1650.2 1668.5L1651.7 1671.0L1653.2 1673.4L1654.7 1675.8L1656.2 1678.0L1657.7 1680.0L1659.2 1682.0L1660.7 1683.8L1662.2 1685.4L1663.7 1686.9L1665.2 1688.2L1666.7 1689.4L1668.2 1690.3L1669.7 1691.1L1671.2 1691.7L1672.7 1692.2L1674.2 1692.5L1675.7 1692.6L1677.2 1692.6L1678.7 1692.5L1680.2 1692.2L1681.7 1691.8L1683.2 1691.3L1684.7 1690.6L1686.2 1689.9L1687.7 1689.0L1689.2 1688.0L1690.7 1686.9L1692.2 1685.7L1693.7 1684.4L1695.2 1683.1L1696.7 1681.6L1698.2 1680.1L1699.7 1678.5L1701.2 1676.8L1702.7 1675.1L1704.2 1673.3L1705.7 1671.5L1707.2 1669.6L1708.7 1667.7L1710.2 1665.7L1711.7 1663.7L1713.2 1661.7L1714.7 1659.6L1716.2 1657.6L1717.7 1655.5L1719.2 1653.4L1720.7 1651.3L1722.2 1649.2L1723.7 1647.1L1725.2 1645.0L1726.7 1642.9L1728.2 1640.9L1729.7 1638.8L1731.2 1636.7L1732.7 1634.6L1734.2 1632.6L1735.7 1630.5L1737.2 1628.5L1738.7 1626.4L1740.2 1624.4L1741.7 1622.4L1743.2 1620.4L1744.7 1618.4L1746.2 1616.4L1747.7 1614.5L1749.2 1612.5L1750.7 1610.6L1752.2 1608.7L1753.7 1606.8L1755.2 1605.0L1756.7 1603.1L1758.2 1601.3L1759.7 1599.5L1761.2 1597.8L1762.7 1596.0L1764.2 1594.3L1765.7 1592.7L1767.2 1591.0L1768.7 1589.4L1770.2 1587.8L1771.7 1586.2L1773.2 1584.7L1774.7 1583.2L1776.2 1581.8L1777.7 1580.4L1779.2 1579.0L1780.7 1577.7L1782.2 1576.4L1783.7 1575.1L1785.2 1573.9L1786.7 1572.7L1788.2 1571.6L1789.7 1570.5L1791.2 1569.4L1792.7 1568.4L1794.2 1567.4L1795.7 1566.5L1797.2 1565.6L1798.7 1564.7L1800.2 1563.9L1801.7 1563.1L1803.2 1562.3L1804.7 1561.6L1806.2 1561.0L1807.7 1560.3L1809.2 1559.8L1810.7 1559.2L1812.2 1558.7L1813.7 1558.2L1815.2 1557.8L1816.7 1557.4L1818.2 1557.1L1819.7 1556.8L1821.2 1556.5L1822.7 1556.3L1824.2 1556.1L1825.7 1556.0L1827.2 1555.9L1828.7 1555.9L1830.2 1555.8L1831.7 1555.9L1833.2 1556.0L1834.7 1556.1L1836.2 1556.2L1837.7 1556.4L1839.2 1556.7L1840.7 1556.9L1842.2 1557.3L1843.7 1557.6L1845.2 1558.0L1846.7 1558.5L1848.2 1559.0L1849.7 1559.5L1851.2 1560.1L1852.7 1560.7L1854.2 1561.4L1855.7 1562.1L1857.2 1562.8L1858.7 1563.6L1860.2 1564.4L1861.7 1565.3L1863.2 1566.2L1864.7 1567.2L1866.2 1568.2L1867.7 1569.2L1869.2 1570.3L1870.7 1571.5L1872.2 1572.6L1873.7 1573.9L1875.2 1575.1L1876.7 1576.4L1878.2 1577.8L1879.7 1579.2L1881.2 1580.6L1882.7 1582.1L1884.2 1583.6L1885.7 1585.2L1887.2 1586.8L1888.7 1588.5L1890.2 1590.2L1891.7 1592.0L1893.2 1593.8L1894.7 1595.6L1896.2 1597.5L1897.7 1599.5L1899.2 1601.4L1900.7 1603.5L1902.2 1605.6L1903.7 1607.7L1905.2 1609.9L1906.7 1612.1L1908.2 1614.4L1909.7 1616.7L1911.2 1619.1L1912.7 1621.5L1914.2 1624.0L1915.7 1626.5L1917.2 1629.1L1918.7 1631.8L1920.2 1634.4L1921.7 1637.2L1923.2 1639.9L1924.7 1642.7L1926.2 1645.6L1927.7 1648.5L1929.2 1651.3L1930.7 1654.3L1932.2 1657.2L1933.7 1660.2L1935.2 1663.1L1936.7 1666.1L1938.2 1669.1L1939.7 1672.1L1941.2 1675.1L1942.7 1678.1L1944.2 1681.1L1945.7 1684.0L1947.2 1687.0L1948.7 1689.9L1950.2 1692.8L1951.7 1695.7L1953.2 1698.6L1954.7 1701.4L1956.2 1704.2L1957.7 1706.9L1959.2 1709.6L1960.7 1712.3L1962.2 1714.9L1963.7 1717.4L1965.2 1719.9L1966.7 1722.4L1968.2 1724.7L1969.7 1727.0L1971.2 1729.3L1972.7 1731.4L1974.2 1733.5L1975.7 1735.5L1977.2 1737.4L1978.7 1739.2L1980.2 1740.9L1981.7 1742.6L1983.2 1744.1L1984.7 1745.5L1986.2 1746.8L1987.7 1748.1L1989.2 1749.2L1990.7 1750.2L1992.2 1751.1L1993.7 1751.9L1995.2 1752.6L1996.7 1753.2L1998.2 1753.8L1999.7 1754.2L2001.2 1754.5L2002.7 1754.8L2004.2 1754.9L2005.7 1754.9L2007.2 1754.9L2008.7 1754.8L2010.2 1754.6L2011.7 1754.3L2013.2 1753.9L2014.7 1753.4L2016.2 1752.8L2017.7 1752.2L2019.2 1751.5L2020.7 1750.7L2022.2 1749.8L2023.7 1748.8L2025.2 1747.8L2026.7 1746.7L2028.2 1745.6L2029.7 1744.4L2031.2 1743.1L2032.7 1741.8L2034.2 1740.4L2035.7 1739.0L2037.2 1737.6L2038.7 1736.2L2040.2 1734.7L2041.7 1733.2L2043.2 1731.7L2044.7 1730.1L2046.2 1728.6L2047.7 1727.1L2049.2 1725.5L2050.7 1724.0L2052.2 1722.5L2053.7 1720.9L2055.2 1719.5L2056.7 1718.0L2058.2 1716.5L2059.7 1715.1L2061.2 1713.7L2062.7 1712.4L2064.2 1711.1L2065.7 1709.8L2067.2 1708.6L2068.7 1707.4L2070.2 1706.3L2071.7 1705.2L2073.2 1704.2L2074.7 1703.1L2076.2 1702.1L2077.7 1701.2L2079.2 1700.3L2080.7 1699.4L2082.2 1698.5L2083.7 1697.7L2085.2 1696.8L2086.7 1696.1L2088.2 1695.3L2089.7 1694.5L2091.2 1693.8L2092.7 1693.1L2094.2 1692.4L2095.7 1691.7L2097.2 1691.1L2098.7 1690.4L2100.2 1689.8L2101.7 1689.2L2103.2 1688.6L2104.7 1688.0L2106.2 1687.4L2107.7 1686.8L2109.2 1686.2L2110.7 1685.6L2112.2 1685.0L2113.7 1684.4L2115.2 1683.8L2116.7 1683.2L2118.2 1682.6L2119.7 1682.0L2121.2 1681.4L2122.7 1680.8L2124.2 1680.2L2125.7 1679.6L2127.2 1679.0L2128.7 1678.3L2130.2 1677.7L2131.7 1677.1L2133.2 1676.4L2134.7 1675.8L2136.2 1675.2L2137.7 1674.6L2139.2 1673.9L2140.7 1673.3L2142.2 1672.7L2143.7 1672.1L2145.2 1671.5L2146.7 1670.9L2148.2 1670.3L2149.7 1669.7L2151.2 1669.1L2152.7 1668.5L2154.2 1668.0L2155.7 1667.4L2157.2 1666.9L2158.7 1666.3L2160.2 1665.8L2161.7 1665.3L2163.2 1664.8L2164.7 1664.3L2166.2 1663.9L2167.7 1663.4L2169.2 1663.0L2170.7 1662.6L2172.2 1662.2L2173.7 1661.8L2175.2 1661.4L2176.7 1661.1L2178.2 1660.8L2179.7 1660.5L2181.2 1660.2L2182.7 1659.9L2184.2 1659.7L2185.7 1659.5L2187.2 1659.3L2188.7 1659.2L2190.2 1659.0L2191.7 1658.9L2193.2 1658.8L2194.7 1658.8L2196.2 1658.7L2197.7 1658.7L2199.2 1658.8L2200.7 1658.8L2202.2 1658.9L2203.7 1659.1L2205.2 1659.2L2206.7 1659.4L2208.2 1659.6L2209.7 1659.9L2211.2 1660.2L2212.7 1660.5L2214.2 1660.9L2215.7 1661.3L2217.2 1661.7L2218.7 1662.2L2220.2 1662.7L2221.7 1663.3L2223.2 1663.9L2224.7 1664.5L2226.2 1665.2L2227.7 1665.9L2229.2 1666.7L2230.7 1667.5L2232.2 1668.4L2233.7 1669.3L2235.2 1670.2L2236.7 1671.2L2238.2 1672.3L2239.7 1673.4L2241.2 1674.5L2242.7 1675.7L2244.2 1676.9L2245.7 1678.2L2247.2 1679.6L2248.7 1681.0L2250.2 1682.4L2251.7 1683.9L2253.2 1685.5L2254.7 1687.1L2256.2 1688.7L2257.7 1690.5L2259.2 1692.2L2260.7 1694.1L2262.2 1696.0L2263.7 1697.9L2265.2 1699.9L2266.7 1702.0L2268.2 1704.1L2269.7 1706.3L2271.2 1708.6L2272.7 1710.9L2274.2 1713.3L2275.7 1715.7L2277.2 1718.3" stroke="#46a800" stroke-dasharray="30 6.5 18 6.5" stroke-width="8.9"/>
</g>
<rect x="1714.0" y="2074.9" width="553.6" height="216.4" fill="#fff"/>
<path d="M1719.0 2111.2H1788.5" stroke="#000" stroke-width="8.7"/>
<path d="M1719.0 2183.8H1788.5" stroke="#0000ff" stroke-width="8.7" stroke-dasharray="9.8 6.6"/>
<path d="M1719.0 2255.6h33m8.5 0h17m7 0h4.5" stroke="#46a800" stroke-width="8.7"/>
<text x="1796.1" y="2140.2" font-size="72" font-weight="bold" fill="#000" stroke="#fff" stroke-width="0.7" stroke-linejoin="round"><tspan textLength="239.0" lengthAdjust="spacing">Vivaldi</tspan></text>
<text x="1794.6" y="2212.0" font-size="72" font-weight="bold" fill="#000" stroke="#fff" stroke-width="0.7" stroke-linejoin="round"><tspan textLength="34.0" lengthAdjust="spacingAndGlyphs">3</tspan> <tspan x="1849.5" textLength="239.0" lengthAdjust="spacing">Vivaldi</tspan> <tspan x="2103.9" textLength="159.5" lengthAdjust="spacingAndGlyphs">array</tspan></text>
<text x="1794.6" y="2283.8" font-size="72" font-weight="bold" fill="#000" stroke="#fff" stroke-width="0.7" stroke-linejoin="round"><tspan textLength="34.0" lengthAdjust="spacingAndGlyphs">5</tspan> <tspan x="1849.5" textLength="239.0" lengthAdjust="spacing">Vivaldi</tspan> <tspan x="2103.9" textLength="159.5" lengthAdjust="spacingAndGlyphs">array</tspan></text>
<rect x="1714.0" y="2074.9" width="553.6" height="216.4" fill="none" stroke="#3c3c3c" stroke-width="4.2"/>
<text transform="translate(220.6 2390.0) scale(1.0400 1.0000)" font-size="70.0" font-weight="normal" text-anchor="middle" fill="#161616" stroke="#161616" stroke-width="1.50" stroke-linejoin="round">0</text>
<text transform="translate(449.2 2390.0) scale(1.0400 1.0000)" font-size="70.0" font-weight="normal" text-anchor="middle" fill="#161616" stroke="#161616" stroke-width="1.50" stroke-linejoin="round">20</text>
<text transform="translate(677.8 2390.0) scale(1.0400 1.0000)" font-size="70.0" font-weight="normal" text-anchor="middle" fill="#161616" stroke="#161616" stroke-width="1.50" stroke-linejoin="round">40</text>
<text transform="translate(906.5 2390.0) scale(1.0400 1.0000)" font-size="70.0" font-weight="normal" text-anchor="middle" fill="#161616" stroke="#161616" stroke-width="1.50" stroke-linejoin="round">60</text>
<text transform="translate(1135.1 2390.0) scale(1.0400 1.0000)" font-size="70.0" font-weight="normal" text-anchor="middle" fill="#161616" stroke="#161616" stroke-width="1.50" stroke-linejoin="round">80</text>
<text transform="translate(1363.7 2390.0) scale(1.0400 1.0000)" font-size="70.0" font-weight="normal" text-anchor="middle" fill="#161616" stroke="#161616" stroke-width="1.50" stroke-linejoin="round">100</text>
<text transform="translate(1592.3 2390.0) scale(1.0400 1.0000)" font-size="70.0" font-weight="normal" text-anchor="middle" fill="#161616" stroke="#161616" stroke-width="1.50" stroke-linejoin="round">120</text>
<text transform="translate(1821.0 2390.0) scale(1.0400 1.0000)" font-size="70.0" font-weight="normal" text-anchor="middle" fill="#161616" stroke="#161616" stroke-width="1.50" stroke-linejoin="round">140</text>
<text transform="translate(2049.6 2390.0) scale(1.0400 1.0000)" font-size="70.0" font-weight="normal" text-anchor="middle" fill="#161616" stroke="#161616" stroke-width="1.50" stroke-linejoin="round">160</text>
<text transform="translate(2278.2 2390.0) scale(1.0400 1.0000)" font-size="70.0" font-weight="normal" text-anchor="middle" fill="#161616" stroke="#161616" stroke-width="1.50" stroke-linejoin="round">180</text>
<text transform="translate(201.5 2336.0) scale(1.0400 1.0000)" font-size="70.0" font-weight="normal" text-anchor="end" fill="#161616" stroke="#161616" stroke-width="1.50" stroke-linejoin="round">-20</text>
<text transform="translate(201.5 2205.2) scale(1.0400 1.0000)" font-size="70.0" font-weight="normal" text-anchor="end" fill="#161616" stroke="#161616" stroke-width="1.50" stroke-linejoin="round">-15</text>
<text transform="translate(201.5 2074.5) scale(1.0400 1.0000)" font-size="70.0" font-weight="normal" text-anchor="end" fill="#161616" stroke="#161616" stroke-width="1.50" stroke-linejoin="round">-10</text>
<text transform="translate(201.5 1943.7) scale(1.0400 1.0000)" font-size="70.0" font-weight="normal" text-anchor="end" fill="#161616" stroke="#161616" stroke-width="1.50" stroke-linejoin="round">-5</text>
<text transform="translate(201.5 1812.9) scale(1.0400 1.0000)" font-size="70.0" font-weight="normal" text-anchor="end" fill="#161616" stroke="#161616" stroke-width="1.50" stroke-linejoin="round">0</text>
<text transform="translate(201.5 1682.1) scale(1.0400 1.0000)" font-size="70.0" font-weight="normal" text-anchor="end" fill="#161616" stroke="#161616" stroke-width="1.50" stroke-linejoin="round">5</text>
<text transform="translate(201.5 1551.4) scale(1.0400 1.0000)" font-size="70.0" font-weight="normal" text-anchor="end" fill="#161616" stroke="#161616" stroke-width="1.50" stroke-linejoin="round">10</text>
<text transform="translate(201.5 1420.6) scale(1.0400 1.0000)" font-size="70.0" font-weight="normal" text-anchor="end" fill="#161616" stroke="#161616" stroke-width="1.50" stroke-linejoin="round">15</text>
<text transform="translate(94.5 1851.6) rotate(-90) scale(0.9930 1.0000)" font-size="82.0" font-weight="bold" text-anchor="middle" fill="#161616" stroke="#fff" stroke-width="0.7" stroke-linejoin="round">gain [dB]</text>
<text transform="translate(1250 2488.5) scale(1.105 1)" font-size="75" text-anchor="middle" fill="#161616" font-weight="bold"><tspan font-weight="normal" stroke="#161616" stroke-width="1.6">θ</tspan> [º]</text>
<text transform="translate(1178.2 2632.5) scale(0.96 1)" font-size="80" text-anchor="middle" fill="#000" font-weight="normal" stroke="#fff" stroke-width="0.6">(<tspan font-weight="bold">b</tspan>)</text>
</g>
</g>
</svg></body></html>
